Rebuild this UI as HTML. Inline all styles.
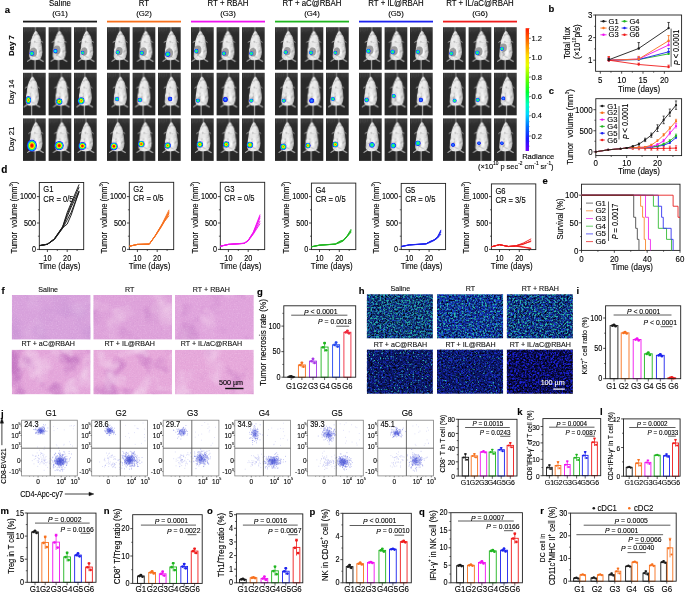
<!DOCTYPE html>
<html><head><meta charset="utf-8"><style>
html,body{margin:0;padding:0;background:#fff;}
svg{display:block;font-family:"Liberation Sans", sans-serif;will-change:transform;filter:blur(0.35px);}
</style></head><body>
<svg width="685" height="593" viewBox="0 0 685 593">
<defs>

<radialGradient id="bLow"><stop offset="0" stop-color="#3cff3c"/><stop offset="0.45" stop-color="#10e8a0"/><stop offset="0.7" stop-color="#00a0ff"/><stop offset="0.9" stop-color="#1a2cff"/><stop offset="1" stop-color="#3030ff" stop-opacity="0.6"/></radialGradient>
<radialGradient id="bCyan"><stop offset="0" stop-color="#40ffe0"/><stop offset="0.45" stop-color="#00d8ff"/><stop offset="0.75" stop-color="#0050ff"/><stop offset="1" stop-color="#2020ff" stop-opacity="0.6"/></radialGradient>
<radialGradient id="bBlue"><stop offset="0" stop-color="#3aa8ff"/><stop offset="0.5" stop-color="#1050ff"/><stop offset="0.85" stop-color="#2020f0"/><stop offset="1" stop-color="#4040ff" stop-opacity="0.5"/></radialGradient>
<radialGradient id="bMid"><stop offset="0" stop-color="#ff3000"/><stop offset="0.22" stop-color="#ffc000"/><stop offset="0.42" stop-color="#c0ff00"/><stop offset="0.6" stop-color="#10e040"/><stop offset="0.78" stop-color="#00b0ff"/><stop offset="0.92" stop-color="#1830ff"/><stop offset="1" stop-color="#3030ff" stop-opacity="0.6"/></radialGradient>
<radialGradient id="bMid2"><stop offset="0" stop-color="#ff2000"/><stop offset="0.3" stop-color="#ff9000"/><stop offset="0.5" stop-color="#e0ff00"/><stop offset="0.65" stop-color="#20e040"/><stop offset="0.82" stop-color="#00a0ff"/><stop offset="0.95" stop-color="#1a28ff"/><stop offset="1" stop-color="#3030ff" stop-opacity="0.6"/></radialGradient>
<radialGradient id="bHigh"><stop offset="0" stop-color="#e00000"/><stop offset="0.22" stop-color="#ff2000"/><stop offset="0.38" stop-color="#ffa000"/><stop offset="0.5" stop-color="#f0ff00"/><stop offset="0.64" stop-color="#30f030"/><stop offset="0.78" stop-color="#00c0ff"/><stop offset="0.9" stop-color="#1a28ff"/><stop offset="1" stop-color="#3030ff" stop-opacity="0.7"/></radialGradient>
<linearGradient id="mbody" x1="0" y1="0" x2="1" y2="0"><stop offset="0" stop-color="#b4b4b4"/><stop offset="0.22" stop-color="#e4e4e4"/><stop offset="0.6" stop-color="#ececec"/><stop offset="1" stop-color="#b6b6b6"/></linearGradient>
<linearGradient id="mbg" x1="0" y1="0" x2="0" y2="1"><stop offset="0" stop-color="#3a3a3a"/><stop offset="0.18" stop-color="#2c2c2c"/><stop offset="1" stop-color="#272727"/></linearGradient>
<filter id="mtex" x="0" y="0" width="100%" height="100%" color-interpolation-filters="sRGB">
<feTurbulence type="fractalNoise" baseFrequency="0.3" numOctaves="2" seed="4" result="t"/>
<feColorMatrix in="t" type="matrix" values="0 0 0 0 0.5  0 0 0 0 0.5  0 0 0 0 0.5  -2.2 0 0 0 1.0" result="d"/>
<feColorMatrix in="t" type="matrix" values="0 0 0 0 1  0 0 0 0 1  0 0 0 0 1  0 2.4 0 0 -1.1" result="w"/>
<feMerge result="m"><feMergeNode in="SourceGraphic"/><feMergeNode in="d"/><feMergeNode in="w"/></feMerge>
<feComposite in="m" in2="SourceGraphic" operator="in" result="c"/>
<feGaussianBlur in="c" stdDeviation="0.35"/>
</filter>
<filter id="mblur" x="-5%" y="-5%" width="110%" height="110%"><feGaussianBlur stdDeviation="0.3"/></filter>
<g id="mbgG">
<rect x="0" y="0" width="23" height="43" fill="url(#mbg)"/>
<g stroke="#484848" stroke-width="0.55" filter="url(#mblur)"><line x1="1.5" y1="0" x2="1.5" y2="5"/><line x1="3.2" y1="0" x2="3.2" y2="4"/><line x1="5" y1="0" x2="5" y2="5"/><line x1="6.8" y1="0" x2="6.8" y2="4"/><line x1="8.6" y1="0" x2="8.6" y2="3.5"/><line x1="16.2" y1="0" x2="16.2" y2="4"/><line x1="18" y1="0" x2="18" y2="5"/><line x1="19.8" y1="0" x2="19.8" y2="4"/><line x1="21.5" y1="0" x2="21.5" y2="4.5"/></g>
</g>
<g id="mbodyG"><g filter="url(#mblur)">
<path d="M12.2 0 L13.7 0 L13.6 5 L12.3 5 Z" fill="#777"/>
<path d="M12.6 43 L12.6 32" stroke="#a8a8a8" stroke-width="1.2"/>
<path d="M8.6 32 L4.6 34.6 M17 32.2 L21.2 34.8" stroke="#b8b8b8" stroke-width="1.1" fill="none"/>
<path d="M8.6 13.8 L5.8 15.4 M18.2 13.8 L20.6 15.4" stroke="#b0b0b0" stroke-width="0.9" fill="none"/>
</g>
<path filter="url(#mtex)" transform="translate(13 3) scale(1.13 1.05) translate(-13 -3)" d="M13.2 3.4 C14.6 4.4 15.4 5.6 15.8 7 C16.9 8.2 17.6 9.4 17.6 10.8 C17.9 12 18.1 13 18 14 C18.5 15.6 18.7 17 18.8 18.4 C19.2 20.5 19.3 23 19.1 25 C19 27 18.6 28.6 17.9 29.9 C17.2 31 15.4 31.9 12.6 32.1 C9.9 31.9 8.6 31.2 8.1 30.4 C7.4 29 7.2 27.6 7.3 26 C7.4 24 7.6 22.5 7.8 21 C8.1 19 8.3 17.4 8.6 15.8 C8.6 14.2 8.8 12.6 9.3 11.3 C9.8 10 10.4 8.2 11.1 6.9 C11.7 5.3 12.4 4.1 13.2 3.4 Z" fill="url(#mbody)"/>
</g>

<linearGradient id="cbar" x1="0" y1="0" x2="0" y2="1">
<stop offset="0" stop-color="#ff1a00"/><stop offset="0.1" stop-color="#ff6a00"/><stop offset="0.22" stop-color="#ffd800"/>
<stop offset="0.3" stop-color="#e8ff00"/><stop offset="0.42" stop-color="#60ff00"/><stop offset="0.52" stop-color="#00ff30"/>
<stop offset="0.62" stop-color="#00ffc0"/><stop offset="0.7" stop-color="#00d8ff"/><stop offset="0.8" stop-color="#0070ff"/>
<stop offset="0.9" stop-color="#1818ff"/><stop offset="1" stop-color="#7000ff"/></linearGradient>
<filter id="he0" x="0" y="0" width="100%" height="100%" color-interpolation-filters="sRGB">
<feTurbulence type="fractalNoise" baseFrequency="0.04" numOctaves="3" seed="3" result="t"/>
<feColorMatrix in="t" type="matrix" values="0 0 0 0 0.784  0 0 0 0 0.573  0 0 0 0 0.831  2 0 0 0 -1" result="dk"/>
<feColorMatrix in="t" type="matrix" values="0 0 0 0 0.894  0 0 0 0 0.737  0 0 0 0 0.902  0 1.6 0 0 -0.9" result="lt"/>
<feTurbulence type="fractalNoise" baseFrequency="0.75" numOctaves="1" seed="14" result="t2"/>
<feColorMatrix in="t2" type="matrix" values="0 0 0 0 1  0 0 0 0 0.93  0 0 0 0 1  0.6 0 0 0 -0.3" result="fw"/>
<feColorMatrix in="t2" type="matrix" values="0 0 0 0 0.62  0 0 0 0 0.4  0 0 0 0 0.72  0 0.45 0 0 -0.25" result="fd"/>
<feMerge result="m"><feMergeNode in="SourceGraphic"/><feMergeNode in="dk"/><feMergeNode in="lt"/><feMergeNode in="fw"/><feMergeNode in="fd"/></feMerge>
<feComposite in="m" in2="SourceGraphic" operator="in"/>
</filter>
<filter id="he1" x="0" y="0" width="100%" height="100%" color-interpolation-filters="sRGB">
<feTurbulence type="fractalNoise" baseFrequency="0.04" numOctaves="3" seed="8" result="t"/>
<feColorMatrix in="t" type="matrix" values="0 0 0 0 0.800  0 0 0 0 0.533  0 0 0 0 0.800  2.4 0 0 0 -1.25" result="dk"/>
<feColorMatrix in="t" type="matrix" values="0 0 0 0 0.925  0 0 0 0 0.769  0 0 0 0 0.902  0 2.4 0 0 -1.3" result="lt"/>
<feTurbulence type="fractalNoise" baseFrequency="0.75" numOctaves="1" seed="19" result="t2"/>
<feColorMatrix in="t2" type="matrix" values="0 0 0 0 1  0 0 0 0 0.93  0 0 0 0 1  0.6 0 0 0 -0.3" result="fw"/>
<feColorMatrix in="t2" type="matrix" values="0 0 0 0 0.62  0 0 0 0 0.4  0 0 0 0 0.72  0 0.45 0 0 -0.25" result="fd"/>
<feMerge result="m"><feMergeNode in="SourceGraphic"/><feMergeNode in="dk"/><feMergeNode in="lt"/><feMergeNode in="fw"/><feMergeNode in="fd"/></feMerge>
<feComposite in="m" in2="SourceGraphic" operator="in"/>
</filter>
<filter id="he2" x="0" y="0" width="100%" height="100%" color-interpolation-filters="sRGB">
<feTurbulence type="fractalNoise" baseFrequency="0.04" numOctaves="3" seed="13" result="t"/>
<feColorMatrix in="t" type="matrix" values="0 0 0 0 0.800  0 0 0 0 0.533  0 0 0 0 0.800  2.4 0 0 0 -1.25" result="dk"/>
<feColorMatrix in="t" type="matrix" values="0 0 0 0 0.933  0 0 0 0 0.776  0 0 0 0 0.910  0 2.2 0 0 -1.2" result="lt"/>
<feTurbulence type="fractalNoise" baseFrequency="0.75" numOctaves="1" seed="24" result="t2"/>
<feColorMatrix in="t2" type="matrix" values="0 0 0 0 1  0 0 0 0 0.93  0 0 0 0 1  0.6 0 0 0 -0.3" result="fw"/>
<feColorMatrix in="t2" type="matrix" values="0 0 0 0 0.62  0 0 0 0 0.4  0 0 0 0 0.72  0 0.45 0 0 -0.25" result="fd"/>
<feMerge result="m"><feMergeNode in="SourceGraphic"/><feMergeNode in="dk"/><feMergeNode in="lt"/><feMergeNode in="fw"/><feMergeNode in="fd"/></feMerge>
<feComposite in="m" in2="SourceGraphic" operator="in"/>
</filter>
<filter id="he3" x="0" y="0" width="100%" height="100%" color-interpolation-filters="sRGB">
<feTurbulence type="fractalNoise" baseFrequency="0.04" numOctaves="3" seed="18" result="t"/>
<feColorMatrix in="t" type="matrix" values="0 0 0 0 0.776  0 0 0 0 0.478  0 0 0 0 0.769  3.4 0 0 0 -1.75" result="dk"/>
<feColorMatrix in="t" type="matrix" values="0 0 0 0 0.949  0 0 0 0 0.824  0 0 0 0 0.925  0 2.8 0 0 -1.45" result="lt"/>
<feTurbulence type="fractalNoise" baseFrequency="0.75" numOctaves="1" seed="29" result="t2"/>
<feColorMatrix in="t2" type="matrix" values="0 0 0 0 1  0 0 0 0 0.93  0 0 0 0 1  0.6 0 0 0 -0.3" result="fw"/>
<feColorMatrix in="t2" type="matrix" values="0 0 0 0 0.62  0 0 0 0 0.4  0 0 0 0 0.72  0 0.45 0 0 -0.25" result="fd"/>
<feMerge result="m"><feMergeNode in="SourceGraphic"/><feMergeNode in="dk"/><feMergeNode in="lt"/><feMergeNode in="fw"/><feMergeNode in="fd"/></feMerge>
<feComposite in="m" in2="SourceGraphic" operator="in"/>
</filter>
<filter id="he4" x="0" y="0" width="100%" height="100%" color-interpolation-filters="sRGB">
<feTurbulence type="fractalNoise" baseFrequency="0.04" numOctaves="3" seed="23" result="t"/>
<feColorMatrix in="t" type="matrix" values="0 0 0 0 0.800  0 0 0 0 0.502  0 0 0 0 0.784  3.4 0 0 0 -1.8" result="dk"/>
<feColorMatrix in="t" type="matrix" values="0 0 0 0 0.949  0 0 0 0 0.824  0 0 0 0 0.925  0 2.8 0 0 -1.4" result="lt"/>
<feTurbulence type="fractalNoise" baseFrequency="0.75" numOctaves="1" seed="34" result="t2"/>
<feColorMatrix in="t2" type="matrix" values="0 0 0 0 1  0 0 0 0 0.93  0 0 0 0 1  0.6 0 0 0 -0.3" result="fw"/>
<feColorMatrix in="t2" type="matrix" values="0 0 0 0 0.62  0 0 0 0 0.4  0 0 0 0 0.72  0 0.45 0 0 -0.25" result="fd"/>
<feMerge result="m"><feMergeNode in="SourceGraphic"/><feMergeNode in="dk"/><feMergeNode in="lt"/><feMergeNode in="fw"/><feMergeNode in="fd"/></feMerge>
<feComposite in="m" in2="SourceGraphic" operator="in"/>
</filter>
<filter id="he5" x="0" y="0" width="100%" height="100%" color-interpolation-filters="sRGB">
<feTurbulence type="fractalNoise" baseFrequency="0.04" numOctaves="3" seed="28" result="t"/>
<feColorMatrix in="t" type="matrix" values="0 0 0 0 0.800  0 0 0 0 0.518  0 0 0 0 0.784  2.8 0 0 0 -1.45" result="dk"/>
<feColorMatrix in="t" type="matrix" values="0 0 0 0 0.941  0 0 0 0 0.800  0 0 0 0 0.918  0 2.4 0 0 -1.25" result="lt"/>
<feTurbulence type="fractalNoise" baseFrequency="0.75" numOctaves="1" seed="39" result="t2"/>
<feColorMatrix in="t2" type="matrix" values="0 0 0 0 1  0 0 0 0 0.93  0 0 0 0 1  0.6 0 0 0 -0.3" result="fw"/>
<feColorMatrix in="t2" type="matrix" values="0 0 0 0 0.62  0 0 0 0 0.4  0 0 0 0 0.72  0 0.45 0 0 -0.25" result="fd"/>
<feMerge result="m"><feMergeNode in="SourceGraphic"/><feMergeNode in="dk"/><feMergeNode in="lt"/><feMergeNode in="fw"/><feMergeNode in="fd"/></feMerge>
<feComposite in="m" in2="SourceGraphic" operator="in"/>
</filter>
<filter id="fl0" x="0" y="0" width="100%" height="100%" color-interpolation-filters="sRGB">
<feTurbulence type="fractalNoise" baseFrequency="0.55" numOctaves="2" seed="21" result="t"/>
<feColorMatrix in="t" type="matrix" values="0 0 0 0 0.102  0 0 0 0 0.267  0 0 0 0 0.769  4 0 0 0 -1.7" result="bl"/>
<feColorMatrix in="t" type="matrix" values="0 0 0 0 0.149  0 0 0 0 0.675  0 0 0 0 0.651  0 4 0 0 -1.85" result="cy"/>
<feColorMatrix in="t" type="matrix" values="0 0 0 0 0.01  0 0 0 0 0.01  0 0 0 0 0.06  0 0 4 0 -2" result="bk"/>
<feMerge result="m"><feMergeNode in="SourceGraphic"/><feMergeNode in="bl"/><feMergeNode in="bk"/><feMergeNode in="cy"/></feMerge>
<feComposite in="m" in2="SourceGraphic" operator="in"/>
</filter>
<filter id="fl1" x="0" y="0" width="100%" height="100%" color-interpolation-filters="sRGB">
<feTurbulence type="fractalNoise" baseFrequency="0.55" numOctaves="2" seed="28" result="t"/>
<feColorMatrix in="t" type="matrix" values="0 0 0 0 0.094  0 0 0 0 0.220  0 0 0 0 0.816  4 0 0 0 -1.55" result="bl"/>
<feColorMatrix in="t" type="matrix" values="0 0 0 0 0.165  0 0 0 0 0.722  0 0 0 0 0.690  0 4 0 0 -1.95" result="cy"/>
<feColorMatrix in="t" type="matrix" values="0 0 0 0 0.01  0 0 0 0 0.01  0 0 0 0 0.06  0 0 4 0 -2.1" result="bk"/>
<feMerge result="m"><feMergeNode in="SourceGraphic"/><feMergeNode in="bl"/><feMergeNode in="bk"/><feMergeNode in="cy"/></feMerge>
<feComposite in="m" in2="SourceGraphic" operator="in"/>
</filter>
<filter id="fl2" x="0" y="0" width="100%" height="100%" color-interpolation-filters="sRGB">
<feTurbulence type="fractalNoise" baseFrequency="0.55" numOctaves="2" seed="35" result="t"/>
<feColorMatrix in="t" type="matrix" values="0 0 0 0 0.094  0 0 0 0 0.220  0 0 0 0 0.784  4 0 0 0 -1.65" result="bl"/>
<feColorMatrix in="t" type="matrix" values="0 0 0 0 0.165  0 0 0 0 0.722  0 0 0 0 0.682  0 4 0 0 -1.9" result="cy"/>
<feColorMatrix in="t" type="matrix" values="0 0 0 0 0.01  0 0 0 0 0.01  0 0 0 0 0.06  0 0 4 0 -2" result="bk"/>
<feMerge result="m"><feMergeNode in="SourceGraphic"/><feMergeNode in="bl"/><feMergeNode in="bk"/><feMergeNode in="cy"/></feMerge>
<feComposite in="m" in2="SourceGraphic" operator="in"/>
</filter>
<filter id="fl3" x="0" y="0" width="100%" height="100%" color-interpolation-filters="sRGB">
<feTurbulence type="fractalNoise" baseFrequency="0.55" numOctaves="2" seed="42" result="t"/>
<feColorMatrix in="t" type="matrix" values="0 0 0 0 0.102  0 0 0 0 0.173  0 0 0 0 0.722  4 0 0 0 -1.8" result="bl"/>
<feColorMatrix in="t" type="matrix" values="0 0 0 0 0.188  0 0 0 0 0.753  0 0 0 0 0.722  0 5 0 0 -3.05" result="cy"/>
<feColorMatrix in="t" type="matrix" values="0 0 0 0 0.01  0 0 0 0 0.01  0 0 0 0 0.06  0 0 4 0 -2" result="bk"/>
<feMerge result="m"><feMergeNode in="SourceGraphic"/><feMergeNode in="bl"/><feMergeNode in="bk"/><feMergeNode in="cy"/></feMerge>
<feComposite in="m" in2="SourceGraphic" operator="in"/>
</filter>
<filter id="fl4" x="0" y="0" width="100%" height="100%" color-interpolation-filters="sRGB">
<feTurbulence type="fractalNoise" baseFrequency="0.55" numOctaves="2" seed="49" result="t"/>
<feColorMatrix in="t" type="matrix" values="0 0 0 0 0.102  0 0 0 0 0.173  0 0 0 0 0.769  4 0 0 0 -1.7" result="bl"/>
<feColorMatrix in="t" type="matrix" values="0 0 0 0 0.188  0 0 0 0 0.753  0 0 0 0 0.722  0 5 0 0 -3.2" result="cy"/>
<feColorMatrix in="t" type="matrix" values="0 0 0 0 0.01  0 0 0 0 0.01  0 0 0 0 0.06  0 0 4 0 -2" result="bk"/>
<feMerge result="m"><feMergeNode in="SourceGraphic"/><feMergeNode in="bl"/><feMergeNode in="bk"/><feMergeNode in="cy"/></feMerge>
<feComposite in="m" in2="SourceGraphic" operator="in"/>
</filter>
<filter id="fl5" x="0" y="0" width="100%" height="100%" color-interpolation-filters="sRGB">
<feTurbulence type="fractalNoise" baseFrequency="0.55" numOctaves="2" seed="56" result="t"/>
<feColorMatrix in="t" type="matrix" values="0 0 0 0 0.110  0 0 0 0 0.133  0 0 0 0 0.847  4 0 0 0 -1.55" result="bl"/>
<feColorMatrix in="t" type="matrix" values="0 0 0 0 0.188  0 0 0 0 0.816  0 0 0 0 0.753  0 1 0 0 -5" result="cy"/>
<feColorMatrix in="t" type="matrix" values="0 0 0 0 0.01  0 0 0 0 0.01  0 0 0 0 0.06  0 0 4 0 -1.8" result="bk"/>
<feMerge result="m"><feMergeNode in="SourceGraphic"/><feMergeNode in="bl"/><feMergeNode in="bk"/><feMergeNode in="cy"/></feMerge>
<feComposite in="m" in2="SourceGraphic" operator="in"/>
</filter>
<radialGradient id="fc"><stop offset="0" stop-color="#2a3ab8" stop-opacity="0.85"/><stop offset="0.45" stop-color="#4a5ad8" stop-opacity="0.5"/><stop offset="1" stop-color="#8a94f0" stop-opacity="0"/></radialGradient>
</defs>
<rect x="0" y="0" width="685" height="593" fill="#fff"/>
<text x="60" y="3.5" font-size="8.35" text-anchor="middle" fill="#000" stroke="#000" stroke-width="0.12" dominant-baseline="central" transform="translate(60 3.5) scale(0.94 1) translate(-60 -3.5)">Saline</text>
<text x="60" y="13.1" font-size="7.8" text-anchor="middle" fill="#000" stroke="#000" stroke-width="0.12" dominant-baseline="central">(G1)</text>
<rect x="23" y="20.7" width="74" height="1.8" fill="#1a1a1a" stroke="none" stroke-width="0.8"/>
<svg x="23" y="27.2" width="22.7" height="42.5" viewBox="0 0 23 43" preserveAspectRatio="none" overflow="hidden"><use href="#mbgG"/><use href="#mbodyG" x="-0.48"/></svg>
<ellipse cx="33.4" cy="52.3" rx="3.7" ry="4.5" fill="#8a8a8a" opacity="0.8"/>
<ellipse cx="31.8" cy="53.5" rx="2.48" ry="2.48" fill="url(#bLow)"/>
<svg x="48.6" y="27.2" width="22.7" height="42.5" viewBox="0 0 23 43" preserveAspectRatio="none" overflow="hidden"><use href="#mbgG"/><use href="#mbodyG" x="-2.51"/></svg>
<ellipse cx="57" cy="49.9" rx="3.5" ry="4.3" fill="#8a8a8a" opacity="0.8"/>
<ellipse cx="55.4" cy="51.1" rx="2.27" ry="2.27" fill="url(#bCyan)"/>
<svg x="74" y="27.2" width="22.7" height="42.5" viewBox="0 0 23 43" preserveAspectRatio="none" overflow="hidden"><use href="#mbgG"/><use href="#mbodyG" x="-0.69"/></svg>
<ellipse cx="84.2" cy="51.6" rx="3.2" ry="4" fill="#8a8a8a" opacity="0.8"/>
<ellipse cx="82.6" cy="52.8" rx="1.94" ry="1.94" fill="url(#bLow)"/>
<svg x="23" y="72.8" width="22.7" height="42.5" viewBox="0 0 23 43" preserveAspectRatio="none" overflow="hidden"><use href="#mbgG"/><use href="#mbodyG" x="-3.93"/></svg>
<ellipse cx="28.4" cy="100.1" rx="2.7" ry="4.1" fill="url(#bMid)"/>
<svg x="48.6" y="72.8" width="22.7" height="42.5" viewBox="0 0 23 43" preserveAspectRatio="none" overflow="hidden"><use href="#mbgG"/><use href="#mbodyG" x="0"/></svg>
<ellipse cx="59.2" cy="101.6" rx="3.35" ry="3.35" fill="url(#bMid)"/>
<svg x="74" y="72.8" width="22.7" height="42.5" viewBox="0 0 23 43" preserveAspectRatio="none" overflow="hidden"><use href="#mbgG"/><use href="#mbodyG" x="-2.1"/></svg>
<ellipse cx="81.2" cy="100.8" rx="3.46" ry="3.67" fill="url(#bMid)"/>
<svg x="23" y="118.4" width="22.7" height="42.5" viewBox="0 0 23 43" preserveAspectRatio="none" overflow="hidden"><use href="#mbgG"/><use href="#mbodyG" x="-0.38"/></svg>
<ellipse cx="31.9" cy="145.6" rx="5.08" ry="6.05" fill="url(#bHigh)"/>
<svg x="48.6" y="118.4" width="22.7" height="42.5" viewBox="0 0 23 43" preserveAspectRatio="none" overflow="hidden"><use href="#mbgG"/><use href="#mbodyG" x="0"/></svg>
<ellipse cx="59.2" cy="145.6" rx="4.64" ry="4.64" fill="url(#bHigh)"/>
<svg x="74" y="118.4" width="22.7" height="42.5" viewBox="0 0 23 43" preserveAspectRatio="none" overflow="hidden"><use href="#mbgG"/><use href="#mbodyG" x="-0.89"/></svg>
<ellipse cx="82.4" cy="146" rx="4" ry="4" fill="url(#bHigh)"/>
<text x="144" y="3.5" font-size="8.35" text-anchor="middle" fill="#000" stroke="#000" stroke-width="0.12" dominant-baseline="central" transform="translate(144 3.5) scale(0.94 1) translate(-144 -3.5)">RT</text>
<text x="144" y="13.1" font-size="7.8" text-anchor="middle" fill="#000" stroke="#000" stroke-width="0.12" dominant-baseline="central">(G2)</text>
<rect x="107" y="20.7" width="74" height="1.8" fill="#f7701d" stroke="none" stroke-width="0.8"/>
<svg x="107" y="27.2" width="22.7" height="42.5" viewBox="0 0 23 43" preserveAspectRatio="none" overflow="hidden"><use href="#mbgG"/><use href="#mbodyG" x="0"/></svg>
<ellipse cx="119.3" cy="51.1" rx="3.4" ry="4.2" fill="#8a8a8a" opacity="0.8"/>
<ellipse cx="117.7" cy="52.3" rx="2.16" ry="2.16" fill="url(#bLow)"/>
<svg x="132.6" y="27.2" width="22.7" height="42.5" viewBox="0 0 23 43" preserveAspectRatio="none" overflow="hidden"><use href="#mbgG"/><use href="#mbodyG" x="-0.08"/></svg>
<ellipse cx="143.4" cy="51.8" rx="3.4" ry="4.2" fill="#8a8a8a" opacity="0.8"/>
<ellipse cx="141.8" cy="53" rx="2.16" ry="2.16" fill="url(#bLow)"/>
<svg x="158" y="27.2" width="22.7" height="42.5" viewBox="0 0 23 43" preserveAspectRatio="none" overflow="hidden"><use href="#mbgG"/><use href="#mbodyG" x="0"/></svg>
<ellipse cx="169.3" cy="53" rx="3.9" ry="4.7" fill="#8a8a8a" opacity="0.8"/>
<ellipse cx="167.7" cy="54.2" rx="2.7" ry="2.7" fill="url(#bLow)"/>
<svg x="107" y="72.8" width="22.7" height="42.5" viewBox="0 0 23 43" preserveAspectRatio="none" overflow="hidden"><use href="#mbgG"/><use href="#mbodyG" x="0"/></svg>
<ellipse cx="117" cy="99" rx="2.27" ry="2.27" fill="url(#bLow)"/>
<svg x="132.6" y="72.8" width="22.7" height="42.5" viewBox="0 0 23 43" preserveAspectRatio="none" overflow="hidden"><use href="#mbgG"/><use href="#mbodyG" x="-2"/></svg>
<ellipse cx="139.9" cy="100" rx="2.27" ry="2.27" fill="url(#bLow)"/>
<svg x="158" y="72.8" width="22.7" height="42.5" viewBox="0 0 23 43" preserveAspectRatio="none" overflow="hidden"><use href="#mbgG"/><use href="#mbodyG" x="0"/></svg>
<ellipse cx="170.1" cy="99" rx="2.38" ry="2.38" fill="url(#bBlue)"/>
<svg x="107" y="118.4" width="22.7" height="42.5" viewBox="0 0 23 43" preserveAspectRatio="none" overflow="hidden"><use href="#mbgG"/><use href="#mbodyG" x="-2.41"/></svg>
<ellipse cx="113.9" cy="146.3" rx="3.89" ry="3.89" fill="url(#bHigh)"/>
<svg x="132.6" y="118.4" width="22.7" height="42.5" viewBox="0 0 23 43" preserveAspectRatio="none" overflow="hidden"><use href="#mbgG"/><use href="#mbodyG" x="-0.59"/></svg>
<ellipse cx="141.3" cy="144" rx="3.35" ry="3.35" fill="url(#bMid2)"/>
<svg x="158" y="118.4" width="22.7" height="42.5" viewBox="0 0 23 43" preserveAspectRatio="none" overflow="hidden"><use href="#mbgG"/><use href="#mbodyG" x="0"/></svg>
<ellipse cx="167.7" cy="145.6" rx="3.24" ry="3.24" fill="url(#bMid)"/>
<text x="228" y="3.5" font-size="8.35" text-anchor="middle" fill="#000" stroke="#000" stroke-width="0.12" dominant-baseline="central" transform="translate(228 3.5) scale(0.94 1) translate(-228 -3.5)">RT + RBAH</text>
<text x="228" y="13.1" font-size="7.8" text-anchor="middle" fill="#000" stroke="#000" stroke-width="0.12" dominant-baseline="central">(G3)</text>
<rect x="191" y="20.7" width="74" height="1.8" fill="#f013f0" stroke="none" stroke-width="0.8"/>
<svg x="191" y="27.2" width="22.7" height="42.5" viewBox="0 0 23 43" preserveAspectRatio="none" overflow="hidden"><use href="#mbgG"/><use href="#mbodyG" x="-4.03"/></svg>
<ellipse cx="197.9" cy="49.9" rx="3.5" ry="4.3" fill="#8a8a8a" opacity="0.8"/>
<ellipse cx="196.3" cy="51.1" rx="2.27" ry="2.27" fill="url(#bLow)"/>
<svg x="216.6" y="27.2" width="22.7" height="42.5" viewBox="0 0 23 43" preserveAspectRatio="none" overflow="hidden"><use href="#mbgG"/><use href="#mbodyG" x="-2"/></svg>
<ellipse cx="225.5" cy="52.3" rx="3.4" ry="4.2" fill="#8a8a8a" opacity="0.8"/>
<ellipse cx="223.9" cy="53.5" rx="2.16" ry="2.16" fill="url(#bLow)"/>
<svg x="242" y="27.2" width="22.7" height="42.5" viewBox="0 0 23 43" preserveAspectRatio="none" overflow="hidden"><use href="#mbgG"/><use href="#mbodyG" x="0"/></svg>
<ellipse cx="252.9" cy="52.3" rx="3.4" ry="4.2" fill="#8a8a8a" opacity="0.8"/>
<ellipse cx="251.3" cy="53.5" rx="2.16" ry="2.16" fill="url(#bLow)"/>
<svg x="191" y="72.8" width="22.7" height="42.5" viewBox="0 0 23 43" preserveAspectRatio="none" overflow="hidden"><use href="#mbgG"/><use href="#mbodyG" x="-2.41"/></svg>
<ellipse cx="197.9" cy="100.7" rx="2.16" ry="2.16" fill="url(#bLow)"/>
<svg x="216.6" y="72.8" width="22.7" height="42.5" viewBox="0 0 23 43" preserveAspectRatio="none" overflow="hidden"><use href="#mbgG"/><use href="#mbodyG" x="-0.59"/></svg>
<ellipse cx="225.3" cy="99.5" rx="2.7" ry="2.7" fill="url(#bBlue)"/>
<svg x="242" y="72.8" width="22.7" height="42.5" viewBox="0 0 23 43" preserveAspectRatio="none" overflow="hidden"><use href="#mbgG"/><use href="#mbodyG" x="0"/></svg>
<ellipse cx="251.3" cy="100.7" rx="2.16" ry="2.16" fill="url(#bLow)"/>
<svg x="191" y="118.4" width="22.7" height="42.5" viewBox="0 0 23 43" preserveAspectRatio="none" overflow="hidden"><use href="#mbgG"/><use href="#mbodyG" x="-0.48"/></svg>
<ellipse cx="199.8" cy="144.4" rx="3.24" ry="3.24" fill="url(#bMid)"/>
<svg x="216.6" y="118.4" width="22.7" height="42.5" viewBox="0 0 23 43" preserveAspectRatio="none" overflow="hidden"><use href="#mbgG"/><use href="#mbodyG" x="0"/></svg>
<ellipse cx="226.2" cy="144.4" rx="3.24" ry="3.24" fill="url(#bMid)"/>
<svg x="242" y="118.4" width="22.7" height="42.5" viewBox="0 0 23 43" preserveAspectRatio="none" overflow="hidden"><use href="#mbgG"/><use href="#mbodyG" x="-1.4"/></svg>
<ellipse cx="249.9" cy="144.9" rx="3.24" ry="3.24" fill="url(#bMid)"/>
<text x="312" y="3.5" font-size="8.35" text-anchor="middle" fill="#000" stroke="#000" stroke-width="0.12" dominant-baseline="central" transform="translate(312 3.5) scale(0.94 1) translate(-312 -3.5)">RT + aC@RBAH</text>
<text x="312" y="13.1" font-size="7.8" text-anchor="middle" fill="#000" stroke="#000" stroke-width="0.12" dominant-baseline="central">(G4)</text>
<rect x="275" y="20.7" width="74" height="1.8" fill="#1fb51f" stroke="none" stroke-width="0.8"/>
<svg x="275" y="27.2" width="22.7" height="42.5" viewBox="0 0 23 43" preserveAspectRatio="none" overflow="hidden"><use href="#mbgG"/><use href="#mbodyG" x="0"/></svg>
<ellipse cx="287.3" cy="51.1" rx="3.4" ry="4.2" fill="#8a8a8a" opacity="0.8"/>
<ellipse cx="285.7" cy="52.3" rx="2.16" ry="2.16" fill="url(#bLow)"/>
<svg x="300.6" y="27.2" width="22.7" height="42.5" viewBox="0 0 23 43" preserveAspectRatio="none" overflow="hidden"><use href="#mbgG"/><use href="#mbodyG" x="0"/></svg>
<ellipse cx="312.6" cy="51.6" rx="3.4" ry="4.2" fill="#8a8a8a" opacity="0.8"/>
<ellipse cx="311" cy="52.8" rx="2.16" ry="2.16" fill="url(#bLow)"/>
<svg x="326" y="27.2" width="22.7" height="42.5" viewBox="0 0 23 43" preserveAspectRatio="none" overflow="hidden"><use href="#mbgG"/><use href="#mbodyG" x="0"/></svg>
<ellipse cx="336.9" cy="51.6" rx="3.2" ry="4" fill="#8a8a8a" opacity="0.8"/>
<ellipse cx="335.3" cy="52.8" rx="1.94" ry="1.94" fill="url(#bLow)"/>
<svg x="275" y="72.8" width="22.7" height="42.5" viewBox="0 0 23 43" preserveAspectRatio="none" overflow="hidden"><use href="#mbgG"/><use href="#mbodyG" x="-0.48"/></svg>
<ellipse cx="283.8" cy="100.7" rx="2.16" ry="2.16" fill="url(#bLow)"/>
<svg x="300.6" y="72.8" width="22.7" height="42.5" viewBox="0 0 23 43" preserveAspectRatio="none" overflow="hidden"><use href="#mbgG"/><use href="#mbodyG" x="0"/></svg>
<ellipse cx="311.7" cy="100.7" rx="2.7" ry="2.7" fill="url(#bBlue)"/>
<svg x="326" y="72.8" width="22.7" height="42.5" viewBox="0 0 23 43" preserveAspectRatio="none" overflow="hidden"><use href="#mbgG"/><use href="#mbodyG" x="-2.41"/></svg>
<ellipse cx="332.9" cy="99" rx="2.16" ry="2.16" fill="url(#bLow)"/>
<svg x="275" y="118.4" width="22.7" height="42.5" viewBox="0 0 23 43" preserveAspectRatio="none" overflow="hidden"><use href="#mbgG"/><use href="#mbodyG" x="-0.99"/></svg>
<ellipse cx="283.3" cy="146.8" rx="3.24" ry="3.24" fill="url(#bMid)"/>
<svg x="300.6" y="118.4" width="22.7" height="42.5" viewBox="0 0 23 43" preserveAspectRatio="none" overflow="hidden"><use href="#mbgG"/><use href="#mbodyG" x="-2"/></svg>
<ellipse cx="307.9" cy="145.6" rx="2.81" ry="2.81" fill="url(#bMid)"/>
<svg x="326" y="118.4" width="22.7" height="42.5" viewBox="0 0 23 43" preserveAspectRatio="none" overflow="hidden"><use href="#mbgG"/><use href="#mbodyG" x="0"/></svg>
<ellipse cx="335.3" cy="144.4" rx="3.02" ry="3.02" fill="url(#bMid)"/>
<text x="396" y="3.5" font-size="8.35" text-anchor="middle" fill="#000" stroke="#000" stroke-width="0.12" dominant-baseline="central" transform="translate(396 3.5) scale(0.94 1) translate(-396 -3.5)">RT + IL@RBAH</text>
<text x="396" y="13.1" font-size="7.8" text-anchor="middle" fill="#000" stroke="#000" stroke-width="0.12" dominant-baseline="central">(G5)</text>
<rect x="359" y="20.7" width="74" height="1.8" fill="#1c22ee" stroke="none" stroke-width="0.8"/>
<svg x="359" y="27.2" width="22.7" height="42.5" viewBox="0 0 23 43" preserveAspectRatio="none" overflow="hidden"><use href="#mbgG"/><use href="#mbodyG" x="0"/></svg>
<ellipse cx="369.9" cy="49.9" rx="3.6" ry="4.4" fill="#8a8a8a" opacity="0.8"/>
<ellipse cx="368.3" cy="51.1" rx="2.38" ry="2.38" fill="url(#bLow)"/>
<svg x="384.6" y="27.2" width="22.7" height="42.5" viewBox="0 0 23 43" preserveAspectRatio="none" overflow="hidden"><use href="#mbgG"/><use href="#mbodyG" x="-1.29"/></svg>
<ellipse cx="394.2" cy="50.7" rx="3.6" ry="4.4" fill="#8a8a8a" opacity="0.8"/>
<ellipse cx="392.6" cy="51.9" rx="2.38" ry="2.38" fill="url(#bLow)"/>
<svg x="410" y="27.2" width="22.7" height="42.5" viewBox="0 0 23 43" preserveAspectRatio="none" overflow="hidden"><use href="#mbgG"/><use href="#mbodyG" x="-1.4"/></svg>
<ellipse cx="419.5" cy="50.7" rx="3.4" ry="4.2" fill="#8a8a8a" opacity="0.8"/>
<ellipse cx="417.9" cy="51.9" rx="2.16" ry="2.16" fill="url(#bLow)"/>
<svg x="359" y="72.8" width="22.7" height="42.5" viewBox="0 0 23 43" preserveAspectRatio="none" overflow="hidden"><use href="#mbgG"/><use href="#mbodyG" x="-1.7"/></svg>
<ellipse cx="366.6" cy="100" rx="2.38" ry="2.38" fill="url(#bLow)"/>
<svg x="384.6" y="72.8" width="22.7" height="42.5" viewBox="0 0 23 43" preserveAspectRatio="none" overflow="hidden"><use href="#mbgG"/><use href="#mbodyG" x="-0.08"/></svg>
<ellipse cx="393.8" cy="96" rx="2.16" ry="2.16" fill="url(#bLow)"/>
<svg x="410" y="72.8" width="22.7" height="42.5" viewBox="0 0 23 43" preserveAspectRatio="none" overflow="hidden"><use href="#mbgG"/><use href="#mbodyG" x="0"/></svg>
<ellipse cx="420.9" cy="100" rx="2.38" ry="2.38" fill="url(#bBlue)"/>
<svg x="359" y="118.4" width="22.7" height="42.5" viewBox="0 0 23 43" preserveAspectRatio="none" overflow="hidden"><use href="#mbgG"/><use href="#mbodyG" x="0"/></svg>
<ellipse cx="372" cy="144.9" rx="2.81" ry="2.81" fill="url(#bLow)"/>
<svg x="384.6" y="118.4" width="22.7" height="42.5" viewBox="0 0 23 43" preserveAspectRatio="none" overflow="hidden"><use href="#mbgG"/><use href="#mbodyG" x="-0.59"/></svg>
<ellipse cx="393.3" cy="145.6" rx="2.81" ry="2.81" fill="url(#bLow)"/>
<svg x="410" y="118.4" width="22.7" height="42.5" viewBox="0 0 23 43" preserveAspectRatio="none" overflow="hidden"><use href="#mbgG"/><use href="#mbodyG" x="-1.4"/></svg>
<ellipse cx="417.9" cy="143.2" rx="2.81" ry="2.81" fill="url(#bLow)"/>
<text x="480" y="3.5" font-size="8.35" text-anchor="middle" fill="#000" stroke="#000" stroke-width="0.12" dominant-baseline="central" transform="translate(480 3.5) scale(0.94 1) translate(-480 -3.5)">RT + IL/aC@RBAH</text>
<text x="480" y="13.1" font-size="7.8" text-anchor="middle" fill="#000" stroke="#000" stroke-width="0.12" dominant-baseline="central">(G6)</text>
<rect x="443" y="20.7" width="74" height="1.8" fill="#ef1c1c" stroke="none" stroke-width="0.8"/>
<svg x="443" y="27.2" width="22.7" height="42.5" viewBox="0 0 23 43" preserveAspectRatio="none" overflow="hidden"><use href="#mbgG"/><use href="#mbodyG" x="-0.99"/></svg>
<ellipse cx="452.9" cy="52.3" rx="3.4" ry="4.2" fill="#8a8a8a" opacity="0.8"/>
<ellipse cx="451.3" cy="53.5" rx="2.16" ry="2.16" fill="url(#bLow)"/>
<svg x="468.6" y="27.2" width="22.7" height="42.5" viewBox="0 0 23 43" preserveAspectRatio="none" overflow="hidden"><use href="#mbgG"/><use href="#mbodyG" x="-0.59"/></svg>
<ellipse cx="478.9" cy="51.6" rx="3.6" ry="4.4" fill="#8a8a8a" opacity="0.8"/>
<ellipse cx="477.3" cy="52.8" rx="2.38" ry="2.38" fill="url(#bLow)"/>
<svg x="494" y="27.2" width="22.7" height="42.5" viewBox="0 0 23 43" preserveAspectRatio="none" overflow="hidden"><use href="#mbgG"/><use href="#mbodyG" x="-1.4"/></svg>
<ellipse cx="503.5" cy="47.6" rx="3.4" ry="4.2" fill="#8a8a8a" opacity="0.8"/>
<ellipse cx="501.9" cy="48.8" rx="2.16" ry="2.16" fill="url(#bLow)"/>
<svg x="443" y="72.8" width="22.7" height="42.5" viewBox="0 0 23 43" preserveAspectRatio="none" overflow="hidden"><use href="#mbgG"/><use href="#mbodyG" x="0"/></svg>
<ellipse cx="454.6" cy="100.7" rx="2.16" ry="2.16" fill="url(#bLow)"/>
<svg x="468.6" y="72.8" width="22.7" height="42.5" viewBox="0 0 23 43" preserveAspectRatio="none" overflow="hidden"><use href="#mbgG"/><use href="#mbodyG" x="-0.08"/></svg>
<ellipse cx="477.8" cy="100" rx="2.16" ry="2.16" fill="url(#bLow)"/>
<svg x="494" y="72.8" width="22.7" height="42.5" viewBox="0 0 23 43" preserveAspectRatio="none" overflow="hidden"><use href="#mbgG"/><use href="#mbodyG" x="0"/></svg>
<ellipse cx="503.3" cy="98.4" rx="2.16" ry="2.16" fill="url(#bBlue)"/>
<svg x="443" y="118.4" width="22.7" height="42.5" viewBox="0 0 23 43" preserveAspectRatio="none" overflow="hidden"><use href="#mbgG"/><use href="#mbodyG" x="0"/></svg>
<ellipse cx="453" cy="144.9" rx="2.16" ry="2.16" fill="url(#bBlue)"/>
<svg x="468.6" y="118.4" width="22.7" height="42.5" viewBox="0 0 23 43" preserveAspectRatio="none" overflow="hidden"><use href="#mbgG"/><use href="#mbodyG" x="0"/></svg>
<ellipse cx="479" cy="143.2" rx="1.94" ry="1.94" fill="url(#bBlue)"/>
<svg x="494" y="118.4" width="22.7" height="42.5" viewBox="0 0 23 43" preserveAspectRatio="none" overflow="hidden"><use href="#mbgG"/><use href="#mbodyG" x="-1.4"/></svg>
<ellipse cx="501.9" cy="143.2" rx="1.94" ry="1.94" fill="url(#bBlue)"/>
<text x="7.3" y="9.6" font-size="9.5" text-anchor="middle" font-weight="bold" fill="#000" stroke="#000" stroke-width="0.12" dominant-baseline="central">a</text>
<text x="11.2" y="45.6" font-size="7.8" text-anchor="middle" font-weight="bold" fill="#000" stroke="#000" stroke-width="0.12" dominant-baseline="central" transform="rotate(-90 11.2 45.6)">Day 7</text>
<text x="11.2" y="92" font-size="7.8" text-anchor="middle" fill="#000" stroke="#000" stroke-width="0.12" dominant-baseline="central" transform="rotate(-90 11.2 92)">Day 14</text>
<text x="11.2" y="139" font-size="7.8" text-anchor="middle" fill="#000" stroke="#000" stroke-width="0.12" dominant-baseline="central" transform="rotate(-90 11.2 139)">Day 21</text>
<rect x="525.6" y="28.2" width="3.4" height="122.8" fill="url(#cbar)" stroke="none" stroke-width="0.8"/>
<line x1="529" y1="38.3" x2="531" y2="38.3" stroke="#444" stroke-width="0.6"/>
<text x="531.6" y="38.3" font-size="7.5" text-anchor="start" fill="#000" stroke="#000" stroke-width="0.12" dominant-baseline="central">1.2</text>
<line x1="529" y1="57.5" x2="531" y2="57.5" stroke="#444" stroke-width="0.6"/>
<text x="531.6" y="57.5" font-size="7.5" text-anchor="start" fill="#000" stroke="#000" stroke-width="0.12" dominant-baseline="central">1.0</text>
<line x1="529" y1="77" x2="531" y2="77" stroke="#444" stroke-width="0.6"/>
<text x="531.6" y="77" font-size="7.5" text-anchor="start" fill="#000" stroke="#000" stroke-width="0.12" dominant-baseline="central">0.8</text>
<line x1="529" y1="96.5" x2="531" y2="96.5" stroke="#444" stroke-width="0.6"/>
<text x="531.6" y="96.5" font-size="7.5" text-anchor="start" fill="#000" stroke="#000" stroke-width="0.12" dominant-baseline="central">0.6</text>
<line x1="529" y1="115.7" x2="531" y2="115.7" stroke="#444" stroke-width="0.6"/>
<text x="531.6" y="115.7" font-size="7.5" text-anchor="start" fill="#000" stroke="#000" stroke-width="0.12" dominant-baseline="central">0.4</text>
<line x1="529" y1="136" x2="531" y2="136" stroke="#444" stroke-width="0.6"/>
<text x="531.6" y="136" font-size="7.5" text-anchor="start" fill="#000" stroke="#000" stroke-width="0.12" dominant-baseline="central">0.2</text>
<line x1="529" y1="28.6" x2="530" y2="28.6" stroke="#666" stroke-width="0.4"/>
<line x1="529" y1="33.5" x2="530" y2="33.5" stroke="#666" stroke-width="0.4"/>
<line x1="529" y1="38.4" x2="530" y2="38.4" stroke="#666" stroke-width="0.4"/>
<line x1="529" y1="43.3" x2="530" y2="43.3" stroke="#666" stroke-width="0.4"/>
<line x1="529" y1="48.2" x2="530" y2="48.2" stroke="#666" stroke-width="0.4"/>
<line x1="529" y1="53.1" x2="530" y2="53.1" stroke="#666" stroke-width="0.4"/>
<line x1="529" y1="58" x2="530" y2="58" stroke="#666" stroke-width="0.4"/>
<line x1="529" y1="62.9" x2="530" y2="62.9" stroke="#666" stroke-width="0.4"/>
<line x1="529" y1="67.8" x2="530" y2="67.8" stroke="#666" stroke-width="0.4"/>
<line x1="529" y1="72.7" x2="530" y2="72.7" stroke="#666" stroke-width="0.4"/>
<line x1="529" y1="77.6" x2="530" y2="77.6" stroke="#666" stroke-width="0.4"/>
<line x1="529" y1="82.5" x2="530" y2="82.5" stroke="#666" stroke-width="0.4"/>
<line x1="529" y1="87.4" x2="530" y2="87.4" stroke="#666" stroke-width="0.4"/>
<line x1="529" y1="92.3" x2="530" y2="92.3" stroke="#666" stroke-width="0.4"/>
<line x1="529" y1="97.2" x2="530" y2="97.2" stroke="#666" stroke-width="0.4"/>
<line x1="529" y1="102.1" x2="530" y2="102.1" stroke="#666" stroke-width="0.4"/>
<line x1="529" y1="107" x2="530" y2="107" stroke="#666" stroke-width="0.4"/>
<line x1="529" y1="111.9" x2="530" y2="111.9" stroke="#666" stroke-width="0.4"/>
<line x1="529" y1="116.8" x2="530" y2="116.8" stroke="#666" stroke-width="0.4"/>
<line x1="529" y1="121.7" x2="530" y2="121.7" stroke="#666" stroke-width="0.4"/>
<line x1="529" y1="126.6" x2="530" y2="126.6" stroke="#666" stroke-width="0.4"/>
<line x1="529" y1="131.5" x2="530" y2="131.5" stroke="#666" stroke-width="0.4"/>
<line x1="529" y1="136.4" x2="530" y2="136.4" stroke="#666" stroke-width="0.4"/>
<line x1="529" y1="141.3" x2="530" y2="141.3" stroke="#666" stroke-width="0.4"/>
<line x1="529" y1="146.2" x2="530" y2="146.2" stroke="#666" stroke-width="0.4"/>
<text x="538.2" y="156.8" font-size="7.6" text-anchor="middle" fill="#000" stroke="#000" stroke-width="0.12" dominant-baseline="central">Radiance</text>
<text x="515.8" y="166.2" font-size="7.4" text-anchor="middle" fill="#000" stroke="#000" stroke-width="0.12" dominant-baseline="central">(×10<tspan font-size="4.81" baseline-shift="2.81">10</tspan> p sec<tspan font-size="4.81" baseline-shift="2.81">-2</tspan> cm<tspan font-size="4.81" baseline-shift="2.81">-1</tspan> sr<tspan font-size="4.81" baseline-shift="2.81">-1</tspan>)</text>
<text x="551.4" y="8.4" font-size="9.5" text-anchor="middle" font-weight="bold" fill="#000" stroke="#000" stroke-width="0.12" dominant-baseline="central">b</text>
<rect x="595.6" y="15" width="86" height="56.3" fill="none" stroke="#1e1e1e" stroke-width="0.9"/>
<line x1="593.2" y1="60.2" x2="595.6" y2="60.2" stroke="#1e1e1e" stroke-width="0.8"/>
<text x="592.4" y="60.2" font-size="9.01" text-anchor="end" fill="#000" stroke="#000" stroke-width="0.12" dominant-baseline="central" transform="translate(592.4 60.2) scale(0.88 1) translate(-592.4 -60.2)">1</text>
<line x1="593.2" y1="37.6" x2="595.6" y2="37.6" stroke="#1e1e1e" stroke-width="0.8"/>
<text x="592.4" y="37.6" font-size="9.01" text-anchor="end" fill="#000" stroke="#000" stroke-width="0.12" dominant-baseline="central" transform="translate(592.4 37.6) scale(0.88 1) translate(-592.4 -37.6)">2</text>
<line x1="593.2" y1="15" x2="595.6" y2="15" stroke="#1e1e1e" stroke-width="0.8"/>
<text x="592.4" y="15" font-size="9.01" text-anchor="end" fill="#000" stroke="#000" stroke-width="0.12" dominant-baseline="central" transform="translate(592.4 15) scale(0.88 1) translate(-592.4 -15)">3</text>
<line x1="594.2" y1="48.9" x2="595.6" y2="48.9" stroke="#1e1e1e" stroke-width="0.7"/>
<line x1="594.2" y1="26.3" x2="595.6" y2="26.3" stroke="#1e1e1e" stroke-width="0.7"/>
<line x1="600.3" y1="71.3" x2="600.3" y2="73.7" stroke="#1e1e1e" stroke-width="0.8"/>
<text x="600.3" y="79.7" font-size="9.01" text-anchor="middle" fill="#000" stroke="#000" stroke-width="0.12" dominant-baseline="central" transform="translate(600.3 79.7) scale(0.88 1) translate(-600.3 -79.7)">5</text>
<line x1="621.65" y1="71.3" x2="621.65" y2="73.7" stroke="#1e1e1e" stroke-width="0.8"/>
<text x="621.65" y="79.7" font-size="9.01" text-anchor="middle" fill="#000" stroke="#000" stroke-width="0.12" dominant-baseline="central" transform="translate(621.65 79.7) scale(0.88 1) translate(-621.65 -79.7)">10</text>
<line x1="643" y1="71.3" x2="643" y2="73.7" stroke="#1e1e1e" stroke-width="0.8"/>
<text x="643" y="79.7" font-size="9.01" text-anchor="middle" fill="#000" stroke="#000" stroke-width="0.12" dominant-baseline="central" transform="translate(643 79.7) scale(0.88 1) translate(-643 -79.7)">15</text>
<line x1="664.35" y1="71.3" x2="664.35" y2="73.7" stroke="#1e1e1e" stroke-width="0.8"/>
<text x="664.35" y="79.7" font-size="9.01" text-anchor="middle" fill="#000" stroke="#000" stroke-width="0.12" dominant-baseline="central" transform="translate(664.35 79.7) scale(0.88 1) translate(-664.35 -79.7)">20</text>
<line x1="610.97" y1="71.3" x2="610.97" y2="72.7" stroke="#1e1e1e" stroke-width="0.7"/>
<line x1="632.32" y1="71.3" x2="632.32" y2="72.7" stroke="#1e1e1e" stroke-width="0.7"/>
<line x1="653.67" y1="71.3" x2="653.67" y2="72.7" stroke="#1e1e1e" stroke-width="0.7"/>
<text x="639.1" y="88.6" font-size="9.12" text-anchor="middle" fill="#000" stroke="#000" stroke-width="0.12" dominant-baseline="central" transform="translate(639.1 88.6) scale(0.88 1) translate(-639.1 -88.6)">Time (days)</text>
<text x="567.1" y="43" font-size="9.23" text-anchor="middle" fill="#000" stroke="#000" stroke-width="0.12" dominant-baseline="central" transform="rotate(-90 567.1 43) translate(567.1 43) scale(0.88 1) translate(-567.1 -43)">Total flux</text>
<text x="577.3" y="41.6" font-size="9.12" text-anchor="middle" fill="#000" stroke="#000" stroke-width="0.12" dominant-baseline="central" transform="rotate(-90 577.3 41.6) translate(577.3 41.6) scale(0.88 1) translate(-577.3 -41.6)">(×10<tspan font-size="5.2" baseline-shift="3.04">10</tspan>p/s)</text>
<path d="M608.84 60.2 L638.73 59.52 L668.62 53.87" stroke="#1fb51f" stroke-width="0.9" fill="none"/>
<line x1="608.84" y1="60.2" x2="608.84" y2="58.39" stroke="#1fb51f" stroke-width="0.8"/>
<line x1="607.64" y1="58.39" x2="610.04" y2="58.39" stroke="#1fb51f" stroke-width="0.8"/>
<circle cx="608.84" cy="60.2" r="1.2" fill="#1fb51f"/>
<line x1="638.73" y1="59.52" x2="638.73" y2="58.17" stroke="#1fb51f" stroke-width="0.8"/>
<line x1="637.53" y1="58.17" x2="639.93" y2="58.17" stroke="#1fb51f" stroke-width="0.8"/>
<circle cx="638.73" cy="59.52" r="1.2" fill="#1fb51f"/>
<line x1="668.62" y1="53.87" x2="668.62" y2="51.61" stroke="#1fb51f" stroke-width="0.8"/>
<line x1="667.42" y1="51.61" x2="669.82" y2="51.61" stroke="#1fb51f" stroke-width="0.8"/>
<circle cx="668.62" cy="53.87" r="1.2" fill="#1fb51f"/>
<path d="M608.84 60.2 L638.73 59.52 L668.62 51.84" stroke="#1c22ee" stroke-width="0.9" fill="none"/>
<line x1="608.84" y1="60.2" x2="608.84" y2="57.94" stroke="#1c22ee" stroke-width="0.8"/>
<line x1="607.64" y1="57.94" x2="610.04" y2="57.94" stroke="#1c22ee" stroke-width="0.8"/>
<circle cx="608.84" cy="60.2" r="1.2" fill="#1c22ee"/>
<line x1="638.73" y1="59.52" x2="638.73" y2="57.71" stroke="#1c22ee" stroke-width="0.8"/>
<line x1="637.53" y1="57.71" x2="639.93" y2="57.71" stroke="#1c22ee" stroke-width="0.8"/>
<circle cx="638.73" cy="59.52" r="1.2" fill="#1c22ee"/>
<line x1="668.62" y1="51.84" x2="668.62" y2="48.45" stroke="#1c22ee" stroke-width="0.8"/>
<line x1="667.42" y1="48.45" x2="669.82" y2="48.45" stroke="#1c22ee" stroke-width="0.8"/>
<circle cx="668.62" cy="51.84" r="1.2" fill="#1c22ee"/>
<path d="M608.84 60.2 L638.73 59.07 L668.62 45.06" stroke="#f013f0" stroke-width="0.9" fill="none"/>
<line x1="608.84" y1="60.2" x2="608.84" y2="57.94" stroke="#f013f0" stroke-width="0.8"/>
<line x1="607.64" y1="57.94" x2="610.04" y2="57.94" stroke="#f013f0" stroke-width="0.8"/>
<circle cx="608.84" cy="60.2" r="1.2" fill="#f013f0"/>
<line x1="638.73" y1="59.07" x2="638.73" y2="56.81" stroke="#f013f0" stroke-width="0.8"/>
<line x1="637.53" y1="56.81" x2="639.93" y2="56.81" stroke="#f013f0" stroke-width="0.8"/>
<circle cx="638.73" cy="59.07" r="1.2" fill="#f013f0"/>
<line x1="668.62" y1="45.06" x2="668.62" y2="41.67" stroke="#f013f0" stroke-width="0.8"/>
<line x1="667.42" y1="41.67" x2="669.82" y2="41.67" stroke="#f013f0" stroke-width="0.8"/>
<circle cx="668.62" cy="45.06" r="1.2" fill="#f013f0"/>
<path d="M608.84 60.2 L638.73 59.07 L668.62 40.76" stroke="#f7701d" stroke-width="0.9" fill="none"/>
<line x1="608.84" y1="60.2" x2="608.84" y2="56.58" stroke="#f7701d" stroke-width="0.8"/>
<line x1="607.64" y1="56.58" x2="610.04" y2="56.58" stroke="#f7701d" stroke-width="0.8"/>
<circle cx="608.84" cy="60.2" r="1.2" fill="#f7701d"/>
<line x1="638.73" y1="59.07" x2="638.73" y2="56.36" stroke="#f7701d" stroke-width="0.8"/>
<line x1="637.53" y1="56.36" x2="639.93" y2="56.36" stroke="#f7701d" stroke-width="0.8"/>
<circle cx="638.73" cy="59.07" r="1.2" fill="#f7701d"/>
<line x1="668.62" y1="40.76" x2="668.62" y2="35.57" stroke="#f7701d" stroke-width="0.8"/>
<line x1="667.42" y1="35.57" x2="669.82" y2="35.57" stroke="#f7701d" stroke-width="0.8"/>
<circle cx="668.62" cy="40.76" r="1.2" fill="#f7701d"/>
<path d="M608.84 60.2 L638.73 64.49 L668.62 66.98" stroke="#ef1c1c" stroke-width="0.9" fill="none"/>
<line x1="608.84" y1="60.2" x2="608.84" y2="56.81" stroke="#ef1c1c" stroke-width="0.8"/>
<line x1="607.64" y1="56.81" x2="610.04" y2="56.81" stroke="#ef1c1c" stroke-width="0.8"/>
<circle cx="608.84" cy="60.2" r="1.2" fill="#ef1c1c"/>
<line x1="638.73" y1="64.49" x2="638.73" y2="63.14" stroke="#ef1c1c" stroke-width="0.8"/>
<line x1="637.53" y1="63.14" x2="639.93" y2="63.14" stroke="#ef1c1c" stroke-width="0.8"/>
<circle cx="638.73" cy="64.49" r="1.2" fill="#ef1c1c"/>
<line x1="668.62" y1="66.98" x2="668.62" y2="65.17" stroke="#ef1c1c" stroke-width="0.8"/>
<line x1="667.42" y1="65.17" x2="669.82" y2="65.17" stroke="#ef1c1c" stroke-width="0.8"/>
<circle cx="668.62" cy="66.98" r="1.2" fill="#ef1c1c"/>
<path d="M608.84 59.75 L638.73 48.45 L668.62 28.11" stroke="#1a1a1a" stroke-width="0.9" fill="none"/>
<line x1="608.84" y1="59.75" x2="608.84" y2="58.62" stroke="#1a1a1a" stroke-width="0.8"/>
<line x1="607.64" y1="58.62" x2="610.04" y2="58.62" stroke="#1a1a1a" stroke-width="0.8"/>
<circle cx="608.84" cy="59.75" r="1.2" fill="#1a1a1a"/>
<line x1="638.73" y1="48.45" x2="638.73" y2="42.57" stroke="#1a1a1a" stroke-width="0.8"/>
<line x1="637.53" y1="42.57" x2="639.93" y2="42.57" stroke="#1a1a1a" stroke-width="0.8"/>
<circle cx="638.73" cy="48.45" r="1.2" fill="#1a1a1a"/>
<line x1="668.62" y1="28.11" x2="668.62" y2="22.46" stroke="#1a1a1a" stroke-width="0.8"/>
<line x1="667.42" y1="22.46" x2="669.82" y2="22.46" stroke="#1a1a1a" stroke-width="0.8"/>
<circle cx="668.62" cy="28.11" r="1.2" fill="#1a1a1a"/>
<line x1="600.4" y1="21.3" x2="606.6" y2="21.3" stroke="#1a1a1a" stroke-width="0.9"/>
<circle cx="603.5" cy="21.3" r="1.2" fill="#1a1a1a"/>
<text x="608.6" y="21.3" font-size="7.6" text-anchor="start" fill="#000" stroke="#000" stroke-width="0.12" dominant-baseline="central">G1</text>
<line x1="600.4" y1="28.05" x2="606.6" y2="28.05" stroke="#f7701d" stroke-width="0.9"/>
<circle cx="603.5" cy="28.05" r="1.2" fill="#f7701d"/>
<text x="608.6" y="28.05" font-size="7.6" text-anchor="start" fill="#000" stroke="#000" stroke-width="0.12" dominant-baseline="central">G2</text>
<line x1="600.4" y1="34.8" x2="606.6" y2="34.8" stroke="#f013f0" stroke-width="0.9"/>
<circle cx="603.5" cy="34.8" r="1.2" fill="#f013f0"/>
<text x="608.6" y="34.8" font-size="7.6" text-anchor="start" fill="#000" stroke="#000" stroke-width="0.12" dominant-baseline="central">G3</text>
<line x1="621.6" y1="21.3" x2="627.4" y2="21.3" stroke="#1fb51f" stroke-width="0.9"/>
<circle cx="624.5" cy="21.3" r="1.2" fill="#1fb51f"/>
<text x="629.4" y="21.3" font-size="7.6" text-anchor="start" fill="#000" stroke="#000" stroke-width="0.12" dominant-baseline="central">G4</text>
<line x1="621.6" y1="28.05" x2="627.4" y2="28.05" stroke="#1c22ee" stroke-width="0.9"/>
<circle cx="624.5" cy="28.05" r="1.2" fill="#1c22ee"/>
<text x="629.4" y="28.05" font-size="7.6" text-anchor="start" fill="#000" stroke="#000" stroke-width="0.12" dominant-baseline="central">G5</text>
<line x1="621.6" y1="34.8" x2="627.4" y2="34.8" stroke="#ef1c1c" stroke-width="0.9"/>
<circle cx="624.5" cy="34.8" r="1.2" fill="#ef1c1c"/>
<text x="629.4" y="34.8" font-size="7.6" text-anchor="start" fill="#000" stroke="#000" stroke-width="0.12" dominant-baseline="central">G6</text>
<line x1="671.1" y1="28.6" x2="671.1" y2="66.7" stroke="#333" stroke-width="0.8"/>
<text x="676.4" y="47.4" font-size="8.32" text-anchor="middle" fill="#000" stroke="#000" stroke-width="0.12" dominant-baseline="central" transform="rotate(-90 676.4 47.4) translate(676.4 47.4) scale(0.88 1) translate(-676.4 -47.4)"><tspan font-style="italic">P</tspan> &lt; 0.0001</text>
<text x="551.3" y="90.5" font-size="9.5" text-anchor="middle" font-weight="bold" fill="#000" stroke="#000" stroke-width="0.12" dominant-baseline="central">c</text>
<rect x="595.8" y="98.7" width="85.8" height="56.9" fill="none" stroke="#1e1e1e" stroke-width="0.9"/>
<line x1="593.4" y1="151.8" x2="595.8" y2="151.8" stroke="#1e1e1e" stroke-width="0.8"/>
<text x="592.6" y="152.2" font-size="9.01" text-anchor="end" fill="#000" stroke="#000" stroke-width="0.12" dominant-baseline="central" transform="translate(592.6 152.2) scale(0.88 1) translate(-592.6 -152.2)">0</text>
<line x1="593.4" y1="130.75" x2="595.8" y2="130.75" stroke="#1e1e1e" stroke-width="0.8"/>
<text x="592.6" y="131.15" font-size="9.01" text-anchor="end" fill="#000" stroke="#000" stroke-width="0.12" dominant-baseline="central" transform="translate(592.6 131.15) scale(0.88 1) translate(-592.6 -131.15)">500</text>
<line x1="593.4" y1="109.7" x2="595.8" y2="109.7" stroke="#1e1e1e" stroke-width="0.8"/>
<text x="592.6" y="110.1" font-size="9.01" text-anchor="end" fill="#000" stroke="#000" stroke-width="0.12" dominant-baseline="central" transform="translate(592.6 110.1) scale(0.88 1) translate(-592.6 -110.1)">1000</text>
<line x1="594.4" y1="141.28" x2="595.8" y2="141.28" stroke="#1e1e1e" stroke-width="0.7"/>
<line x1="594.4" y1="120.23" x2="595.8" y2="120.23" stroke="#1e1e1e" stroke-width="0.7"/>
<line x1="595.8" y1="155.6" x2="595.8" y2="158" stroke="#1e1e1e" stroke-width="0.8"/>
<text x="595.8" y="163" font-size="9.01" text-anchor="middle" fill="#000" stroke="#000" stroke-width="0.12" dominant-baseline="central" transform="translate(595.8 163) scale(0.88 1) translate(-595.8 -163)">0</text>
<line x1="626.65" y1="155.6" x2="626.65" y2="158" stroke="#1e1e1e" stroke-width="0.8"/>
<text x="626.65" y="163" font-size="9.01" text-anchor="middle" fill="#000" stroke="#000" stroke-width="0.12" dominant-baseline="central" transform="translate(626.65 163) scale(0.88 1) translate(-626.65 -163)">10</text>
<line x1="657.5" y1="155.6" x2="657.5" y2="158" stroke="#1e1e1e" stroke-width="0.8"/>
<text x="657.5" y="163" font-size="9.01" text-anchor="middle" fill="#000" stroke="#000" stroke-width="0.12" dominant-baseline="central" transform="translate(657.5 163) scale(0.88 1) translate(-657.5 -163)">20</text>
<line x1="611.22" y1="155.6" x2="611.22" y2="157" stroke="#1e1e1e" stroke-width="0.7"/>
<line x1="642.07" y1="155.6" x2="642.07" y2="157" stroke="#1e1e1e" stroke-width="0.7"/>
<line x1="672.92" y1="155.6" x2="672.92" y2="157" stroke="#1e1e1e" stroke-width="0.7"/>
<text x="639" y="170.8" font-size="9.12" text-anchor="middle" fill="#000" stroke="#000" stroke-width="0.12" dominant-baseline="central" transform="translate(639 170.8) scale(0.88 1) translate(-639 -170.8)">Time (days)</text>
<text x="569.6" y="127" font-size="9.01" text-anchor="middle" fill="#000" stroke="#000" stroke-width="0.12" dominant-baseline="central" transform="rotate(-90 569.6 127) translate(569.6 127) scale(0.88 1) translate(-569.6 -127)">Tumor&#160; volume (mm<tspan font-size="5.14" baseline-shift="3">3</tspan>)</text>
<path d="M595.8 151.8 L608.14 149.82 L620.48 148.73 L626.65 148.01 L632.82 148.1 L638.99 148.26 L645.16 148.35 L651.33 148.43 L657.5 148.43 L663.67 148.35 L669.84 148.26 L676.01 148.1" stroke="#ef1c1c" stroke-width="0.9" fill="none"/>
<circle cx="595.8" cy="151.8" r="1.1" fill="#ef1c1c"/>
<circle cx="608.14" cy="149.82" r="1.1" fill="#ef1c1c"/>
<circle cx="620.48" cy="148.73" r="1.1" fill="#ef1c1c"/>
<line x1="626.65" y1="148.43" x2="626.65" y2="147.59" stroke="#ef1c1c" stroke-width="0.7"/>
<line x1="625.55" y1="147.59" x2="627.75" y2="147.59" stroke="#ef1c1c" stroke-width="0.7"/>
<line x1="625.55" y1="148.43" x2="627.75" y2="148.43" stroke="#ef1c1c" stroke-width="0.7"/>
<circle cx="626.65" cy="148.01" r="1.1" fill="#ef1c1c"/>
<line x1="632.82" y1="149.36" x2="632.82" y2="146.83" stroke="#ef1c1c" stroke-width="0.7"/>
<line x1="631.72" y1="146.83" x2="633.92" y2="146.83" stroke="#ef1c1c" stroke-width="0.7"/>
<line x1="631.72" y1="149.36" x2="633.92" y2="149.36" stroke="#ef1c1c" stroke-width="0.7"/>
<circle cx="632.82" cy="148.1" r="1.1" fill="#ef1c1c"/>
<line x1="638.99" y1="149.74" x2="638.99" y2="146.79" stroke="#ef1c1c" stroke-width="0.7"/>
<line x1="637.89" y1="146.79" x2="640.09" y2="146.79" stroke="#ef1c1c" stroke-width="0.7"/>
<line x1="637.89" y1="149.74" x2="640.09" y2="149.74" stroke="#ef1c1c" stroke-width="0.7"/>
<circle cx="638.99" cy="148.26" r="1.1" fill="#ef1c1c"/>
<line x1="645.16" y1="150.03" x2="645.16" y2="146.66" stroke="#ef1c1c" stroke-width="0.7"/>
<line x1="644.06" y1="146.66" x2="646.26" y2="146.66" stroke="#ef1c1c" stroke-width="0.7"/>
<line x1="644.06" y1="150.03" x2="646.26" y2="150.03" stroke="#ef1c1c" stroke-width="0.7"/>
<circle cx="645.16" cy="148.35" r="1.1" fill="#ef1c1c"/>
<line x1="651.33" y1="150.12" x2="651.33" y2="146.75" stroke="#ef1c1c" stroke-width="0.7"/>
<line x1="650.23" y1="146.75" x2="652.43" y2="146.75" stroke="#ef1c1c" stroke-width="0.7"/>
<line x1="650.23" y1="150.12" x2="652.43" y2="150.12" stroke="#ef1c1c" stroke-width="0.7"/>
<circle cx="651.33" cy="148.43" r="1.1" fill="#ef1c1c"/>
<line x1="657.5" y1="150.12" x2="657.5" y2="146.75" stroke="#ef1c1c" stroke-width="0.7"/>
<line x1="656.4" y1="146.75" x2="658.6" y2="146.75" stroke="#ef1c1c" stroke-width="0.7"/>
<line x1="656.4" y1="150.12" x2="658.6" y2="150.12" stroke="#ef1c1c" stroke-width="0.7"/>
<circle cx="657.5" cy="148.43" r="1.1" fill="#ef1c1c"/>
<line x1="663.67" y1="150.24" x2="663.67" y2="146.45" stroke="#ef1c1c" stroke-width="0.7"/>
<line x1="662.57" y1="146.45" x2="664.77" y2="146.45" stroke="#ef1c1c" stroke-width="0.7"/>
<line x1="662.57" y1="150.24" x2="664.77" y2="150.24" stroke="#ef1c1c" stroke-width="0.7"/>
<circle cx="663.67" cy="148.35" r="1.1" fill="#ef1c1c"/>
<line x1="669.84" y1="150.37" x2="669.84" y2="146.16" stroke="#ef1c1c" stroke-width="0.7"/>
<line x1="668.74" y1="146.16" x2="670.94" y2="146.16" stroke="#ef1c1c" stroke-width="0.7"/>
<line x1="668.74" y1="150.37" x2="670.94" y2="150.37" stroke="#ef1c1c" stroke-width="0.7"/>
<circle cx="669.84" cy="148.26" r="1.1" fill="#ef1c1c"/>
<line x1="676.01" y1="150.41" x2="676.01" y2="145.78" stroke="#ef1c1c" stroke-width="0.7"/>
<line x1="674.91" y1="145.78" x2="677.11" y2="145.78" stroke="#ef1c1c" stroke-width="0.7"/>
<line x1="674.91" y1="150.41" x2="677.11" y2="150.41" stroke="#ef1c1c" stroke-width="0.7"/>
<circle cx="676.01" cy="148.1" r="1.1" fill="#ef1c1c"/>
<path d="M595.8 151.8 L608.14 149.82 L620.48 148.73 L626.65 148.01 L632.82 147.67 L638.99 147.59 L645.16 147.51 L651.33 147.25 L657.5 146.41 L663.67 145.15 L669.84 142.83 L676.01 137.7" stroke="#1c22ee" stroke-width="0.9" fill="none"/>
<circle cx="595.8" cy="151.8" r="1.1" fill="#1c22ee"/>
<circle cx="608.14" cy="149.82" r="1.1" fill="#1c22ee"/>
<circle cx="620.48" cy="148.73" r="1.1" fill="#1c22ee"/>
<line x1="626.65" y1="148.43" x2="626.65" y2="147.59" stroke="#1c22ee" stroke-width="0.7"/>
<line x1="625.55" y1="147.59" x2="627.75" y2="147.59" stroke="#1c22ee" stroke-width="0.7"/>
<circle cx="626.65" cy="148.01" r="1.1" fill="#1c22ee"/>
<line x1="632.82" y1="148.1" x2="632.82" y2="147.25" stroke="#1c22ee" stroke-width="0.7"/>
<line x1="631.72" y1="147.25" x2="633.92" y2="147.25" stroke="#1c22ee" stroke-width="0.7"/>
<circle cx="632.82" cy="147.67" r="1.1" fill="#1c22ee"/>
<line x1="638.99" y1="148.01" x2="638.99" y2="147.17" stroke="#1c22ee" stroke-width="0.7"/>
<line x1="637.89" y1="147.17" x2="640.09" y2="147.17" stroke="#1c22ee" stroke-width="0.7"/>
<circle cx="638.99" cy="147.59" r="1.1" fill="#1c22ee"/>
<line x1="645.16" y1="148.01" x2="645.16" y2="147" stroke="#1c22ee" stroke-width="0.7"/>
<line x1="644.06" y1="147" x2="646.26" y2="147" stroke="#1c22ee" stroke-width="0.7"/>
<circle cx="645.16" cy="147.51" r="1.1" fill="#1c22ee"/>
<line x1="651.33" y1="147.88" x2="651.33" y2="146.62" stroke="#1c22ee" stroke-width="0.7"/>
<line x1="650.23" y1="146.62" x2="652.43" y2="146.62" stroke="#1c22ee" stroke-width="0.7"/>
<circle cx="651.33" cy="147.25" r="1.1" fill="#1c22ee"/>
<line x1="657.5" y1="147.25" x2="657.5" y2="145.57" stroke="#1c22ee" stroke-width="0.7"/>
<line x1="656.4" y1="145.57" x2="658.6" y2="145.57" stroke="#1c22ee" stroke-width="0.7"/>
<circle cx="657.5" cy="146.41" r="1.1" fill="#1c22ee"/>
<line x1="663.67" y1="146.2" x2="663.67" y2="144.1" stroke="#1c22ee" stroke-width="0.7"/>
<line x1="662.57" y1="144.1" x2="664.77" y2="144.1" stroke="#1c22ee" stroke-width="0.7"/>
<circle cx="663.67" cy="145.15" r="1.1" fill="#1c22ee"/>
<line x1="669.84" y1="144.1" x2="669.84" y2="141.57" stroke="#1c22ee" stroke-width="0.7"/>
<line x1="668.74" y1="141.57" x2="670.94" y2="141.57" stroke="#1c22ee" stroke-width="0.7"/>
<circle cx="669.84" cy="142.83" r="1.1" fill="#1c22ee"/>
<line x1="676.01" y1="139.17" x2="676.01" y2="136.22" stroke="#1c22ee" stroke-width="0.7"/>
<line x1="674.91" y1="136.22" x2="677.11" y2="136.22" stroke="#1c22ee" stroke-width="0.7"/>
<circle cx="676.01" cy="137.7" r="1.1" fill="#1c22ee"/>
<path d="M595.8 151.8 L608.14 149.82 L620.48 148.73 L626.65 148.01 L632.82 147.67 L638.99 147.59 L645.16 147.46 L651.33 147.08 L657.5 145.99 L663.67 144.14 L669.84 140.94 L676.01 135.8" stroke="#1fb51f" stroke-width="0.9" fill="none"/>
<circle cx="595.8" cy="151.8" r="1.1" fill="#1fb51f"/>
<circle cx="608.14" cy="149.82" r="1.1" fill="#1fb51f"/>
<circle cx="620.48" cy="148.73" r="1.1" fill="#1fb51f"/>
<line x1="626.65" y1="148.43" x2="626.65" y2="147.59" stroke="#1fb51f" stroke-width="0.7"/>
<line x1="625.55" y1="147.59" x2="627.75" y2="147.59" stroke="#1fb51f" stroke-width="0.7"/>
<circle cx="626.65" cy="148.01" r="1.1" fill="#1fb51f"/>
<line x1="632.82" y1="148.1" x2="632.82" y2="147.25" stroke="#1fb51f" stroke-width="0.7"/>
<line x1="631.72" y1="147.25" x2="633.92" y2="147.25" stroke="#1fb51f" stroke-width="0.7"/>
<circle cx="632.82" cy="147.67" r="1.1" fill="#1fb51f"/>
<line x1="638.99" y1="148.01" x2="638.99" y2="147.17" stroke="#1fb51f" stroke-width="0.7"/>
<line x1="637.89" y1="147.17" x2="640.09" y2="147.17" stroke="#1fb51f" stroke-width="0.7"/>
<circle cx="638.99" cy="147.59" r="1.1" fill="#1fb51f"/>
<line x1="645.16" y1="147.97" x2="645.16" y2="146.96" stroke="#1fb51f" stroke-width="0.7"/>
<line x1="644.06" y1="146.96" x2="646.26" y2="146.96" stroke="#1fb51f" stroke-width="0.7"/>
<circle cx="645.16" cy="147.46" r="1.1" fill="#1fb51f"/>
<line x1="651.33" y1="147.72" x2="651.33" y2="146.45" stroke="#1fb51f" stroke-width="0.7"/>
<line x1="650.23" y1="146.45" x2="652.43" y2="146.45" stroke="#1fb51f" stroke-width="0.7"/>
<circle cx="651.33" cy="147.08" r="1.1" fill="#1fb51f"/>
<line x1="657.5" y1="146.83" x2="657.5" y2="145.15" stroke="#1fb51f" stroke-width="0.7"/>
<line x1="656.4" y1="145.15" x2="658.6" y2="145.15" stroke="#1fb51f" stroke-width="0.7"/>
<circle cx="657.5" cy="145.99" r="1.1" fill="#1fb51f"/>
<line x1="663.67" y1="145.19" x2="663.67" y2="143.09" stroke="#1fb51f" stroke-width="0.7"/>
<line x1="662.57" y1="143.09" x2="664.77" y2="143.09" stroke="#1fb51f" stroke-width="0.7"/>
<circle cx="663.67" cy="144.14" r="1.1" fill="#1fb51f"/>
<line x1="669.84" y1="142.2" x2="669.84" y2="139.68" stroke="#1fb51f" stroke-width="0.7"/>
<line x1="668.74" y1="139.68" x2="670.94" y2="139.68" stroke="#1fb51f" stroke-width="0.7"/>
<circle cx="669.84" cy="140.94" r="1.1" fill="#1fb51f"/>
<line x1="676.01" y1="137.49" x2="676.01" y2="134.12" stroke="#1fb51f" stroke-width="0.7"/>
<line x1="674.91" y1="134.12" x2="677.11" y2="134.12" stroke="#1fb51f" stroke-width="0.7"/>
<circle cx="676.01" cy="135.8" r="1.1" fill="#1fb51f"/>
<path d="M595.8 151.8 L608.14 149.82 L620.48 148.73 L626.65 148.01 L632.82 147.59 L638.99 147.46 L645.16 147.25 L651.33 146.54 L657.5 144.64 L663.67 140.85 L669.84 133.28 L676.01 126.2" stroke="#f013f0" stroke-width="0.9" fill="none"/>
<circle cx="595.8" cy="151.8" r="1.1" fill="#f013f0"/>
<circle cx="608.14" cy="149.82" r="1.1" fill="#f013f0"/>
<circle cx="620.48" cy="148.73" r="1.1" fill="#f013f0"/>
<line x1="626.65" y1="148.43" x2="626.65" y2="147.59" stroke="#f013f0" stroke-width="0.7"/>
<line x1="625.55" y1="147.59" x2="627.75" y2="147.59" stroke="#f013f0" stroke-width="0.7"/>
<circle cx="626.65" cy="148.01" r="1.1" fill="#f013f0"/>
<line x1="632.82" y1="148.01" x2="632.82" y2="147.17" stroke="#f013f0" stroke-width="0.7"/>
<line x1="631.72" y1="147.17" x2="633.92" y2="147.17" stroke="#f013f0" stroke-width="0.7"/>
<circle cx="632.82" cy="147.59" r="1.1" fill="#f013f0"/>
<line x1="638.99" y1="147.97" x2="638.99" y2="146.96" stroke="#f013f0" stroke-width="0.7"/>
<line x1="637.89" y1="146.96" x2="640.09" y2="146.96" stroke="#f013f0" stroke-width="0.7"/>
<circle cx="638.99" cy="147.46" r="1.1" fill="#f013f0"/>
<line x1="645.16" y1="147.88" x2="645.16" y2="146.62" stroke="#f013f0" stroke-width="0.7"/>
<line x1="644.06" y1="146.62" x2="646.26" y2="146.62" stroke="#f013f0" stroke-width="0.7"/>
<circle cx="645.16" cy="147.25" r="1.1" fill="#f013f0"/>
<line x1="651.33" y1="147.38" x2="651.33" y2="145.7" stroke="#f013f0" stroke-width="0.7"/>
<line x1="650.23" y1="145.7" x2="652.43" y2="145.7" stroke="#f013f0" stroke-width="0.7"/>
<circle cx="651.33" cy="146.54" r="1.1" fill="#f013f0"/>
<line x1="657.5" y1="145.7" x2="657.5" y2="143.59" stroke="#f013f0" stroke-width="0.7"/>
<line x1="656.4" y1="143.59" x2="658.6" y2="143.59" stroke="#f013f0" stroke-width="0.7"/>
<circle cx="657.5" cy="144.64" r="1.1" fill="#f013f0"/>
<line x1="663.67" y1="142.33" x2="663.67" y2="139.38" stroke="#f013f0" stroke-width="0.7"/>
<line x1="662.57" y1="139.38" x2="664.77" y2="139.38" stroke="#f013f0" stroke-width="0.7"/>
<circle cx="663.67" cy="140.85" r="1.1" fill="#f013f0"/>
<line x1="669.84" y1="135.38" x2="669.84" y2="131.17" stroke="#f013f0" stroke-width="0.7"/>
<line x1="668.74" y1="131.17" x2="670.94" y2="131.17" stroke="#f013f0" stroke-width="0.7"/>
<circle cx="669.84" cy="133.28" r="1.1" fill="#f013f0"/>
<line x1="676.01" y1="128.73" x2="676.01" y2="123.68" stroke="#f013f0" stroke-width="0.7"/>
<line x1="674.91" y1="123.68" x2="677.11" y2="123.68" stroke="#f013f0" stroke-width="0.7"/>
<circle cx="676.01" cy="126.2" r="1.1" fill="#f013f0"/>
<path d="M595.8 151.8 L608.14 149.82 L620.48 148.73 L626.65 148.01 L632.82 147.59 L638.99 147.38 L645.16 147.08 L651.33 145.06 L657.5 140.77 L663.67 135.04 L669.84 128.43 L676.01 121.19" stroke="#f7701d" stroke-width="0.9" fill="none"/>
<circle cx="595.8" cy="151.8" r="1.1" fill="#f7701d"/>
<circle cx="608.14" cy="149.82" r="1.1" fill="#f7701d"/>
<circle cx="620.48" cy="148.73" r="1.1" fill="#f7701d"/>
<line x1="626.65" y1="148.43" x2="626.65" y2="147.59" stroke="#f7701d" stroke-width="0.7"/>
<line x1="625.55" y1="147.59" x2="627.75" y2="147.59" stroke="#f7701d" stroke-width="0.7"/>
<circle cx="626.65" cy="148.01" r="1.1" fill="#f7701d"/>
<line x1="632.82" y1="148.01" x2="632.82" y2="147.17" stroke="#f7701d" stroke-width="0.7"/>
<line x1="631.72" y1="147.17" x2="633.92" y2="147.17" stroke="#f7701d" stroke-width="0.7"/>
<circle cx="632.82" cy="147.59" r="1.1" fill="#f7701d"/>
<line x1="638.99" y1="147.88" x2="638.99" y2="146.87" stroke="#f7701d" stroke-width="0.7"/>
<line x1="637.89" y1="146.87" x2="640.09" y2="146.87" stroke="#f7701d" stroke-width="0.7"/>
<circle cx="638.99" cy="147.38" r="1.1" fill="#f7701d"/>
<line x1="645.16" y1="147.72" x2="645.16" y2="146.45" stroke="#f7701d" stroke-width="0.7"/>
<line x1="644.06" y1="146.45" x2="646.26" y2="146.45" stroke="#f7701d" stroke-width="0.7"/>
<circle cx="645.16" cy="147.08" r="1.1" fill="#f7701d"/>
<line x1="651.33" y1="145.91" x2="651.33" y2="144.22" stroke="#f7701d" stroke-width="0.7"/>
<line x1="650.23" y1="144.22" x2="652.43" y2="144.22" stroke="#f7701d" stroke-width="0.7"/>
<circle cx="651.33" cy="145.06" r="1.1" fill="#f7701d"/>
<line x1="657.5" y1="141.82" x2="657.5" y2="139.72" stroke="#f7701d" stroke-width="0.7"/>
<line x1="656.4" y1="139.72" x2="658.6" y2="139.72" stroke="#f7701d" stroke-width="0.7"/>
<circle cx="657.5" cy="140.77" r="1.1" fill="#f7701d"/>
<line x1="663.67" y1="136.52" x2="663.67" y2="133.57" stroke="#f7701d" stroke-width="0.7"/>
<line x1="662.57" y1="133.57" x2="664.77" y2="133.57" stroke="#f7701d" stroke-width="0.7"/>
<circle cx="663.67" cy="135.04" r="1.1" fill="#f7701d"/>
<line x1="669.84" y1="130.12" x2="669.84" y2="126.75" stroke="#f7701d" stroke-width="0.7"/>
<line x1="668.74" y1="126.75" x2="670.94" y2="126.75" stroke="#f7701d" stroke-width="0.7"/>
<circle cx="669.84" cy="128.43" r="1.1" fill="#f7701d"/>
<line x1="676.01" y1="123.09" x2="676.01" y2="119.3" stroke="#f7701d" stroke-width="0.7"/>
<line x1="674.91" y1="119.3" x2="677.11" y2="119.3" stroke="#f7701d" stroke-width="0.7"/>
<circle cx="676.01" cy="121.19" r="1.1" fill="#f7701d"/>
<path d="M595.8 151.8 L608.14 149.82 L620.48 148.73 L626.65 148.01 L632.82 146.33 L638.99 144.1 L645.16 139.89 L651.33 135.17 L657.5 128.14 L663.67 119.89 L669.84 112.65 L676.01 105.15" stroke="#1a1a1a" stroke-width="0.9" fill="none"/>
<circle cx="595.8" cy="151.8" r="1.1" fill="#1a1a1a"/>
<circle cx="608.14" cy="149.82" r="1.1" fill="#1a1a1a"/>
<circle cx="620.48" cy="148.73" r="1.1" fill="#1a1a1a"/>
<line x1="626.65" y1="148.43" x2="626.65" y2="147.59" stroke="#1a1a1a" stroke-width="0.7"/>
<line x1="625.55" y1="147.59" x2="627.75" y2="147.59" stroke="#1a1a1a" stroke-width="0.7"/>
<line x1="625.55" y1="148.43" x2="627.75" y2="148.43" stroke="#1a1a1a" stroke-width="0.7"/>
<circle cx="626.65" cy="148.01" r="1.1" fill="#1a1a1a"/>
<line x1="632.82" y1="146.96" x2="632.82" y2="145.7" stroke="#1a1a1a" stroke-width="0.7"/>
<line x1="631.72" y1="145.7" x2="633.92" y2="145.7" stroke="#1a1a1a" stroke-width="0.7"/>
<line x1="631.72" y1="146.96" x2="633.92" y2="146.96" stroke="#1a1a1a" stroke-width="0.7"/>
<circle cx="632.82" cy="146.33" r="1.1" fill="#1a1a1a"/>
<line x1="638.99" y1="145.15" x2="638.99" y2="143.04" stroke="#1a1a1a" stroke-width="0.7"/>
<line x1="637.89" y1="143.04" x2="640.09" y2="143.04" stroke="#1a1a1a" stroke-width="0.7"/>
<line x1="637.89" y1="145.15" x2="640.09" y2="145.15" stroke="#1a1a1a" stroke-width="0.7"/>
<circle cx="638.99" cy="144.1" r="1.1" fill="#1a1a1a"/>
<line x1="645.16" y1="141.57" x2="645.16" y2="138.2" stroke="#1a1a1a" stroke-width="0.7"/>
<line x1="644.06" y1="138.2" x2="646.26" y2="138.2" stroke="#1a1a1a" stroke-width="0.7"/>
<line x1="644.06" y1="141.57" x2="646.26" y2="141.57" stroke="#1a1a1a" stroke-width="0.7"/>
<circle cx="645.16" cy="139.89" r="1.1" fill="#1a1a1a"/>
<line x1="651.33" y1="137.28" x2="651.33" y2="133.07" stroke="#1a1a1a" stroke-width="0.7"/>
<line x1="650.23" y1="133.07" x2="652.43" y2="133.07" stroke="#1a1a1a" stroke-width="0.7"/>
<line x1="650.23" y1="137.28" x2="652.43" y2="137.28" stroke="#1a1a1a" stroke-width="0.7"/>
<circle cx="651.33" cy="135.17" r="1.1" fill="#1a1a1a"/>
<line x1="657.5" y1="131.51" x2="657.5" y2="124.77" stroke="#1a1a1a" stroke-width="0.7"/>
<line x1="656.4" y1="124.77" x2="658.6" y2="124.77" stroke="#1a1a1a" stroke-width="0.7"/>
<line x1="656.4" y1="131.51" x2="658.6" y2="131.51" stroke="#1a1a1a" stroke-width="0.7"/>
<circle cx="657.5" cy="128.14" r="1.1" fill="#1a1a1a"/>
<line x1="663.67" y1="123.68" x2="663.67" y2="116.1" stroke="#1a1a1a" stroke-width="0.7"/>
<line x1="662.57" y1="116.1" x2="664.77" y2="116.1" stroke="#1a1a1a" stroke-width="0.7"/>
<line x1="662.57" y1="123.68" x2="664.77" y2="123.68" stroke="#1a1a1a" stroke-width="0.7"/>
<circle cx="663.67" cy="119.89" r="1.1" fill="#1a1a1a"/>
<line x1="669.84" y1="116.23" x2="669.84" y2="109.07" stroke="#1a1a1a" stroke-width="0.7"/>
<line x1="668.74" y1="109.07" x2="670.94" y2="109.07" stroke="#1a1a1a" stroke-width="0.7"/>
<line x1="668.74" y1="116.23" x2="670.94" y2="116.23" stroke="#1a1a1a" stroke-width="0.7"/>
<circle cx="669.84" cy="112.65" r="1.1" fill="#1a1a1a"/>
<line x1="676.01" y1="109.36" x2="676.01" y2="100.94" stroke="#1a1a1a" stroke-width="0.7"/>
<line x1="674.91" y1="100.94" x2="677.11" y2="100.94" stroke="#1a1a1a" stroke-width="0.7"/>
<line x1="674.91" y1="109.36" x2="677.11" y2="109.36" stroke="#1a1a1a" stroke-width="0.7"/>
<circle cx="676.01" cy="105.15" r="1.1" fill="#1a1a1a"/>
<line x1="599.7" y1="106" x2="604.8" y2="106" stroke="#1a1a1a" stroke-width="0.9"/>
<circle cx="602.2" cy="106" r="1.2" fill="#1a1a1a"/>
<text x="607.3" y="106" font-size="7.6" text-anchor="start" fill="#000" stroke="#000" stroke-width="0.12" dominant-baseline="central">G1</text>
<line x1="599.7" y1="112.8" x2="604.8" y2="112.8" stroke="#f7701d" stroke-width="0.9"/>
<circle cx="602.2" cy="112.8" r="1.2" fill="#f7701d"/>
<text x="607.3" y="112.8" font-size="7.6" text-anchor="start" fill="#000" stroke="#000" stroke-width="0.12" dominant-baseline="central">G2</text>
<line x1="599.7" y1="119.6" x2="604.8" y2="119.6" stroke="#f013f0" stroke-width="0.9"/>
<circle cx="602.2" cy="119.6" r="1.2" fill="#f013f0"/>
<text x="607.3" y="119.6" font-size="7.6" text-anchor="start" fill="#000" stroke="#000" stroke-width="0.12" dominant-baseline="central">G3</text>
<line x1="599.7" y1="126.4" x2="604.8" y2="126.4" stroke="#1fb51f" stroke-width="0.9"/>
<circle cx="602.2" cy="126.4" r="1.2" fill="#1fb51f"/>
<text x="607.3" y="126.4" font-size="7.6" text-anchor="start" fill="#000" stroke="#000" stroke-width="0.12" dominant-baseline="central">G4</text>
<line x1="599.7" y1="133.2" x2="604.8" y2="133.2" stroke="#1c22ee" stroke-width="0.9"/>
<circle cx="602.2" cy="133.2" r="1.2" fill="#1c22ee"/>
<text x="607.3" y="133.2" font-size="7.6" text-anchor="start" fill="#000" stroke="#000" stroke-width="0.12" dominant-baseline="central">G5</text>
<line x1="599.7" y1="140" x2="604.8" y2="140" stroke="#ef1c1c" stroke-width="0.9"/>
<circle cx="602.2" cy="140" r="1.2" fill="#ef1c1c"/>
<text x="607.3" y="140" font-size="7.6" text-anchor="start" fill="#000" stroke="#000" stroke-width="0.12" dominant-baseline="central">G6</text>
<line x1="619" y1="106" x2="619" y2="139.4" stroke="#333" stroke-width="0.8"/>
<text x="625.4" y="121.5" font-size="8.32" text-anchor="middle" fill="#000" stroke="#000" stroke-width="0.12" dominant-baseline="central" transform="rotate(-90 625.4 121.5) translate(625.4 121.5) scale(0.88 1) translate(-625.4 -121.5)"><tspan font-style="italic">P</tspan> &lt; 0.0001</text>
<text x="4.3" y="169.2" font-size="10" text-anchor="middle" font-weight="bold" fill="#000" stroke="#000" stroke-width="0.12" dominant-baseline="central">d</text>
<rect x="39.3" y="182.5" width="44.4" height="67.1" fill="none" stroke="#1e1e1e" stroke-width="0.9"/>
<line x1="36.9" y1="249.4" x2="39.3" y2="249.4" stroke="#1e1e1e" stroke-width="0.8"/>
<text x="36.1" y="249.4" font-size="8.21" text-anchor="end" fill="#000" stroke="#000" stroke-width="0.12" dominant-baseline="central" transform="translate(36.1 249.4) scale(0.88 1) translate(-36.1 -249.4)">0</text>
<line x1="36.9" y1="223" x2="39.3" y2="223" stroke="#1e1e1e" stroke-width="0.8"/>
<text x="36.1" y="223" font-size="8.21" text-anchor="end" fill="#000" stroke="#000" stroke-width="0.12" dominant-baseline="central" transform="translate(36.1 223) scale(0.88 1) translate(-36.1 -223)">500</text>
<line x1="36.9" y1="196.6" x2="39.3" y2="196.6" stroke="#1e1e1e" stroke-width="0.8"/>
<text x="36.1" y="196.6" font-size="8.21" text-anchor="end" fill="#000" stroke="#000" stroke-width="0.12" dominant-baseline="central" transform="translate(36.1 196.6) scale(0.88 1) translate(-36.1 -196.6)">1000</text>
<line x1="37.9" y1="236.2" x2="39.3" y2="236.2" stroke="#1e1e1e" stroke-width="0.7"/>
<line x1="37.9" y1="209.8" x2="39.3" y2="209.8" stroke="#1e1e1e" stroke-width="0.7"/>
<line x1="47.4" y1="249.6" x2="47.4" y2="252" stroke="#1e1e1e" stroke-width="0.8"/>
<text x="47.4" y="258" font-size="8.32" text-anchor="middle" fill="#000" stroke="#000" stroke-width="0.12" dominant-baseline="central" transform="translate(47.4 258) scale(0.88 1) translate(-47.4 -258)">10</text>
<line x1="67.2" y1="249.6" x2="67.2" y2="252" stroke="#1e1e1e" stroke-width="0.8"/>
<text x="67.2" y="258" font-size="8.32" text-anchor="middle" fill="#000" stroke="#000" stroke-width="0.12" dominant-baseline="central" transform="translate(67.2 258) scale(0.88 1) translate(-67.2 -258)">20</text>
<line x1="57.3" y1="249.6" x2="57.3" y2="251" stroke="#1e1e1e" stroke-width="0.7"/>
<line x1="77.1" y1="249.6" x2="77.1" y2="251" stroke="#1e1e1e" stroke-width="0.7"/>
<text x="59.6" y="266.3" font-size="9.06" text-anchor="middle" fill="#000" stroke="#000" stroke-width="0.12" dominant-baseline="central" transform="translate(59.6 266.3) scale(0.88 1) translate(-59.6 -266.3)">Time (days)</text>
<text x="14.1" y="217.5" font-size="8.55" text-anchor="middle" fill="#000" stroke="#000" stroke-width="0.12" dominant-baseline="central" transform="rotate(-90 14.1 217.5) translate(14.1 217.5) scale(0.88 1) translate(-14.1 -217.5)">Tumor&#160; volume (mm<tspan font-size="4.88" baseline-shift="2.85">3</tspan>)</text>
<text x="43.3" y="189.5" font-size="8.66" text-anchor="start" fill="#000" stroke="#000" stroke-width="0.12" dominant-baseline="central" transform="translate(43.3 189.5) scale(0.88 1) translate(-43.3 -189.5)">G1</text>
<text x="43.3" y="198.9" font-size="8.66" text-anchor="start" fill="#000" stroke="#000" stroke-width="0.12" dominant-baseline="central" transform="translate(43.3 198.9) scale(0.88 1) translate(-43.3 -198.9)">CR = 0/5</text>
<path d="M39.48 245.7 L47.4 244.38 L54.33 238.84 L62.65 226.7 L67.2 212.44 L71.16 202.94 L79.08 184.46" stroke="#1a1a1a" stroke-width="0.95" fill="none"/>
<path d="M39.48 245.7 L47.4 244.12 L54.33 239.1 L62.65 227.22 L67.2 216.66 L71.16 207.16 L79.08 190.79" stroke="#1a1a1a" stroke-width="0.95" fill="none"/>
<path d="M39.48 245.44 L47.4 244.38 L54.33 239.37 L62.65 227.75 L67.2 224.06 L71.16 215.08 L79.08 191.32" stroke="#1a1a1a" stroke-width="0.95" fill="none"/>
<path d="M39.48 245.6 L47.4 244.12 L54.33 238.84 L62.65 226.96 L67.2 214.55 L71.16 205.05 L79.08 187.1" stroke="#1a1a1a" stroke-width="0.95" fill="none"/>
<path d="M39.48 245.7 L47.4 244.23 L54.33 239.63 L62.65 228.28 L67.2 219.83 L71.16 212.44 L79.08 191.85" stroke="#1a1a1a" stroke-width="0.95" fill="none"/>
<rect x="129.3" y="182.3" width="44.4" height="67.3" fill="none" stroke="#1e1e1e" stroke-width="0.9"/>
<line x1="126.9" y1="249.4" x2="129.3" y2="249.4" stroke="#1e1e1e" stroke-width="0.8"/>
<text x="126.1" y="249.4" font-size="8.21" text-anchor="end" fill="#000" stroke="#000" stroke-width="0.12" dominant-baseline="central" transform="translate(126.1 249.4) scale(0.88 1) translate(-126.1 -249.4)">0</text>
<line x1="126.9" y1="223" x2="129.3" y2="223" stroke="#1e1e1e" stroke-width="0.8"/>
<text x="126.1" y="223" font-size="8.21" text-anchor="end" fill="#000" stroke="#000" stroke-width="0.12" dominant-baseline="central" transform="translate(126.1 223) scale(0.88 1) translate(-126.1 -223)">500</text>
<line x1="126.9" y1="196.6" x2="129.3" y2="196.6" stroke="#1e1e1e" stroke-width="0.8"/>
<text x="126.1" y="196.6" font-size="8.21" text-anchor="end" fill="#000" stroke="#000" stroke-width="0.12" dominant-baseline="central" transform="translate(126.1 196.6) scale(0.88 1) translate(-126.1 -196.6)">1000</text>
<line x1="127.9" y1="236.2" x2="129.3" y2="236.2" stroke="#1e1e1e" stroke-width="0.7"/>
<line x1="127.9" y1="209.8" x2="129.3" y2="209.8" stroke="#1e1e1e" stroke-width="0.7"/>
<line x1="137.4" y1="249.6" x2="137.4" y2="252" stroke="#1e1e1e" stroke-width="0.8"/>
<text x="137.4" y="258" font-size="8.32" text-anchor="middle" fill="#000" stroke="#000" stroke-width="0.12" dominant-baseline="central" transform="translate(137.4 258) scale(0.88 1) translate(-137.4 -258)">10</text>
<line x1="157.2" y1="249.6" x2="157.2" y2="252" stroke="#1e1e1e" stroke-width="0.8"/>
<text x="157.2" y="258" font-size="8.32" text-anchor="middle" fill="#000" stroke="#000" stroke-width="0.12" dominant-baseline="central" transform="translate(157.2 258) scale(0.88 1) translate(-157.2 -258)">20</text>
<line x1="147.3" y1="249.6" x2="147.3" y2="251" stroke="#1e1e1e" stroke-width="0.7"/>
<line x1="167.1" y1="249.6" x2="167.1" y2="251" stroke="#1e1e1e" stroke-width="0.7"/>
<text x="149.6" y="266.3" font-size="9.06" text-anchor="middle" fill="#000" stroke="#000" stroke-width="0.12" dominant-baseline="central" transform="translate(149.6 266.3) scale(0.88 1) translate(-149.6 -266.3)">Time (days)</text>
<text x="104.1" y="217.5" font-size="8.55" text-anchor="middle" fill="#000" stroke="#000" stroke-width="0.12" dominant-baseline="central" transform="rotate(-90 104.1 217.5) translate(104.1 217.5) scale(0.88 1) translate(-104.1 -217.5)">Tumor&#160; volume (mm<tspan font-size="4.88" baseline-shift="2.85">3</tspan>)</text>
<text x="133.3" y="189.3" font-size="8.66" text-anchor="start" fill="#000" stroke="#000" stroke-width="0.12" dominant-baseline="central" transform="translate(133.3 189.3) scale(0.88 1) translate(-133.3 -189.3)">G2</text>
<text x="133.3" y="198.7" font-size="8.66" text-anchor="start" fill="#000" stroke="#000" stroke-width="0.12" dominant-baseline="central" transform="translate(133.3 198.7) scale(0.88 1) translate(-133.3 -198.7)">CR = 0/5</text>
<path d="M129.48 246.23 L137.4 244.38 L149.28 244.12 L155.22 235.67 L161.16 225.9 L169.08 209.8" stroke="#f7701d" stroke-width="0.95" fill="none"/>
<path d="M129.48 246.13 L137.4 244.38 L149.28 244.01 L155.22 235.94 L161.16 226.7 L169.08 212.44" stroke="#f7701d" stroke-width="0.95" fill="none"/>
<path d="M129.48 246.34 L137.4 244.54 L149.28 244.23 L155.22 236.2 L161.16 227.22 L169.08 213.5" stroke="#f7701d" stroke-width="0.95" fill="none"/>
<path d="M129.48 246.23 L137.4 244.33 L149.28 244.12 L155.22 235.57 L161.16 225.64 L169.08 215.61" stroke="#f7701d" stroke-width="0.95" fill="none"/>
<path d="M129.48 246.18 L137.4 244.44 L149.28 244.07 L155.22 235.78 L161.16 226.27 L169.08 211.38" stroke="#f7701d" stroke-width="0.95" fill="none"/>
<rect x="220.3" y="182.3" width="44.4" height="67.3" fill="none" stroke="#1e1e1e" stroke-width="0.9"/>
<line x1="217.9" y1="249.4" x2="220.3" y2="249.4" stroke="#1e1e1e" stroke-width="0.8"/>
<text x="217.1" y="249.4" font-size="8.21" text-anchor="end" fill="#000" stroke="#000" stroke-width="0.12" dominant-baseline="central" transform="translate(217.1 249.4) scale(0.88 1) translate(-217.1 -249.4)">0</text>
<line x1="217.9" y1="223" x2="220.3" y2="223" stroke="#1e1e1e" stroke-width="0.8"/>
<text x="217.1" y="223" font-size="8.21" text-anchor="end" fill="#000" stroke="#000" stroke-width="0.12" dominant-baseline="central" transform="translate(217.1 223) scale(0.88 1) translate(-217.1 -223)">500</text>
<line x1="217.9" y1="196.6" x2="220.3" y2="196.6" stroke="#1e1e1e" stroke-width="0.8"/>
<text x="217.1" y="196.6" font-size="8.21" text-anchor="end" fill="#000" stroke="#000" stroke-width="0.12" dominant-baseline="central" transform="translate(217.1 196.6) scale(0.88 1) translate(-217.1 -196.6)">1000</text>
<line x1="218.9" y1="236.2" x2="220.3" y2="236.2" stroke="#1e1e1e" stroke-width="0.7"/>
<line x1="218.9" y1="209.8" x2="220.3" y2="209.8" stroke="#1e1e1e" stroke-width="0.7"/>
<line x1="228.4" y1="249.6" x2="228.4" y2="252" stroke="#1e1e1e" stroke-width="0.8"/>
<text x="228.4" y="258" font-size="8.32" text-anchor="middle" fill="#000" stroke="#000" stroke-width="0.12" dominant-baseline="central" transform="translate(228.4 258) scale(0.88 1) translate(-228.4 -258)">10</text>
<line x1="248.2" y1="249.6" x2="248.2" y2="252" stroke="#1e1e1e" stroke-width="0.8"/>
<text x="248.2" y="258" font-size="8.32" text-anchor="middle" fill="#000" stroke="#000" stroke-width="0.12" dominant-baseline="central" transform="translate(248.2 258) scale(0.88 1) translate(-248.2 -258)">20</text>
<line x1="238.3" y1="249.6" x2="238.3" y2="251" stroke="#1e1e1e" stroke-width="0.7"/>
<line x1="258.1" y1="249.6" x2="258.1" y2="251" stroke="#1e1e1e" stroke-width="0.7"/>
<text x="240.6" y="266.3" font-size="9.06" text-anchor="middle" fill="#000" stroke="#000" stroke-width="0.12" dominant-baseline="central" transform="translate(240.6 266.3) scale(0.88 1) translate(-240.6 -266.3)">Time (days)</text>
<text x="195.1" y="217.5" font-size="8.55" text-anchor="middle" fill="#000" stroke="#000" stroke-width="0.12" dominant-baseline="central" transform="rotate(-90 195.1 217.5) translate(195.1 217.5) scale(0.88 1) translate(-195.1 -217.5)">Tumor&#160; volume (mm<tspan font-size="4.88" baseline-shift="2.85">3</tspan>)</text>
<text x="224.3" y="189.3" font-size="8.66" text-anchor="start" fill="#000" stroke="#000" stroke-width="0.12" dominant-baseline="central" transform="translate(224.3 189.3) scale(0.88 1) translate(-224.3 -189.3)">G3</text>
<text x="224.3" y="198.7" font-size="8.66" text-anchor="start" fill="#000" stroke="#000" stroke-width="0.12" dominant-baseline="central" transform="translate(224.3 198.7) scale(0.88 1) translate(-224.3 -198.7)">CR = 0/5</text>
<path d="M220.48 246.23 L228.4 244.38 L244.24 243.33 L248.2 240.42 L253.35 231.98 L260.08 214.55" stroke="#f013f0" stroke-width="0.95" fill="none"/>
<path d="M220.48 246.34 L228.4 244.49 L244.24 243.49 L248.2 240.69 L253.35 233.03 L260.08 217.72" stroke="#f013f0" stroke-width="0.95" fill="none"/>
<path d="M220.48 246.13 L228.4 244.33 L244.24 243.17 L248.2 240.16 L253.35 233.56 L260.08 220.89" stroke="#f013f0" stroke-width="0.95" fill="none"/>
<path d="M220.48 246.23 L228.4 244.38 L244.24 243.33 L248.2 240.95 L253.35 234.09 L260.08 223.53" stroke="#f013f0" stroke-width="0.95" fill="none"/>
<path d="M220.48 246.28 L228.4 244.44 L244.24 243.38 L248.2 240.42 L253.35 232.5 L260.08 216.14" stroke="#f013f0" stroke-width="0.95" fill="none"/>
<rect x="311.4" y="183.1" width="44.4" height="66.5" fill="none" stroke="#1e1e1e" stroke-width="0.9"/>
<line x1="309" y1="249.4" x2="311.4" y2="249.4" stroke="#1e1e1e" stroke-width="0.8"/>
<text x="308.2" y="249.4" font-size="8.21" text-anchor="end" fill="#000" stroke="#000" stroke-width="0.12" dominant-baseline="central" transform="translate(308.2 249.4) scale(0.88 1) translate(-308.2 -249.4)">0</text>
<line x1="309" y1="223" x2="311.4" y2="223" stroke="#1e1e1e" stroke-width="0.8"/>
<text x="308.2" y="223" font-size="8.21" text-anchor="end" fill="#000" stroke="#000" stroke-width="0.12" dominant-baseline="central" transform="translate(308.2 223) scale(0.88 1) translate(-308.2 -223)">500</text>
<line x1="309" y1="196.6" x2="311.4" y2="196.6" stroke="#1e1e1e" stroke-width="0.8"/>
<text x="308.2" y="196.6" font-size="8.21" text-anchor="end" fill="#000" stroke="#000" stroke-width="0.12" dominant-baseline="central" transform="translate(308.2 196.6) scale(0.88 1) translate(-308.2 -196.6)">1000</text>
<line x1="310" y1="236.2" x2="311.4" y2="236.2" stroke="#1e1e1e" stroke-width="0.7"/>
<line x1="310" y1="209.8" x2="311.4" y2="209.8" stroke="#1e1e1e" stroke-width="0.7"/>
<line x1="319.5" y1="249.6" x2="319.5" y2="252" stroke="#1e1e1e" stroke-width="0.8"/>
<text x="319.5" y="258" font-size="8.32" text-anchor="middle" fill="#000" stroke="#000" stroke-width="0.12" dominant-baseline="central" transform="translate(319.5 258) scale(0.88 1) translate(-319.5 -258)">10</text>
<line x1="339.3" y1="249.6" x2="339.3" y2="252" stroke="#1e1e1e" stroke-width="0.8"/>
<text x="339.3" y="258" font-size="8.32" text-anchor="middle" fill="#000" stroke="#000" stroke-width="0.12" dominant-baseline="central" transform="translate(339.3 258) scale(0.88 1) translate(-339.3 -258)">20</text>
<line x1="329.4" y1="249.6" x2="329.4" y2="251" stroke="#1e1e1e" stroke-width="0.7"/>
<line x1="349.2" y1="249.6" x2="349.2" y2="251" stroke="#1e1e1e" stroke-width="0.7"/>
<text x="331.7" y="266.3" font-size="9.06" text-anchor="middle" fill="#000" stroke="#000" stroke-width="0.12" dominant-baseline="central" transform="translate(331.7 266.3) scale(0.88 1) translate(-331.7 -266.3)">Time (days)</text>
<text x="286.2" y="217.5" font-size="8.55" text-anchor="middle" fill="#000" stroke="#000" stroke-width="0.12" dominant-baseline="central" transform="rotate(-90 286.2 217.5) translate(286.2 217.5) scale(0.88 1) translate(-286.2 -217.5)">Tumor&#160; volume (mm<tspan font-size="4.88" baseline-shift="2.85">3</tspan>)</text>
<text x="315.4" y="190.1" font-size="8.66" text-anchor="start" fill="#000" stroke="#000" stroke-width="0.12" dominant-baseline="central" transform="translate(315.4 190.1) scale(0.88 1) translate(-315.4 -190.1)">G4</text>
<text x="315.4" y="199.5" font-size="8.66" text-anchor="start" fill="#000" stroke="#000" stroke-width="0.12" dominant-baseline="central" transform="translate(315.4 199.5) scale(0.88 1) translate(-315.4 -199.5)">CR = 0/5</text>
<path d="M311.58 246.76 L319.5 245.18 L335.34 244.12 L340.29 241.48 L343.26 240.42 L347.22 235.67 L351.18 229.07" stroke="#1fb51f" stroke-width="0.95" fill="none"/>
<path d="M311.58 246.65 L319.5 245.07 L335.34 244.01 L340.29 240.95 L343.26 240.16 L347.22 236.2 L351.18 230.39" stroke="#1fb51f" stroke-width="0.95" fill="none"/>
<path d="M311.58 246.87 L319.5 245.28 L335.34 244.23 L340.29 242.01 L343.26 240.95 L347.22 236.73 L351.18 231.98" stroke="#1fb51f" stroke-width="0.95" fill="none"/>
<path d="M311.58 246.76 L319.5 245.18 L335.34 244.12 L340.29 242.54 L343.26 240.69 L347.22 235.94 L351.18 230.92" stroke="#1fb51f" stroke-width="0.95" fill="none"/>
<rect x="401.2" y="183.4" width="44.4" height="66.2" fill="none" stroke="#1e1e1e" stroke-width="0.9"/>
<line x1="398.8" y1="249.4" x2="401.2" y2="249.4" stroke="#1e1e1e" stroke-width="0.8"/>
<text x="398" y="249.4" font-size="8.21" text-anchor="end" fill="#000" stroke="#000" stroke-width="0.12" dominant-baseline="central" transform="translate(398 249.4) scale(0.88 1) translate(-398 -249.4)">0</text>
<line x1="398.8" y1="223" x2="401.2" y2="223" stroke="#1e1e1e" stroke-width="0.8"/>
<text x="398" y="223" font-size="8.21" text-anchor="end" fill="#000" stroke="#000" stroke-width="0.12" dominant-baseline="central" transform="translate(398 223) scale(0.88 1) translate(-398 -223)">500</text>
<line x1="398.8" y1="196.6" x2="401.2" y2="196.6" stroke="#1e1e1e" stroke-width="0.8"/>
<text x="398" y="196.6" font-size="8.21" text-anchor="end" fill="#000" stroke="#000" stroke-width="0.12" dominant-baseline="central" transform="translate(398 196.6) scale(0.88 1) translate(-398 -196.6)">1000</text>
<line x1="399.8" y1="236.2" x2="401.2" y2="236.2" stroke="#1e1e1e" stroke-width="0.7"/>
<line x1="399.8" y1="209.8" x2="401.2" y2="209.8" stroke="#1e1e1e" stroke-width="0.7"/>
<line x1="409.3" y1="249.6" x2="409.3" y2="252" stroke="#1e1e1e" stroke-width="0.8"/>
<text x="409.3" y="258" font-size="8.32" text-anchor="middle" fill="#000" stroke="#000" stroke-width="0.12" dominant-baseline="central" transform="translate(409.3 258) scale(0.88 1) translate(-409.3 -258)">10</text>
<line x1="429.1" y1="249.6" x2="429.1" y2="252" stroke="#1e1e1e" stroke-width="0.8"/>
<text x="429.1" y="258" font-size="8.32" text-anchor="middle" fill="#000" stroke="#000" stroke-width="0.12" dominant-baseline="central" transform="translate(429.1 258) scale(0.88 1) translate(-429.1 -258)">20</text>
<line x1="419.2" y1="249.6" x2="419.2" y2="251" stroke="#1e1e1e" stroke-width="0.7"/>
<line x1="439" y1="249.6" x2="439" y2="251" stroke="#1e1e1e" stroke-width="0.7"/>
<text x="421.5" y="266.3" font-size="9.06" text-anchor="middle" fill="#000" stroke="#000" stroke-width="0.12" dominant-baseline="central" transform="translate(421.5 266.3) scale(0.88 1) translate(-421.5 -266.3)">Time (days)</text>
<text x="376" y="217.5" font-size="8.55" text-anchor="middle" fill="#000" stroke="#000" stroke-width="0.12" dominant-baseline="central" transform="rotate(-90 376 217.5) translate(376 217.5) scale(0.88 1) translate(-376 -217.5)">Tumor&#160; volume (mm<tspan font-size="4.88" baseline-shift="2.85">3</tspan>)</text>
<text x="405.2" y="190.4" font-size="8.66" text-anchor="start" fill="#000" stroke="#000" stroke-width="0.12" dominant-baseline="central" transform="translate(405.2 190.4) scale(0.88 1) translate(-405.2 -190.4)">G5</text>
<text x="405.2" y="199.8" font-size="8.66" text-anchor="start" fill="#000" stroke="#000" stroke-width="0.12" dominant-baseline="central" transform="translate(405.2 199.8) scale(0.88 1) translate(-405.2 -199.8)">CR = 0/5</text>
<path d="M401.38 246.5 L409.3 244.91 L426.13 243.86 L429.89 241.48 L434.25 239.9 L437.61 236.99 L440.98 229.86" stroke="#1c22ee" stroke-width="0.95" fill="none"/>
<path d="M401.38 246.39 L409.3 244.81 L426.13 243.7 L429.89 242.01 L434.25 240.16 L437.61 237.52 L440.98 231.98" stroke="#1c22ee" stroke-width="0.95" fill="none"/>
<path d="M401.38 246.6 L409.3 245.02 L426.13 243.96 L429.89 242.54 L434.25 240.42 L437.61 238.05 L440.98 234.09" stroke="#1c22ee" stroke-width="0.95" fill="none"/>
<path d="M401.38 246.5 L409.3 244.91 L426.13 243.8 L429.89 241.74 L434.25 239.63 L437.61 236.73 L440.98 230.92" stroke="#1c22ee" stroke-width="0.95" fill="none"/>
<rect x="491.4" y="183.9" width="44.4" height="65.7" fill="none" stroke="#1e1e1e" stroke-width="0.9"/>
<line x1="489" y1="249.4" x2="491.4" y2="249.4" stroke="#1e1e1e" stroke-width="0.8"/>
<text x="488.2" y="249.4" font-size="8.21" text-anchor="end" fill="#000" stroke="#000" stroke-width="0.12" dominant-baseline="central" transform="translate(488.2 249.4) scale(0.88 1) translate(-488.2 -249.4)">0</text>
<line x1="489" y1="223" x2="491.4" y2="223" stroke="#1e1e1e" stroke-width="0.8"/>
<text x="488.2" y="223" font-size="8.21" text-anchor="end" fill="#000" stroke="#000" stroke-width="0.12" dominant-baseline="central" transform="translate(488.2 223) scale(0.88 1) translate(-488.2 -223)">500</text>
<line x1="489" y1="196.6" x2="491.4" y2="196.6" stroke="#1e1e1e" stroke-width="0.8"/>
<text x="488.2" y="196.6" font-size="8.21" text-anchor="end" fill="#000" stroke="#000" stroke-width="0.12" dominant-baseline="central" transform="translate(488.2 196.6) scale(0.88 1) translate(-488.2 -196.6)">1000</text>
<line x1="490" y1="236.2" x2="491.4" y2="236.2" stroke="#1e1e1e" stroke-width="0.7"/>
<line x1="490" y1="209.8" x2="491.4" y2="209.8" stroke="#1e1e1e" stroke-width="0.7"/>
<line x1="499.5" y1="249.6" x2="499.5" y2="252" stroke="#1e1e1e" stroke-width="0.8"/>
<text x="499.5" y="258" font-size="8.32" text-anchor="middle" fill="#000" stroke="#000" stroke-width="0.12" dominant-baseline="central" transform="translate(499.5 258) scale(0.88 1) translate(-499.5 -258)">10</text>
<line x1="519.3" y1="249.6" x2="519.3" y2="252" stroke="#1e1e1e" stroke-width="0.8"/>
<text x="519.3" y="258" font-size="8.32" text-anchor="middle" fill="#000" stroke="#000" stroke-width="0.12" dominant-baseline="central" transform="translate(519.3 258) scale(0.88 1) translate(-519.3 -258)">20</text>
<line x1="509.4" y1="249.6" x2="509.4" y2="251" stroke="#1e1e1e" stroke-width="0.7"/>
<line x1="529.2" y1="249.6" x2="529.2" y2="251" stroke="#1e1e1e" stroke-width="0.7"/>
<text x="511.7" y="266.3" font-size="9.06" text-anchor="middle" fill="#000" stroke="#000" stroke-width="0.12" dominant-baseline="central" transform="translate(511.7 266.3) scale(0.88 1) translate(-511.7 -266.3)">Time (days)</text>
<text x="466.2" y="217.5" font-size="8.55" text-anchor="middle" fill="#000" stroke="#000" stroke-width="0.12" dominant-baseline="central" transform="rotate(-90 466.2 217.5) translate(466.2 217.5) scale(0.88 1) translate(-466.2 -217.5)">Tumor&#160; volume (mm<tspan font-size="4.88" baseline-shift="2.85">3</tspan>)</text>
<text x="495.4" y="190.9" font-size="8.66" text-anchor="start" fill="#000" stroke="#000" stroke-width="0.12" dominant-baseline="central" transform="translate(495.4 190.9) scale(0.88 1) translate(-495.4 -190.9)">G6</text>
<text x="495.4" y="200.3" font-size="8.66" text-anchor="start" fill="#000" stroke="#000" stroke-width="0.12" dominant-baseline="central" transform="translate(495.4 200.3) scale(0.88 1) translate(-495.4 -200.3)">CR = 3/5</text>
<path d="M491.58 246.76 L499.5 244.65 L508.41 246.5 L515.34 245.97 L523.26 243.06 L531.18 238.84" stroke="#ef1c1c" stroke-width="0.95" fill="none"/>
<path d="M491.58 246.65 L499.5 244.75 L508.41 246.39 L515.34 245.81 L523.26 243.86 L531.18 241.48" stroke="#ef1c1c" stroke-width="0.95" fill="none"/>
<path d="M491.58 246.87 L499.5 244.54 L508.41 246.6 L515.34 246.13 L523.26 247.29 L531.18 248.61" stroke="#ef1c1c" stroke-width="0.95" fill="none"/>
<path d="M491.58 246.76 L499.5 244.86 L508.41 246.44 L515.34 245.92 L523.26 246.87 L531.18 248.24" stroke="#ef1c1c" stroke-width="0.95" fill="none"/>
<path d="M491.58 246.71 L499.5 244.7 L508.41 246.5 L515.34 246.02 L523.26 244.38 L531.18 240.69" stroke="#ef1c1c" stroke-width="0.95" fill="none"/>
<text x="545.2" y="180.4" font-size="9.5" text-anchor="middle" font-weight="bold" fill="#000" stroke="#000" stroke-width="0.12" dominant-baseline="central">e</text>
<rect x="581.5" y="184.2" width="98.5" height="66.2" fill="none" stroke="#1e1e1e" stroke-width="0.9"/>
<line x1="579.1" y1="250.4" x2="581.5" y2="250.4" stroke="#1e1e1e" stroke-width="0.8"/>
<text x="578.3" y="250.4" font-size="9.01" text-anchor="end" fill="#000" stroke="#000" stroke-width="0.12" dominant-baseline="central" transform="translate(578.3 250.4) scale(0.88 1) translate(-578.3 -250.4)">0</text>
<line x1="579.1" y1="222.8" x2="581.5" y2="222.8" stroke="#1e1e1e" stroke-width="0.8"/>
<text x="578.3" y="222.8" font-size="9.01" text-anchor="end" fill="#000" stroke="#000" stroke-width="0.12" dominant-baseline="central" transform="translate(578.3 222.8) scale(0.88 1) translate(-578.3 -222.8)">50</text>
<line x1="579.1" y1="195.2" x2="581.5" y2="195.2" stroke="#1e1e1e" stroke-width="0.8"/>
<text x="578.3" y="195.2" font-size="9.01" text-anchor="end" fill="#000" stroke="#000" stroke-width="0.12" dominant-baseline="central" transform="translate(578.3 195.2) scale(0.88 1) translate(-578.3 -195.2)">100</text>
<line x1="580.1" y1="236.6" x2="581.5" y2="236.6" stroke="#1e1e1e" stroke-width="0.7"/>
<line x1="580.1" y1="209" x2="581.5" y2="209" stroke="#1e1e1e" stroke-width="0.7"/>
<line x1="581.5" y1="250.4" x2="581.5" y2="252.8" stroke="#1e1e1e" stroke-width="0.8"/>
<text x="581.5" y="258.7" font-size="9.01" text-anchor="middle" fill="#000" stroke="#000" stroke-width="0.12" dominant-baseline="central" transform="translate(581.5 258.7) scale(0.88 1) translate(-581.5 -258.7)">0</text>
<line x1="614.33" y1="250.4" x2="614.33" y2="252.8" stroke="#1e1e1e" stroke-width="0.8"/>
<text x="614.33" y="258.7" font-size="9.01" text-anchor="middle" fill="#000" stroke="#000" stroke-width="0.12" dominant-baseline="central" transform="translate(614.33 258.7) scale(0.88 1) translate(-614.33 -258.7)">20</text>
<line x1="647.17" y1="250.4" x2="647.17" y2="252.8" stroke="#1e1e1e" stroke-width="0.8"/>
<text x="647.17" y="258.7" font-size="9.01" text-anchor="middle" fill="#000" stroke="#000" stroke-width="0.12" dominant-baseline="central" transform="translate(647.17 258.7) scale(0.88 1) translate(-647.17 -258.7)">40</text>
<line x1="680" y1="250.4" x2="680" y2="252.8" stroke="#1e1e1e" stroke-width="0.8"/>
<text x="680" y="258.7" font-size="9.01" text-anchor="middle" fill="#000" stroke="#000" stroke-width="0.12" dominant-baseline="central" transform="translate(680 258.7) scale(0.88 1) translate(-680 -258.7)">60</text>
<line x1="597.92" y1="250.4" x2="597.92" y2="251.8" stroke="#1e1e1e" stroke-width="0.7"/>
<line x1="630.75" y1="250.4" x2="630.75" y2="251.8" stroke="#1e1e1e" stroke-width="0.7"/>
<line x1="663.59" y1="250.4" x2="663.59" y2="251.8" stroke="#1e1e1e" stroke-width="0.7"/>
<text x="632.2" y="266.4" font-size="9.01" text-anchor="middle" fill="#000" stroke="#000" stroke-width="0.12" dominant-baseline="central" transform="translate(632.2 266.4) scale(0.88 1) translate(-632.2 -266.4)">Time (days)</text>
<text x="560.8" y="219" font-size="8.66" text-anchor="middle" fill="#000" stroke="#000" stroke-width="0.12" dominant-baseline="central" transform="rotate(-90 560.8 219) translate(560.8 219) scale(0.88 1) translate(-560.8 -219)">Survival (%)</text>
<path d="M581.5 195.2 L633.71 195.2 L633.71 217.28 L635.68 217.28 L635.68 228.32 L637.32 228.32 L637.32 239.36 L638.96 239.36 L638.96 250.4" stroke="#4a4a4a" stroke-width="0.9" fill="none"/>
<path d="M581.5 195.2 L640.6 195.2 L640.6 206.24 L642.57 206.24 L642.57 217.28 L644.21 217.28 L644.21 239.36 L645.53 239.36 L645.53 250.4" stroke="#f8862e" stroke-width="0.9" fill="none"/>
<path d="M581.5 195.2 L645.53 195.2 L645.53 217.28 L648.48 217.28 L648.48 239.36 L650.45 239.36 L650.45 250.4" stroke="#ee2cee" stroke-width="0.9" fill="none"/>
<path d="M581.5 195.2 L653.41 195.2 L653.41 206.24 L658.33 206.24 L658.33 228.32 L666.54 228.32 L666.54 239.36 L671.47 239.36 L671.47 250.4" stroke="#36bc36" stroke-width="0.9" fill="none"/>
<path d="M581.5 195.2 L658.33 195.2 L658.33 206.24 L661.61 206.24 L661.61 217.28 L663.26 217.28 L663.26 228.32 L671.14 228.32 L671.14 239.36 L673.11 239.36 L673.11 250.4" stroke="#3434f0" stroke-width="0.9" fill="none"/>
<path d="M581.5 195.2 L673.11 195.2 L673.11 206.24 L678.03 206.24 L678.03 217.28 L680 217.28" stroke="#e82020" stroke-width="0.9" fill="none"/>
<line x1="581.5" y1="195.2" x2="633.71" y2="195.2" stroke="#5a2a1a" stroke-width="0.9"/>
<line x1="586" y1="203.1" x2="593" y2="203.1" stroke="#4a4a4a" stroke-width="0.75"/>
<text x="595.4" y="203.1" font-size="8" text-anchor="start" fill="#000" stroke="#000" stroke-width="0.12" dominant-baseline="central">G1</text>
<line x1="586" y1="210.8" x2="593" y2="210.8" stroke="#f8862e" stroke-width="0.75"/>
<text x="595.4" y="210.8" font-size="8" text-anchor="start" fill="#000" stroke="#000" stroke-width="0.12" dominant-baseline="central">G2</text>
<line x1="586" y1="218.5" x2="593" y2="218.5" stroke="#ee2cee" stroke-width="0.75"/>
<text x="595.4" y="218.5" font-size="8" text-anchor="start" fill="#000" stroke="#000" stroke-width="0.12" dominant-baseline="central">G3</text>
<line x1="586" y1="226.2" x2="593" y2="226.2" stroke="#36bc36" stroke-width="0.75"/>
<text x="595.4" y="226.2" font-size="8" text-anchor="start" fill="#000" stroke="#000" stroke-width="0.12" dominant-baseline="central">G4</text>
<line x1="586" y1="233.9" x2="593" y2="233.9" stroke="#3434f0" stroke-width="0.75"/>
<text x="595.4" y="233.9" font-size="8" text-anchor="start" fill="#000" stroke="#000" stroke-width="0.12" dominant-baseline="central">G5</text>
<line x1="586" y1="241.6" x2="593" y2="241.6" stroke="#e82020" stroke-width="0.75"/>
<text x="595.4" y="241.6" font-size="8" text-anchor="start" fill="#000" stroke="#000" stroke-width="0.12" dominant-baseline="central">G6</text>
<line x1="608.5" y1="201.5" x2="608.5" y2="241" stroke="#333" stroke-width="0.8"/>
<text x="615" y="221.5" font-size="8.32" text-anchor="middle" fill="#000" stroke="#000" stroke-width="0.12" dominant-baseline="central" transform="rotate(-90 615 221.5) translate(615 221.5) scale(0.88 1) translate(-615 -221.5)"><tspan font-style="italic">P</tspan> = 0.0017</text>
<text x="3.2" y="290" font-size="9.5" text-anchor="middle" font-weight="bold" fill="#000" stroke="#000" stroke-width="0.12" dominant-baseline="central">f</text>
<rect x="11.8" y="295" width="78.8" height="44.6" fill="#d8a2dc" stroke="none" stroke-width="0.8" filter="url(#he0)"/>
<text x="48.2" y="289" font-size="8.09" text-anchor="middle" fill="#111" stroke="#111" stroke-width="0.12" dominant-baseline="central" transform="translate(48.2 289) scale(0.88 1) translate(-48.2 -289)">Saline</text>
<rect x="93.3" y="295" width="78.8" height="44.6" fill="#dea2da" stroke="none" stroke-width="0.8" filter="url(#he1)"/>
<text x="129.7" y="289" font-size="8.09" text-anchor="middle" fill="#111" stroke="#111" stroke-width="0.12" dominant-baseline="central" transform="translate(129.7 289) scale(0.88 1) translate(-129.7 -289)">RT</text>
<rect x="175" y="295" width="78.8" height="44.6" fill="#e0a4dc" stroke="none" stroke-width="0.8" filter="url(#he2)"/>
<text x="211.4" y="289" font-size="8.09" text-anchor="middle" fill="#111" stroke="#111" stroke-width="0.12" dominant-baseline="central" transform="translate(211.4 289) scale(0.88 1) translate(-211.4 -289)">RT + RBAH</text>
<rect x="11.8" y="349.8" width="78.8" height="44.6" fill="#e4a6da" stroke="none" stroke-width="0.8" filter="url(#he3)"/>
<text x="48.2" y="343.8" font-size="8.09" text-anchor="middle" fill="#111" stroke="#111" stroke-width="0.12" dominant-baseline="central" transform="translate(48.2 343.8) scale(0.88 1) translate(-48.2 -343.8)">RT + aC@RBAH</text>
<rect x="93.3" y="349.8" width="78.8" height="44.6" fill="#e6a8da" stroke="none" stroke-width="0.8" filter="url(#he4)"/>
<text x="129.7" y="343.8" font-size="8.09" text-anchor="middle" fill="#111" stroke="#111" stroke-width="0.12" dominant-baseline="central" transform="translate(129.7 343.8) scale(0.88 1) translate(-129.7 -343.8)">RT + IL@RBAH</text>
<rect x="175" y="349.8" width="78.8" height="44.6" fill="#e6a8da" stroke="none" stroke-width="0.8" filter="url(#he5)"/>
<text x="211.4" y="343.8" font-size="8.09" text-anchor="middle" fill="#111" stroke="#111" stroke-width="0.12" dominant-baseline="central" transform="translate(211.4 343.8) scale(0.88 1) translate(-211.4 -343.8)">RT + IL/aC@RBAH</text>
<text x="231" y="382.6" font-size="7.2" text-anchor="middle" fill="#000" stroke="#000" stroke-width="0.12" dominant-baseline="central">500 µm</text>
<rect x="225.2" y="387.8" width="18.3" height="1.4" fill="#111" stroke="none" stroke-width="0.8"/>
<text x="361.6" y="290" font-size="9.5" text-anchor="middle" font-weight="bold" fill="#000" stroke="#000" stroke-width="0.12" dominant-baseline="central">h</text>
<rect x="366.8" y="294.2" width="66.1" height="44.3" fill="#0a1c60" stroke="none" stroke-width="0.8" filter="url(#fl0)"/>
<text x="400.35" y="288.6" font-size="8.09" text-anchor="middle" fill="#111" stroke="#111" stroke-width="0.12" dominant-baseline="central" transform="translate(400.35 288.6) scale(0.88 1) translate(-400.35 -288.6)">Saline</text>
<rect x="437" y="294.2" width="66.1" height="44.3" fill="#0a1a70" stroke="none" stroke-width="0.8" filter="url(#fl1)"/>
<text x="470.55" y="288.6" font-size="8.09" text-anchor="middle" fill="#111" stroke="#111" stroke-width="0.12" dominant-baseline="central" transform="translate(470.55 288.6) scale(0.88 1) translate(-470.55 -288.6)">RT</text>
<rect x="506.8" y="294.2" width="66.1" height="44.3" fill="#0a1868" stroke="none" stroke-width="0.8" filter="url(#fl2)"/>
<text x="540.35" y="288.6" font-size="8.09" text-anchor="middle" fill="#111" stroke="#111" stroke-width="0.12" dominant-baseline="central" transform="translate(540.35 288.6) scale(0.88 1) translate(-540.35 -288.6)">RT + RBAH</text>
<rect x="366.8" y="349.5" width="66.1" height="44.3" fill="#081460" stroke="none" stroke-width="0.8" filter="url(#fl3)"/>
<text x="400.35" y="343.9" font-size="8.09" text-anchor="middle" fill="#111" stroke="#111" stroke-width="0.12" dominant-baseline="central" transform="translate(400.35 343.9) scale(0.88 1) translate(-400.35 -343.9)">RT + aC@RBAH</text>
<rect x="437" y="349.5" width="66.1" height="44.3" fill="#081462" stroke="none" stroke-width="0.8" filter="url(#fl4)"/>
<text x="470.55" y="343.9" font-size="8.09" text-anchor="middle" fill="#111" stroke="#111" stroke-width="0.12" dominant-baseline="central" transform="translate(470.55 343.9) scale(0.88 1) translate(-470.55 -343.9)">RT + IL@RBAH</text>
<rect x="506.8" y="349.5" width="66.1" height="44.3" fill="#060a40" stroke="none" stroke-width="0.8" filter="url(#fl5)"/>
<text x="540.35" y="343.9" font-size="8.09" text-anchor="middle" fill="#111" stroke="#111" stroke-width="0.12" dominant-baseline="central" transform="translate(540.35 343.9) scale(0.88 1) translate(-540.35 -343.9)">RT + IL/aC@RBAH</text>
<text x="552.7" y="382.6" font-size="7.2" text-anchor="middle" fill="#fff" stroke="#fff" stroke-width="0.12" dominant-baseline="central">100 µm</text>
<rect x="553.2" y="388.5" width="11.6" height="1.2" fill="#fff" stroke="none" stroke-width="0.8"/>
<text x="2.2" y="413" font-size="9.5" text-anchor="middle" font-weight="bold" fill="#000" stroke="#000" stroke-width="0.12" dominant-baseline="central">j</text>
<text x="51" y="412.5" font-size="9.35" text-anchor="middle" fill="#000" stroke="#000" stroke-width="0.12" dominant-baseline="central" transform="translate(51 412.5) scale(0.88 1) translate(-51 -412.5)">G1</text>
<ellipse cx="40.4" cy="430.5" rx="4.16" ry="3.52" fill="url(#fc)" opacity="0.9"/>
<ellipse cx="59.9" cy="461.1" rx="6.4" ry="6.08" fill="url(#fc)" opacity="1"/>
<path d="M39.73 431.63h.7M39.81 429.81h.7M37.98 430.03h.7M43.29 431.43h.7M43.1 431.05h.7M41.43 430.91h.7M36.07 432.38h.7M41.72 431.6h.7M36 426.66h.7M38.09 429.47h.7M41.19 430.4h.7M41.75 429.09h.7M41.2 431.37h.7M38.68 434.28h.7M41.85 433.13h.7M38.79 428.87h.7M39.51 430.27h.7M42.04 431.05h.7M39.24 428.39h.7M39.05 433.19h.7M38.3 431.04h.7M41.51 427.22h.7M40.53 433.37h.7M35.16 429.79h.7M40.12 428.7h.7M41.69 430.36h.7M36.59 432.32h.7M42.14 432.58h.7M44.15 431.3h.7M40.71 427.64h.7M42 429.15h.7M39.22 427.72h.7M37.88 429.33h.7M43.75 426.03h.7M36.61 431.03h.7M44.15 431.77h.7M35.46 424.96h.7M41.33 428.88h.7M37.49 432.65h.7M43.26 430.85h.7M41.04 431.46h.7M44.54 431.86h.7M41.75 431.71h.7M36.32 433.32h.7M42.88 431.67h.7M35.27 429.11h.7M42.59 426.52h.7M39.92 432.74h.7M36.99 434.04h.7M41.84 430.17h.7M41.24 431.93h.7M40.71 433.02h.7M38.68 429.59h.7M43.11 430.56h.7M38.11 432.58h.7M44.21 429.52h.7M36.81 430.2h.7M40.01 429.84h.7M44.05 428.24h.7M43.68 427.71h.7M38.35 431.89h.7M43.33 432.39h.7M41.3 430.81h.7M40.8 431.77h.7M39.94 431.11h.7M41.89 430.5h.7M42.39 431.74h.7M45.63 431.21h.7M39.29 429.68h.7M40.37 432.53h.7M39.52 431.35h.7M45.18 424.86h.7M37.48 431.04h.7M41.44 431.02h.7M39.28 431.94h.7M41.13 429.35h.7M46.72 431.28h.7M38.96 430.28h.7M39.81 430.36h.7M33.31 429.43h.7M43.02 427.93h.7M40.23 432.6h.7M42.63 433.78h.7M35.98 429.72h.7M39.51 431.87h.7M43.24 424.6h.7M43.23 427.32h.7M42.18 427.22h.7M40.86 433.13h.7M40.01 430.92h.7M42.47 430.81h.7M40.17 433.87h.7M43.13 429.85h.7M47.54 427.98h.7M42.78 429.92h.7M40.74 432.05h.7M40.98 431.91h.7M36.43 427.18h.7M42 428.38h.7M37.73 427.27h.7M43.69 432.14h.7M44.23 428.44h.7M40.4 427.99h.7M42.39 434h.7M38.09 433.93h.7M42.97 430.11h.7M35.27 433.59h.7M40.15 429.17h.7M41.44 431.4h.7M44.3 428.26h.7M43.35 433.77h.7M44.18 430.1h.7M38.47 432.74h.7M40.7 430.77h.7M44.1 429.92h.7M34.43 429.65h.7M35.58 432.3h.7M41.22 429.16h.7M40.38 432.33h.7M40.61 433.42h.7M40.24 432.79h.7M44.28 434.04h.7M38.65 432.44h.7M35.52 428.12h.7M35.3 432.85h.7M37.2 430.47h.7M39.9 430.44h.7M38.86 431.01h.7M45.06 430.6h.7M41.78 432.7h.7M65.84 463.78h.7M59.82 463.37h.7M66.52 464.79h.7M64 456.99h.7M59.31 463.87h.7M58.71 465.16h.7M62.29 464.55h.7M59.05 470.78h.7M64.86 460.28h.7M60.26 470.96h.7M58.53 464.42h.7M63.82 461.13h.7M55.23 461.81h.7M61.34 465.39h.7M63.03 461.19h.7M63.31 463.15h.7M60.72 461.31h.7M58.93 463.71h.7M55.68 458.71h.7M59.92 455.54h.7M58.16 453.47h.7M57.17 463.26h.7M62.17 460.89h.7M58.97 455.72h.7M67.21 463.06h.7M64.27 457.75h.7M59.16 454.19h.7M63.02 464.65h.7M52.31 460.9h.7M62.42 454.4h.7M52.6 457.05h.7M57.38 455.77h.7M60.03 462.05h.7M62.44 463.77h.7M65.91 465.52h.7M54.65 459.18h.7M55.66 457.01h.7M59.57 461.12h.7M61.86 455.07h.7M54.95 461.01h.7M59.1 459.92h.7M59.65 458.21h.7M62.71 462.45h.7M59.55 458.55h.7M59.2 450.76h.7M55.97 461.24h.7M53.88 461.86h.7M60.49 455.87h.7M58.9 459.91h.7M61.74 463.43h.7M59.75 457.87h.7M59.32 460.85h.7M62.84 462.22h.7M57.01 455.95h.7M58.41 458.29h.7M55.45 460.66h.7M57.94 461.5h.7M61.99 459.53h.7M69.2 459.88h.7M64.31 461.56h.7M64.36 452.07h.7M56.89 462.04h.7M62.31 469.98h.7M61.19 465.96h.7M62.97 464.7h.7M61.94 460.51h.7M61.94 457h.7M64.63 457.23h.7M60.9 469.16h.7M59.01 461.17h.7M64.55 461.2h.7M56.67 462.08h.7M62.23 463.8h.7M56.81 467.76h.7M66.57 461.17h.7M60.97 459.47h.7M65.56 458.42h.7M62.6 459.28h.7M57.12 463.83h.7M65.24 461.06h.7M57.19 464.18h.7M59.7 462.28h.7M65.99 465.4h.7M57.82 469.78h.7M59.91 464.09h.7M57.31 460.93h.7M52.9 467.89h.7M65.36 456.48h.7M53.88 454.94h.7M64.6 459.35h.7M59.66 459.91h.7M59.42 456.96h.7M60 455.64h.7M59.61 462.27h.7M61.77 460.22h.7M56.29 461.71h.7M57.96 467.05h.7M62.97 460.66h.7M58.02 458.43h.7M56.15 459.76h.7M61.08 463.06h.7M62.18 469.07h.7M57.08 461.15h.7M71.08 454.01h.7M57.81 461.74h.7M60.52 462.65h.7M58.95 462.49h.7M60.11 464.03h.7M52.33 457.74h.7M59.89 457.18h.7M55.72 463.49h.7M57.3 463.51h.7M62.88 462.26h.7M61.93 460.7h.7M54.26 460.99h.7M61.72 459.09h.7M59.5 463.95h.7M56.39 463.53h.7M67.35 458.99h.7M60.49 460.53h.7M66.06 462.3h.7M63.49 458.48h.7M59.84 461.06h.7M52.8 466.58h.7M63.5 454.45h.7M62.88 460.6h.7M61.69 462.49h.7M53.9 460.29h.7M65.87 458.92h.7M55.81 455.93h.7M55.02 462.37h.7M66.67 462.73h.7M60.88 469.59h.7M57.82 458.54h.7M62.01 463.18h.7M55.84 456.65h.7M61.06 462.04h.7M54.67 460.33h.7M57.73 462.85h.7M59.43 460.77h.7M58.49 465.1h.7M65.46 459.71h.7M63.28 458.22h.7M60.19 463.95h.7M65.96 459.65h.7M59.6 461.85h.7M53.91 461.16h.7M57.2 462.51h.7M55.38 453.59h.7M60.05 462.09h.7M57.7 464.48h.7M58.81 458.8h.7M61.81 455.14h.7M57.19 461.02h.7M63.3 460.48h.7M61.13 458.61h.7M61.11 467.42h.7M57.15 470.09h.7M57.32 461.17h.7M60.59 464.99h.7M54.95 453.12h.7M62.32 464.12h.7M62.39 471.1h.7M60.72 462.06h.7M63.62 462.5h.7M66.55 456.39h.7M58.4 448.01h.7M63.15 459.68h.7M63.6 469.29h.7M59.88 460.13h.7M57.9 457.92h.7M57.38 463.53h.7M60.05 461.35h.7M59.21 464.57h.7M61.88 460.56h.7M62.56 460.52h.7M55.29 466.63h.7M61.76 457.46h.7M64.22 462.41h.7M53.64 467.22h.7M61.23 464.49h.7M60.69 460.53h.7M53.71 464.79h.7M60.02 460.01h.7M61.3 461.4h.7M62.6 459.69h.7M59.75 452.97h.7M58.21 463.67h.7M65.25 459.72h.7M59.41 467.12h.7M58.6 463.89h.7M66.61 461.25h.7M64.81 458.4h.7M60.73 460.81h.7M60.36 465.39h.7M69.46 458.57h.7M57.6 462.99h.7M55.68 462.99h.7M62.19 460.05h.7M62.02 455.21h.7M62.94 455.23h.7M57.11 458.99h.7M58.3 464.36h.7M60.23 459.59h.7M62.07 467.11h.7M59.92 462.49h.7M64.86 462.12h.7M54.76 470.56h.7M68.73 453.56h.7M59.74 462.69h.7M63.76 463.64h.7M58.81 457.1h.7M60.31 465.03h.7M55.54 457.2h.7M59.8 453.74h.7M58.86 459.44h.7M61.7 458.43h.7M56.37 459.6h.7M59.7 458.57h.7M59.95 463.95h.7M64.64 467.58h.7M56.77 459.5h.7M49.97 468.32h.7M57 460.97h.7M61.99 455.94h.7M61.76 461h.7M52.6 462.21h.7M64.68 454h.7M63.13 461.9h.7M61.8 462.78h.7M65.12 460.25h.7M63.39 459.54h.7M62.81 458.01h.7M59.47 467.68h.7M61.68 460.5h.7M55.32 458.1h.7M60.67 464.67h.7M61.6 463.09h.7M59.73 466.24h.7M58.34 459.01h.7M63.45 461.34h.7M58.79 458.91h.7M58.87 463.47h.7M61.31 456.5h.7M61.61 461.78h.7M55.9 464.04h.7M58.78 459.83h.7M63.08 466.12h.7M57.15 462.77h.7M56.4 469.89h.7M57.92 465.64h.7M57.31 464.18h.7M68.78 451.44h.7M58.16 463h.7M59.53 458.56h.7M68.51 461.4h.7M53.32 464.35h.7M53.01 465.47h.7M57.59 461.65h.7M64.94 461.55h.7M54.34 454.66h.7M64.63 463.91h.7M56.64 464.37h.7M61.89 463.56h.7M50.86 459.95h.7M63.5 463.89h.7M63.43 451.76h.7M60.58 462.97h.7M70.11 457.48h.7M58.58 461.24h.7M63.44 459.42h.7M64.49 458.11h.7M60.97 459.1h.7M60.53 458.47h.7M53.51 465.25h.7M61.11 458.98h.7M60.7 464.86h.7M55.99 460.68h.7M62.06 463.1h.7M58.56 453.09h.7M64.87 462.35h.7M59.95 460.04h.7M60.95 459.48h.7M55.8 458.29h.7M57.51 458.77h.7M55.27 463.52h.7M54.66 463.61h.7M55.84 462.44h.7M65.4 461.87h.7M56.98 461.28h.7M60.49 454.51h.7M57.47 461.72h.7M58.02 461.4h.7M62.84 464.01h.7M63.52 463.34h.7M58.75 461.03h.7M58.82 459.91h.7M59.18 454.55h.7M58.57 461.01h.7M56 461.01h.7" stroke="#4a52d8" stroke-width="0.6" stroke-opacity="0.75" fill="none"/>
<path d="M40.97 453.31h.7M39.47 464.04h.7M34.89 456.35h.7M46.03 462.75h.7M41.83 462.8h.7M42.5 453.68h.7M35.23 456.16h.7M45.68 456.5h.7M38.01 455.55h.7M35.37 458.56h.7M36.85 460.78h.7M31.89 460.61h.7M39.11 450.17h.7M44.84 457.83h.7M32.43 455.07h.7M43.02 456.99h.7M45.08 462.54h.7M44.6 460.6h.7M47.4 462.14h.7M43.7 449.51h.7M45.57 465.12h.7M40.55 456.94h.7M49.95 451.01h.7M43.77 470.25h.7M37.9 462.27h.7M49.72 458.55h.7M44.16 463.25h.7M38 458.69h.7M43.03 462.9h.7M41.65 458.2h.7M37.53 457.45h.7M45.55 459.57h.7M38.22 455.23h.7M53 464.34h.7M44.48 447.17h.7M44.41 461.31h.7M48.87 461.07h.7M41.52 461.5h.7M33.63 463.85h.7M43.16 455.87h.7M47.37 467.42h.7M35.91 456.03h.7M43.02 459.94h.7M40.13 454.62h.7M50.71 463.87h.7M36.78 452.91h.7M48.95 463.65h.7M49.45 462.83h.7M38.14 460.3h.7M32.73 455.66h.7M41.55 461.5h.7M38.74 458.53h.7M43.73 460.83h.7M44.48 460.06h.7M40.44 462.73h.7M42.01 455.3h.7M39.17 459.1h.7M41.34 459.82h.7M41.8 459.91h.7M41.24 453.31h.7M43.57 463.95h.7M43.63 458.23h.7M43.68 454.66h.7M33.84 459.37h.7M37.89 462.5h.7M37.25 447.01h.7M37.43 466.36h.7M40.2 452.8h.7M38.59 461.5h.7M43.89 459.91h.7M74.17 425.47h.6M72 446.11h.6M69.11 441.76h.6M56.67 445.76h.6M63.56 445.16h.6M73.36 426.16h.6M70.41 444.53h.6M53.71 430.62h.6M69.67 426.01h.6M72.91 428.8h.6M71.04 425.65h.6M63.8 444.28h.6M57.01 428.51h.6M63.89 429.86h.6M53.05 426.57h.6M55.92 444.67h.6" stroke="#6a72e0" stroke-width="0.55" stroke-opacity="0.6" fill="none"/>
<rect x="21.6" y="420.2" width="55.7" height="55.7" fill="none" stroke="#808080" stroke-width="0.8"/>
<line x1="50.2" y1="420.2" x2="50.2" y2="475.9" stroke="#404040" stroke-width="0.75"/>
<line x1="21.6" y1="448.2" x2="77.3" y2="448.2" stroke="#404040" stroke-width="0.75"/>
<text x="24.2" y="424.7" font-size="8.44" text-anchor="start" fill="#000" stroke="#000" stroke-width="0.12" dominant-baseline="central" transform="translate(24.2 424.7) scale(0.88 1) translate(-24.2 -424.7)">24.3</text>
<text x="20.6" y="425.9" font-size="7.41" text-anchor="end" fill="#000" stroke="#000" stroke-width="0.12" dominant-baseline="central" transform="translate(20.6 425.9) scale(0.88 1) translate(-20.6 -425.9)">10<tspan font-size="4.23" baseline-shift="2.47">5</tspan></text>
<line x1="20.4" y1="425.9" x2="21.6" y2="425.9" stroke="#444" stroke-width="0.6"/>
<text x="20.6" y="435.5" font-size="7.41" text-anchor="end" fill="#000" stroke="#000" stroke-width="0.12" dominant-baseline="central" transform="translate(20.6 435.5) scale(0.88 1) translate(-20.6 -435.5)">10<tspan font-size="4.23" baseline-shift="2.47">4</tspan></text>
<line x1="20.4" y1="435.5" x2="21.6" y2="435.5" stroke="#444" stroke-width="0.6"/>
<text x="20.6" y="446.4" font-size="7.41" text-anchor="end" fill="#000" stroke="#000" stroke-width="0.12" dominant-baseline="central" transform="translate(20.6 446.4) scale(0.88 1) translate(-20.6 -446.4)">10<tspan font-size="4.23" baseline-shift="2.47">3</tspan></text>
<line x1="20.4" y1="446.4" x2="21.6" y2="446.4" stroke="#444" stroke-width="0.6"/>
<text x="20.6" y="460.8" font-size="7.41" text-anchor="end" fill="#000" stroke="#000" stroke-width="0.12" dominant-baseline="central" transform="translate(20.6 460.8) scale(0.88 1) translate(-20.6 -460.8)">0</text>
<line x1="20.4" y1="460.8" x2="21.6" y2="460.8" stroke="#444" stroke-width="0.6"/>
<text x="20.6" y="471.6" font-size="7.41" text-anchor="end" fill="#000" stroke="#000" stroke-width="0.12" dominant-baseline="central" transform="translate(20.6 471.6) scale(0.88 1) translate(-20.6 -471.6)">-10<tspan font-size="4.23" baseline-shift="2.47">3</tspan></text>
<line x1="20.4" y1="471.6" x2="21.6" y2="471.6" stroke="#444" stroke-width="0.6"/>
<text x="38.1" y="481.5" font-size="7.41" text-anchor="middle" fill="#000" stroke="#000" stroke-width="0.12" dominant-baseline="central" transform="translate(38.1 481.5) scale(0.88 1) translate(-38.1 -481.5)">0</text>
<line x1="38.1" y1="475.9" x2="38.1" y2="477.4" stroke="#444" stroke-width="0.6"/>
<text x="61.2" y="481.5" font-size="7.41" text-anchor="middle" fill="#000" stroke="#000" stroke-width="0.12" dominant-baseline="central" transform="translate(61.2 481.5) scale(0.88 1) translate(-61.2 -481.5)">10<tspan font-size="4.23" baseline-shift="2.47">4</tspan></text>
<line x1="61.2" y1="475.9" x2="61.2" y2="477.4" stroke="#444" stroke-width="0.6"/>
<text x="75.1" y="481.5" font-size="7.41" text-anchor="middle" fill="#000" stroke="#000" stroke-width="0.12" dominant-baseline="central" transform="translate(75.1 481.5) scale(0.88 1) translate(-75.1 -481.5)">10<tspan font-size="4.23" baseline-shift="2.47">5</tspan></text>
<line x1="75.1" y1="475.9" x2="75.1" y2="477.4" stroke="#444" stroke-width="0.6"/>
<line x1="29.6" y1="475.9" x2="29.6" y2="476.9" stroke="#666" stroke-width="0.5"/>
<line x1="33.6" y1="475.9" x2="33.6" y2="476.9" stroke="#666" stroke-width="0.5"/>
<line x1="42.6" y1="475.9" x2="42.6" y2="476.9" stroke="#666" stroke-width="0.5"/>
<line x1="46.6" y1="475.9" x2="46.6" y2="476.9" stroke="#666" stroke-width="0.5"/>
<line x1="54.6" y1="475.9" x2="54.6" y2="476.9" stroke="#666" stroke-width="0.5"/>
<line x1="66.6" y1="475.9" x2="66.6" y2="476.9" stroke="#666" stroke-width="0.5"/>
<line x1="69.6" y1="475.9" x2="69.6" y2="476.9" stroke="#666" stroke-width="0.5"/>
<text x="121.1" y="412.5" font-size="9.35" text-anchor="middle" fill="#000" stroke="#000" stroke-width="0.12" dominant-baseline="central" transform="translate(121.1 412.5) scale(0.88 1) translate(-121.1 -412.5)">G2</text>
<ellipse cx="109.2" cy="430.7" rx="3.84" ry="3.2" fill="url(#fc)" opacity="0.9"/>
<ellipse cx="129.6" cy="459.9" rx="6.4" ry="5.76" fill="url(#fc)" opacity="1"/>
<path d="M107.02 426.86h.7M111.26 433.76h.7M111.41 432.33h.7M107.72 429.27h.7M111.33 428.88h.7M104.85 428.7h.7M115.18 434.55h.7M107.55 429.24h.7M109.76 429.2h.7M112.34 430.54h.7M106.59 433.32h.7M107.8 431.14h.7M109.17 430.07h.7M109.98 429.32h.7M104.77 426.28h.7M106.16 429.18h.7M109.14 430.81h.7M110.53 430.94h.7M107.3 429.28h.7M104.11 430.36h.7M110.36 431.76h.7M108.91 430.35h.7M111.45 430.73h.7M110.97 431.87h.7M109.71 433.31h.7M107.83 429.98h.7M107.26 429.11h.7M112.93 434.22h.7M109.25 431.84h.7M112.02 432.31h.7M112.09 428.17h.7M107.67 431.61h.7M112.64 430.91h.7M107.14 429.99h.7M107.61 428.98h.7M112.8 429.45h.7M109.25 435.02h.7M112.04 431.37h.7M107.73 431.52h.7M113.09 431.95h.7M112.23 430.9h.7M110.44 430.3h.7M110.22 433.3h.7M105.77 430.57h.7M109.78 429.56h.7M108.46 432.27h.7M114 431.96h.7M109.98 427.6h.7M113.83 430.85h.7M109.12 428.46h.7M109.06 428.51h.7M109.37 431.63h.7M109.27 431.26h.7M107.16 433.56h.7M107.63 427.06h.7M108.75 429.17h.7M106.78 429.99h.7M109.9 428.34h.7M108.87 433.55h.7M110.84 430.4h.7M109.51 430.46h.7M109.09 432.16h.7M108.98 425.89h.7M109.15 428.92h.7M110.76 429.48h.7M109.56 435.05h.7M106.69 428.45h.7M105.81 425.91h.7M104.69 431.43h.7M107.67 426.96h.7M105.64 431.93h.7M107.34 429.97h.7M109.99 433.41h.7M113.86 432.76h.7M109.54 431.07h.7M113.53 433.56h.7M108.45 431.62h.7M109.89 430.8h.7M108 428.05h.7M107.92 427.61h.7M112.14 431.77h.7M106.31 433.49h.7M111.34 426.88h.7M113.62 432.32h.7M114.15 428.24h.7M110.47 431.55h.7M109.68 431.04h.7M111.73 427.71h.7M106.22 427.91h.7M107.86 429.49h.7M110.08 431.23h.7M109.28 429.35h.7M108.14 432.6h.7M111.03 430.9h.7M108.43 433.81h.7M107.77 432h.7M111.97 430.17h.7M111.18 428.47h.7M111.63 431.1h.7M105.39 432.04h.7M107.06 433.26h.7M107.57 430.37h.7M109.88 430.04h.7M109.82 429.59h.7M110.81 430.71h.7M109.71 425.19h.7M111.99 430.76h.7M104.92 430.89h.7M110.32 432.84h.7M106.6 433.79h.7M108.82 435.49h.7M108.85 432.06h.7M108.32 428.47h.7M111.83 432.51h.7M112.89 432.41h.7M107.82 427.38h.7M107.64 429.35h.7M107.24 431.86h.7M109.99 430.16h.7M109.61 430.41h.7M128.76 460.87h.7M128.98 463.49h.7M133.75 460.21h.7M124.16 462.57h.7M127.72 462.16h.7M130.65 465.75h.7M134.15 458.28h.7M131 466.25h.7M127.45 461.46h.7M134.36 464.42h.7M131.67 455.15h.7M124.56 460.79h.7M131.15 469.07h.7M126.15 464h.7M132.68 453.88h.7M126.33 460.5h.7M127.63 459.34h.7M131.48 456.99h.7M131.47 457.61h.7M127.42 461.83h.7M127.31 460.93h.7M136 460h.7M129.02 462.55h.7M128.14 463.8h.7M124.47 462.13h.7M127.55 457.02h.7M136.68 456.84h.7M136.63 462.27h.7M135.41 456.38h.7M134.4 465.14h.7M129.13 459.44h.7M139.42 460.54h.7M127.91 457.63h.7M131.38 461.09h.7M130.31 466.1h.7M128.29 461.6h.7M135.44 456.29h.7M133.75 466.5h.7M124.18 455.95h.7M125.45 453.25h.7M131.41 453.22h.7M131.6 465.13h.7M123.14 458.76h.7M121.93 462.7h.7M126.65 458.94h.7M129.82 461.86h.7M128.21 459.95h.7M127.41 460.31h.7M124.91 460.13h.7M121.87 458.14h.7M137.26 460.19h.7M124.56 460.83h.7M125.71 453.96h.7M126.65 462.55h.7M131.14 459.55h.7M125.89 456.02h.7M135 460.78h.7M125.79 452.3h.7M124.12 468.81h.7M125 459.62h.7M130.44 459.33h.7M128.49 454.96h.7M125.4 465.98h.7M126.57 462.94h.7M122.82 458.91h.7M130.64 463.63h.7M125.11 462.04h.7M131.14 457.24h.7M131.51 456.67h.7M126.42 459.83h.7M118.74 459.51h.7M125.6 454.63h.7M127.9 462.65h.7M127.98 464.46h.7M124.96 455.18h.7M135.8 461.34h.7M133.38 456.92h.7M132.82 460.83h.7M132.19 459.99h.7M134.43 457.56h.7M125.74 454.58h.7M134.24 457.24h.7M125.43 456.52h.7M127.82 455.32h.7M128.44 457.64h.7M127.39 456.45h.7M129.75 458.24h.7M130.06 460.8h.7M130.96 452.02h.7M127.46 457.03h.7M132.7 454.22h.7M126.74 458.84h.7M128.26 463.47h.7M127.83 463.37h.7M123.74 453.38h.7M134.48 461.47h.7M131.55 460.34h.7M131.54 455.52h.7M133.39 457.98h.7M133.54 460.22h.7M121.71 455.27h.7M134.11 459.41h.7M128.02 460.77h.7M127.9 457.94h.7M130.01 460.42h.7M135.67 460.06h.7M137.12 466.39h.7M136.47 463.72h.7M130.12 460.39h.7M129.03 457.27h.7M129.33 457.59h.7M136.16 461.82h.7M127.81 453h.7M129.39 458.4h.7M125.26 455.81h.7M120.6 461.95h.7M129.34 469.19h.7M129.48 459.37h.7M135.38 460.38h.7M130.27 458.56h.7M127.18 465.3h.7M133.6 466.08h.7M128.2 460.01h.7M126.08 463.38h.7M124.03 461.93h.7M133.98 464.98h.7M125.84 463.82h.7M126.75 457.17h.7M124.31 464.06h.7M136.19 457.76h.7M126.56 458.68h.7M139.63 463.52h.7M127.43 453.44h.7M126.91 464.17h.7M137.07 458.94h.7M126.83 458.06h.7M122.06 463.17h.7M125.26 463.73h.7M122.77 455.33h.7M130.75 457.15h.7M132.73 459.93h.7M124.9 462.14h.7M132.97 453.01h.7M136.9 461.69h.7M132.64 453.2h.7M126.72 458.64h.7M133.91 454.65h.7M126.06 452.59h.7M128.64 461.15h.7M122.86 457.77h.7M131.64 465.61h.7M132.26 458.81h.7M124.89 456.53h.7M126.94 460.43h.7M129.4 465.9h.7M130.75 456.04h.7M135.78 463.32h.7M130 457.3h.7M122.12 456.22h.7M133.25 457.01h.7M124.32 460.6h.7M130.58 462.08h.7M132.22 464.97h.7M126.24 463.42h.7M125.65 462.4h.7M130.32 460.78h.7M133.47 459.84h.7M134.05 463.05h.7M130.14 457.86h.7M126.59 458h.7M128.79 459.81h.7M141.52 462.2h.7M132.68 456.8h.7M126.76 458.75h.7M130.37 456.17h.7M136.05 457.87h.7M133.91 451.49h.7M129.57 460.9h.7M130.37 462.07h.7M130.72 460.48h.7M122.03 457.33h.7M120.23 462.16h.7M130.83 459.2h.7M126.31 457.81h.7M136.98 466.13h.7M129.37 464.54h.7M123.25 452.93h.7M127.67 456.75h.7M127.36 460.58h.7M141.7 457.52h.7M129.8 460.89h.7M129.46 463.25h.7M136.7 455.42h.7M130.25 458.95h.7M131.03 454.39h.7M122.57 451.56h.7M131.7 460.59h.7M129.89 451.38h.7M128.11 457.18h.7M123.95 456.6h.7M132.39 461.86h.7M129.51 461.75h.7M127.19 460.16h.7M129.76 461.9h.7M129.32 459.38h.7M129.06 457.58h.7M138.53 461.75h.7M131.32 468.15h.7M135.21 454.3h.7M132.38 462.92h.7M137.14 464.64h.7M132.68 455.66h.7M126.12 460.87h.7M131.62 456.22h.7M128.06 458.46h.7M129.84 461.11h.7M128.45 455.45h.7M134.57 465.65h.7M129.18 463.59h.7M131.38 462.27h.7M131.53 457.15h.7M131.9 463.54h.7M126.01 466.98h.7M137.96 466.46h.7M137.56 462.57h.7M128.25 457.74h.7M126.35 460.32h.7M129.47 462.31h.7M121.52 468.22h.7M138.71 459.8h.7M132.3 461.61h.7M130.69 459.15h.7M129.11 456.93h.7M130.31 459.81h.7M130.88 456.82h.7M129.76 460.07h.7M132.02 456.07h.7M131.28 463.44h.7M131.99 458.57h.7M127.63 459.05h.7M132.52 465.49h.7M128.97 457.59h.7M131.1 460.64h.7M125.97 457.25h.7M129.19 462.32h.7M124.83 456.23h.7M131.6 455.49h.7M130.04 461.17h.7M129.16 456.23h.7M129.36 458.7h.7M130.94 456.88h.7M133.97 453.87h.7M128.89 459.93h.7M133.45 457.71h.7M131.78 457.86h.7M132.55 466.15h.7M128 461.49h.7M125.89 463.4h.7M134.44 460.03h.7M125.06 461.35h.7M134.2 463.82h.7M132.85 453.31h.7M126.88 465.02h.7M124.7 463.97h.7M137.13 462.64h.7M134.08 458.7h.7M124.7 459.53h.7M128.8 459.73h.7M132.39 459.38h.7M130.37 461.43h.7M129.58 466.54h.7M131.37 460.2h.7M128.77 457.65h.7M134.98 460.44h.7M125.28 457.88h.7M129.05 458.3h.7M133.94 455.72h.7M131.57 460.42h.7M124.89 460.07h.7M129.22 461.7h.7M127.8 460.99h.7M122.94 456h.7M132.74 463.65h.7M129.55 457.74h.7M133.93 452.37h.7M126.4 462.32h.7M132.21 456.18h.7M122.05 465.13h.7M130.21 456.67h.7M129.82 463.15h.7M119.23 463.9h.7M132.56 452.41h.7M132.68 453.49h.7M134.16 461.33h.7M138.61 457.7h.7M129.62 463.67h.7M127.04 457.36h.7M128.11 459.64h.7M125.27 461.64h.7M131.77 460.16h.7" stroke="#4a52d8" stroke-width="0.6" stroke-opacity="0.75" fill="none"/>
<path d="M111.59 464.31h.7M114.73 458.56h.7M104.37 467.01h.7M111.18 465.72h.7M103.8 459.98h.7M110.81 455.53h.7M108.53 464.2h.7M115.23 467.68h.7M107.07 455.69h.7M112.89 465.06h.7M111.51 456.09h.7M113.98 464.47h.7M113.02 459.35h.7M111.98 464.46h.7M108.35 453.93h.7M112.08 463.22h.7M110.76 464.86h.7M108.24 460.97h.7M109.42 463.59h.7M117.4 460.3h.7M119.33 467.42h.7M114.02 463.65h.7M118.14 460.58h.7M110.23 457.05h.7M112.69 466.68h.7M112.94 462.99h.7M109.86 461.98h.7M104.71 465.5h.7M108.98 456.88h.7M107.54 458h.7M114.29 465.53h.7M105 465.01h.7M114.43 458.98h.7M104.46 458.32h.7M108.04 462.67h.7M109.2 453.19h.7M111.68 455.16h.7M114.5 456.47h.7M107.79 457.88h.7M108.42 466.49h.7M114.28 463.71h.7M112.04 455.11h.7M108.51 459.09h.7M106.59 463.34h.7M107.59 458.46h.7M106.31 453.07h.7M113.2 466.62h.7M111.43 457.39h.7M99.34 461.99h.7M115.81 462.49h.7M114.59 467.21h.7M115.43 459.53h.7M115.12 464.4h.7M104.24 459.68h.7M104.72 460.86h.7M113.13 457.03h.7M102.07 466.49h.7M112.28 467.18h.7M105.14 465.54h.7M119.41 469.33h.7M144.7 440.84h.6M143.94 437.4h.6M140.99 443.42h.6M142.74 423.02h.6M137.12 428.58h.6M137.97 428.76h.6M134.83 444.39h.6M136.65 428.21h.6M134.32 432.61h.6M144.27 429.1h.6M129.36 437.74h.6M125.08 436.46h.6M144.39 434.53h.6M128.5 433.39h.6M134.63 425.76h.6M125.16 425.35h.6" stroke="#6a72e0" stroke-width="0.55" stroke-opacity="0.6" fill="none"/>
<rect x="91.7" y="420.2" width="55.7" height="55.7" fill="none" stroke="#808080" stroke-width="0.8"/>
<line x1="120.3" y1="420.2" x2="120.3" y2="475.9" stroke="#404040" stroke-width="0.75"/>
<line x1="91.7" y1="448.2" x2="147.4" y2="448.2" stroke="#404040" stroke-width="0.75"/>
<text x="94.3" y="424.7" font-size="8.44" text-anchor="start" fill="#000" stroke="#000" stroke-width="0.12" dominant-baseline="central" transform="translate(94.3 424.7) scale(0.88 1) translate(-94.3 -424.7)">28.6</text>
<text x="90.7" y="425.9" font-size="7.41" text-anchor="end" fill="#000" stroke="#000" stroke-width="0.12" dominant-baseline="central" transform="translate(90.7 425.9) scale(0.88 1) translate(-90.7 -425.9)">10<tspan font-size="4.23" baseline-shift="2.47">5</tspan></text>
<line x1="90.5" y1="425.9" x2="91.7" y2="425.9" stroke="#444" stroke-width="0.6"/>
<text x="90.7" y="435.5" font-size="7.41" text-anchor="end" fill="#000" stroke="#000" stroke-width="0.12" dominant-baseline="central" transform="translate(90.7 435.5) scale(0.88 1) translate(-90.7 -435.5)">10<tspan font-size="4.23" baseline-shift="2.47">4</tspan></text>
<line x1="90.5" y1="435.5" x2="91.7" y2="435.5" stroke="#444" stroke-width="0.6"/>
<text x="90.7" y="446.4" font-size="7.41" text-anchor="end" fill="#000" stroke="#000" stroke-width="0.12" dominant-baseline="central" transform="translate(90.7 446.4) scale(0.88 1) translate(-90.7 -446.4)">10<tspan font-size="4.23" baseline-shift="2.47">3</tspan></text>
<line x1="90.5" y1="446.4" x2="91.7" y2="446.4" stroke="#444" stroke-width="0.6"/>
<text x="90.7" y="460.8" font-size="7.41" text-anchor="end" fill="#000" stroke="#000" stroke-width="0.12" dominant-baseline="central" transform="translate(90.7 460.8) scale(0.88 1) translate(-90.7 -460.8)">0</text>
<line x1="90.5" y1="460.8" x2="91.7" y2="460.8" stroke="#444" stroke-width="0.6"/>
<text x="90.7" y="471.6" font-size="7.41" text-anchor="end" fill="#000" stroke="#000" stroke-width="0.12" dominant-baseline="central" transform="translate(90.7 471.6) scale(0.88 1) translate(-90.7 -471.6)">-10<tspan font-size="4.23" baseline-shift="2.47">3</tspan></text>
<line x1="90.5" y1="471.6" x2="91.7" y2="471.6" stroke="#444" stroke-width="0.6"/>
<text x="108.2" y="481.5" font-size="7.41" text-anchor="middle" fill="#000" stroke="#000" stroke-width="0.12" dominant-baseline="central" transform="translate(108.2 481.5) scale(0.88 1) translate(-108.2 -481.5)">0</text>
<line x1="108.2" y1="475.9" x2="108.2" y2="477.4" stroke="#444" stroke-width="0.6"/>
<text x="131.3" y="481.5" font-size="7.41" text-anchor="middle" fill="#000" stroke="#000" stroke-width="0.12" dominant-baseline="central" transform="translate(131.3 481.5) scale(0.88 1) translate(-131.3 -481.5)">10<tspan font-size="4.23" baseline-shift="2.47">4</tspan></text>
<line x1="131.3" y1="475.9" x2="131.3" y2="477.4" stroke="#444" stroke-width="0.6"/>
<text x="145.2" y="481.5" font-size="7.41" text-anchor="middle" fill="#000" stroke="#000" stroke-width="0.12" dominant-baseline="central" transform="translate(145.2 481.5) scale(0.88 1) translate(-145.2 -481.5)">10<tspan font-size="4.23" baseline-shift="2.47">5</tspan></text>
<line x1="145.2" y1="475.9" x2="145.2" y2="477.4" stroke="#444" stroke-width="0.6"/>
<line x1="99.7" y1="475.9" x2="99.7" y2="476.9" stroke="#666" stroke-width="0.5"/>
<line x1="103.7" y1="475.9" x2="103.7" y2="476.9" stroke="#666" stroke-width="0.5"/>
<line x1="112.7" y1="475.9" x2="112.7" y2="476.9" stroke="#666" stroke-width="0.5"/>
<line x1="116.7" y1="475.9" x2="116.7" y2="476.9" stroke="#666" stroke-width="0.5"/>
<line x1="124.7" y1="475.9" x2="124.7" y2="476.9" stroke="#666" stroke-width="0.5"/>
<line x1="136.7" y1="475.9" x2="136.7" y2="476.9" stroke="#666" stroke-width="0.5"/>
<line x1="139.7" y1="475.9" x2="139.7" y2="476.9" stroke="#666" stroke-width="0.5"/>
<text x="192.6" y="412.5" font-size="9.35" text-anchor="middle" fill="#000" stroke="#000" stroke-width="0.12" dominant-baseline="central" transform="translate(192.6 412.5) scale(0.88 1) translate(-192.6 -412.5)">G3</text>
<ellipse cx="182.2" cy="432.1" rx="4.16" ry="3.84" fill="url(#fc)" opacity="0.5"/>
<ellipse cx="201.2" cy="458.4" rx="6.72" ry="6.08" fill="url(#fc)" opacity="0.6"/>
<path d="M181.48 434.46h.7M181.74 433.84h.7M184.98 433.68h.7M184.11 429.32h.7M178.79 430.62h.7M183.44 435.7h.7M179.02 432.84h.7M179.98 430.34h.7M181.48 433.76h.7M182.75 434.93h.7M179.64 434.23h.7M184.62 432.27h.7M183.44 430.75h.7M179.37 431.13h.7M180.53 439.04h.7M180.94 436.06h.7M182.73 432.85h.7M184.13 430.23h.7M184.58 433h.7M178.26 433.54h.7M183.64 433.19h.7M186.32 431.11h.7M183.53 433.9h.7M179.86 434.98h.7M178.43 428.98h.7M183.56 429.49h.7M181.9 428.15h.7M182.38 429.38h.7M183.09 428.42h.7M183.37 431.46h.7M182.37 431.94h.7M182.54 428.93h.7M175.53 432.18h.7M179.77 431.01h.7M183.31 427.34h.7M180.22 430.64h.7M179.45 432.88h.7M181.84 430.13h.7M179.64 434.04h.7M180.49 433.5h.7M183.37 427.55h.7M179.38 432.11h.7M183.09 433.97h.7M184.29 434.58h.7M181.23 431.59h.7M184.22 431.08h.7M184.95 428.29h.7M183.9 431.68h.7M177.09 434.45h.7M183.01 432.15h.7M179.4 430.98h.7M186.13 430.11h.7M173.17 430.04h.7M179.08 431.78h.7M181.18 429.91h.7M180.01 434.61h.7M178.45 436.8h.7M180.79 429.48h.7M184.25 433.45h.7M179.49 433.9h.7M177.42 429.88h.7M185.13 431.49h.7M178.81 433.33h.7M184.58 432.05h.7M177.5 431.27h.7M183.29 433.94h.7M187.02 431.49h.7M180.95 432.01h.7M185.34 429.84h.7M185.59 425.5h.7M184.27 430.48h.7M183.39 433.75h.7M179.13 431.89h.7M182.83 433.51h.7M179.78 429.72h.7M177.2 438.19h.7M181.7 431.57h.7M178.31 434.33h.7M180.81 435.55h.7M184.41 432.15h.7M184.09 429.43h.7M181.35 430.72h.7M178.9 432.14h.7M181.82 435.55h.7M173.48 430.49h.7M179.81 430.99h.7M183.3 433.07h.7M182.27 430.96h.7M183.49 432.96h.7M177.41 431.47h.7M178.63 429.26h.7M182.58 432.24h.7M182.5 430h.7M181.68 429.91h.7M183.19 433.75h.7M186.76 435.14h.7M180.11 431h.7M179.76 432.83h.7M187.35 433.8h.7M176.48 429.08h.7M195.95 461.31h.7M200.2 455.67h.7M203.43 455.49h.7M199.37 456.66h.7M208.15 463.96h.7M200.54 452.43h.7M202.36 458.67h.7M202.67 460.55h.7M199.85 461.92h.7M204.72 459.2h.7M199.49 456.57h.7M204.11 454.22h.7M200.53 455.55h.7M195.35 460.69h.7M201.09 458.54h.7M204.87 452.72h.7M200.92 459.5h.7M204.7 454.28h.7M204.21 459.23h.7M206.89 462.73h.7M203.51 466.56h.7M201.19 456.79h.7M199.77 454.83h.7M201.08 451.26h.7M200.85 460.02h.7M205.36 457.08h.7M207.03 455.93h.7M200.63 451.26h.7M198 455.39h.7M207.33 460.37h.7M196.67 460.38h.7M203.17 457.53h.7M201.29 457.27h.7M198.98 451.82h.7M200.83 463.17h.7M207.07 457.37h.7M198.14 457.61h.7M204.88 459.7h.7M198.81 459.74h.7M200.35 460.31h.7M199.53 452.94h.7M201.44 461.22h.7M196.66 458h.7M204.8 457.01h.7M198.54 465.92h.7M204.6 462.21h.7M197.33 464.44h.7M194.42 456.48h.7M204.23 463.32h.7M197.4 455.94h.7M202 451.27h.7M203.81 460.47h.7M199.37 460.39h.7M204.37 459.54h.7M203.33 463.99h.7M199.25 459h.7M199.07 462.21h.7M199.54 460.15h.7M201.76 458.64h.7M208.19 458.09h.7M206.97 461.44h.7M206.57 457.79h.7M204.97 461.18h.7M198.7 459.39h.7M200.68 458.27h.7M206.49 455.75h.7M194.37 452.01h.7M199.36 456.03h.7M201.26 460.48h.7M208.34 459.53h.7M203.08 455.71h.7M203.55 463.38h.7M206.63 451.24h.7M204.81 464.2h.7M204.55 452.92h.7M199.96 460.55h.7M202.88 455.43h.7M197.6 461.94h.7M195.8 463.65h.7M201.28 459.5h.7M195.81 456.22h.7M203.99 453.02h.7M209.57 453.27h.7M196.26 458.56h.7M203.15 461.08h.7M199.7 457.64h.7M200.25 456.3h.7M190.79 461.91h.7M202.21 458.98h.7M198.66 459.32h.7M201.15 458.12h.7M205.66 452.11h.7M202.22 454.51h.7M199.92 463.87h.7M196.83 458.04h.7M198.81 461.87h.7M197.25 452.26h.7M203.27 457.11h.7M199.91 462.34h.7M197.62 457.04h.7M201.8 459.91h.7M199.12 462.18h.7M210.24 456.91h.7M208.74 450.7h.7M206.87 457.14h.7M201.75 457.16h.7M198.63 453.74h.7M199.61 463.13h.7M205.8 457.13h.7M199.07 455.84h.7M196.36 464.98h.7M203.88 458.83h.7M199.22 454.67h.7M206.51 461.25h.7M197.36 462.01h.7M196.74 460.74h.7M197.33 456.89h.7M203.2 459.98h.7M205.28 455.35h.7M207.57 463.3h.7M201.16 460.1h.7M198.06 457.84h.7M195.87 458.73h.7M202 463.3h.7M205.02 461.37h.7M199.74 457.58h.7M199.83 459.21h.7M193.42 461.21h.7M194.88 456.52h.7M201.29 456.53h.7M207.91 458.04h.7M207.54 462.68h.7M199.2 459.86h.7M206.43 457.18h.7M201.56 456.36h.7M201.44 457.11h.7M201.53 462.06h.7M206.82 458.89h.7M202.01 461.52h.7M200.03 454.54h.7M205.68 454.99h.7M204.95 454.88h.7M208.58 454.59h.7M204.62 463.87h.7M197.33 463.82h.7M197.88 451.96h.7M204.11 460.96h.7M200.38 449.19h.7M200.98 457.28h.7M199.67 457.34h.7M193.98 456.33h.7M208.46 464.04h.7M199.74 455.8h.7M202.8 462.27h.7M204.12 454.14h.7M201.85 458.91h.7M207 462.76h.7M203.31 462.84h.7M199.61 464.01h.7M199.48 459.84h.7M204.9 455.07h.7M198.37 451.99h.7M201.86 458.2h.7M199.88 460.22h.7M192.67 458.31h.7M201.55 457.43h.7M204.4 464.79h.7M199.4 454.97h.7M198.76 458.74h.7M203.56 455.26h.7M205.23 454.66h.7M204.54 459.96h.7M203.07 466.27h.7M200.14 457.8h.7M203.12 461.55h.7M195.8 459.4h.7M198.21 460.7h.7M206.72 458.59h.7M200.77 459.07h.7M189.29 461.21h.7M203.46 459h.7M199.6 455.73h.7M200.48 462.83h.7M200.79 463.32h.7M190.83 456.72h.7M202.31 458.35h.7M194.51 455.97h.7M206.24 453.69h.7M197.21 454.4h.7M198.97 460.74h.7M203.6 450.99h.7M207.09 456.24h.7M198.83 464.48h.7M200.87 453.88h.7M198.62 455.75h.7M197.13 457.18h.7M204.74 459.68h.7M195.63 468.57h.7M197.21 458.82h.7M201.33 461.18h.7M199.88 460.07h.7M209.69 458.75h.7M196.84 459.6h.7M197.96 457.05h.7M201.96 459.63h.7M200.05 461.49h.7M200.42 453.64h.7M204.74 457.07h.7M206.09 456.01h.7M203.51 459.55h.7M190.33 452.95h.7M196.69 463.53h.7M193.59 461.73h.7M205.6 460.21h.7M203.92 456.59h.7M201.16 459.22h.7M202.9 460.98h.7M200.37 455.84h.7M198.93 459.9h.7M194.5 453.83h.7" stroke="#4a52d8" stroke-width="0.6" stroke-opacity="0.75" fill="none"/>
<path d="M177.55 460.56h.7M182.2 459.66h.7M188.61 454.93h.7M179.15 466.66h.7M183.43 455.13h.7M174.9 452h.7M173.4 458.69h.7M182.36 462.57h.7M181.7 455.49h.7M179.53 466.39h.7M175.84 459.13h.7M182.29 460.99h.7M180.74 460.5h.7M185.14 457.78h.7M180.55 457.62h.7M178.73 457.53h.7M181.11 459.28h.7M187.01 463.89h.7M180.6 460.93h.7M183.26 461.6h.7M182.28 459.52h.7M180.51 455.1h.7M185.34 463.86h.7M184.58 460.23h.7M183.16 456.51h.7M175.78 461.19h.7M182.92 456.07h.7M178.73 463.77h.7M175.7 465.8h.7M184.5 468.36h.7M179.62 458.31h.7M180.38 459.05h.7M181.44 455.26h.7M186.07 455.1h.7M180.37 460.73h.7M180.26 456.57h.7M183.48 456.86h.7M177.71 457.97h.7M181.41 465.56h.7M178.25 462.47h.7M179.37 456.91h.7M181.02 459.54h.7M185.31 465.75h.7M179.91 463.99h.7M185.78 461.81h.7M179.47 462.18h.7M181.81 459.88h.7M181.23 461.19h.7M186.21 463.15h.7M181.46 462.58h.7M187.43 454.47h.7M187.5 452.79h.7M184.15 460.89h.7M187.54 459.57h.7M180.47 455.05h.7M208.77 426.92h.6M210.75 445.32h.6M207.68 424.1h.6M212.5 443.21h.6M201.68 425.48h.6M198.15 435.09h.6M214.02 437.56h.6M215.12 427.29h.6M201.35 440.18h.6M208.79 431.93h.6M209.48 430.31h.6M195.13 432.14h.6M194.85 437.23h.6M201.53 434.06h.6M207.61 428.37h.6M204.5 422.53h.6" stroke="#6a72e0" stroke-width="0.55" stroke-opacity="0.6" fill="none"/>
<rect x="163.2" y="420.2" width="55.7" height="55.7" fill="none" stroke="#808080" stroke-width="0.8"/>
<line x1="191.8" y1="420.2" x2="191.8" y2="475.9" stroke="#404040" stroke-width="0.75"/>
<line x1="163.2" y1="448.2" x2="218.9" y2="448.2" stroke="#404040" stroke-width="0.75"/>
<text x="165.8" y="424.7" font-size="8.44" text-anchor="start" fill="#000" stroke="#000" stroke-width="0.12" dominant-baseline="central" transform="translate(165.8 424.7) scale(0.88 1) translate(-165.8 -424.7)">29.7</text>
<text x="162.2" y="425.9" font-size="7.41" text-anchor="end" fill="#000" stroke="#000" stroke-width="0.12" dominant-baseline="central" transform="translate(162.2 425.9) scale(0.88 1) translate(-162.2 -425.9)">10<tspan font-size="4.23" baseline-shift="2.47">5</tspan></text>
<line x1="162" y1="425.9" x2="163.2" y2="425.9" stroke="#444" stroke-width="0.6"/>
<text x="162.2" y="435.5" font-size="7.41" text-anchor="end" fill="#000" stroke="#000" stroke-width="0.12" dominant-baseline="central" transform="translate(162.2 435.5) scale(0.88 1) translate(-162.2 -435.5)">10<tspan font-size="4.23" baseline-shift="2.47">4</tspan></text>
<line x1="162" y1="435.5" x2="163.2" y2="435.5" stroke="#444" stroke-width="0.6"/>
<text x="162.2" y="446.4" font-size="7.41" text-anchor="end" fill="#000" stroke="#000" stroke-width="0.12" dominant-baseline="central" transform="translate(162.2 446.4) scale(0.88 1) translate(-162.2 -446.4)">10<tspan font-size="4.23" baseline-shift="2.47">3</tspan></text>
<line x1="162" y1="446.4" x2="163.2" y2="446.4" stroke="#444" stroke-width="0.6"/>
<text x="162.2" y="460.8" font-size="7.41" text-anchor="end" fill="#000" stroke="#000" stroke-width="0.12" dominant-baseline="central" transform="translate(162.2 460.8) scale(0.88 1) translate(-162.2 -460.8)">0</text>
<line x1="162" y1="460.8" x2="163.2" y2="460.8" stroke="#444" stroke-width="0.6"/>
<text x="162.2" y="471.6" font-size="7.41" text-anchor="end" fill="#000" stroke="#000" stroke-width="0.12" dominant-baseline="central" transform="translate(162.2 471.6) scale(0.88 1) translate(-162.2 -471.6)">-10<tspan font-size="4.23" baseline-shift="2.47">3</tspan></text>
<line x1="162" y1="471.6" x2="163.2" y2="471.6" stroke="#444" stroke-width="0.6"/>
<text x="179.7" y="481.5" font-size="7.41" text-anchor="middle" fill="#000" stroke="#000" stroke-width="0.12" dominant-baseline="central" transform="translate(179.7 481.5) scale(0.88 1) translate(-179.7 -481.5)">0</text>
<line x1="179.7" y1="475.9" x2="179.7" y2="477.4" stroke="#444" stroke-width="0.6"/>
<text x="202.8" y="481.5" font-size="7.41" text-anchor="middle" fill="#000" stroke="#000" stroke-width="0.12" dominant-baseline="central" transform="translate(202.8 481.5) scale(0.88 1) translate(-202.8 -481.5)">10<tspan font-size="4.23" baseline-shift="2.47">4</tspan></text>
<line x1="202.8" y1="475.9" x2="202.8" y2="477.4" stroke="#444" stroke-width="0.6"/>
<text x="216.7" y="481.5" font-size="7.41" text-anchor="middle" fill="#000" stroke="#000" stroke-width="0.12" dominant-baseline="central" transform="translate(216.7 481.5) scale(0.88 1) translate(-216.7 -481.5)">10<tspan font-size="4.23" baseline-shift="2.47">5</tspan></text>
<line x1="216.7" y1="475.9" x2="216.7" y2="477.4" stroke="#444" stroke-width="0.6"/>
<line x1="171.2" y1="475.9" x2="171.2" y2="476.9" stroke="#666" stroke-width="0.5"/>
<line x1="175.2" y1="475.9" x2="175.2" y2="476.9" stroke="#666" stroke-width="0.5"/>
<line x1="184.2" y1="475.9" x2="184.2" y2="476.9" stroke="#666" stroke-width="0.5"/>
<line x1="188.2" y1="475.9" x2="188.2" y2="476.9" stroke="#666" stroke-width="0.5"/>
<line x1="196.2" y1="475.9" x2="196.2" y2="476.9" stroke="#666" stroke-width="0.5"/>
<line x1="208.2" y1="475.9" x2="208.2" y2="476.9" stroke="#666" stroke-width="0.5"/>
<line x1="211.2" y1="475.9" x2="211.2" y2="476.9" stroke="#666" stroke-width="0.5"/>
<text x="264.2" y="412.5" font-size="9.35" text-anchor="middle" fill="#000" stroke="#000" stroke-width="0.12" dominant-baseline="central" transform="translate(264.2 412.5) scale(0.88 1) translate(-264.2 -412.5)">G4</text>
<ellipse cx="254.7" cy="433.6" rx="3.84" ry="5.76" fill="url(#fc)" opacity="0.6"/>
<ellipse cx="272.8" cy="461.3" rx="6.72" ry="5.12" fill="url(#fc)" opacity="0.9"/>
<path d="M257.46 431.5h.7M255.51 433.5h.7M251.79 429.81h.7M254.19 435h.7M255.44 435.26h.7M254.81 432.05h.7M255.69 430.12h.7M251.6 432.45h.7M251.39 431.82h.7M252.97 431.68h.7M254.6 430.82h.7M253.72 427.67h.7M255.04 430.54h.7M255.64 423.79h.7M252.85 434.44h.7M249.05 432.35h.7M254.92 433.96h.7M251.24 434.4h.7M255.04 430.22h.7M256.42 433.43h.7M254.74 432.04h.7M255.97 433.94h.7M257.33 435.17h.7M253.27 432.82h.7M256.83 432.33h.7M255.59 435.41h.7M254.28 425.5h.7M255.01 434.34h.7M255.01 430.96h.7M257.5 433.13h.7M253.25 431.1h.7M255.53 429.8h.7M252.38 440.56h.7M257.74 437.27h.7M257.87 435.67h.7M250.79 437.76h.7M257.58 435.31h.7M250.16 437.93h.7M257.87 431.89h.7M255 436.31h.7M254.5 437.43h.7M254.89 436.01h.7M254.9 428.44h.7M252.39 444.64h.7M255.35 438.17h.7M257.35 439.58h.7M255.99 431.52h.7M254.74 426.9h.7M254.26 436.76h.7M249.67 434.29h.7M256.62 438.24h.7M252.54 431.32h.7M250.33 430.04h.7M255.94 440.83h.7M252.03 438.42h.7M255.7 431.87h.7M259.81 424.79h.7M254.54 434.37h.7M259.66 439.88h.7M259.98 434.07h.7M256.99 438.37h.7M255.89 434.86h.7M254.27 432.17h.7M251.83 440.42h.7M253.66 426.32h.7M255.32 433.48h.7M255.11 439.95h.7M254.45 432.67h.7M252.96 433.52h.7M253.68 434.32h.7M261.99 434.98h.7M252.7 440.36h.7M256.72 436.46h.7M256.37 436.47h.7M256.28 438.54h.7M257.05 438.32h.7M253.53 433.59h.7M253 436.95h.7M256.64 431.97h.7M256.07 442.8h.7M257.59 429.69h.7M254.48 435.83h.7M254.62 434.95h.7M257.46 434.75h.7M252.14 436.11h.7M254.47 434h.7M253.38 428.75h.7M251.79 432.36h.7M252.2 424.08h.7M257.38 429.53h.7M253.01 435.46h.7M249.07 438.31h.7M252.9 435.91h.7M253.57 434.67h.7M254.95 433.6h.7M250.43 428.45h.7M254.6 438.54h.7M253.42 435.47h.7M255.08 435.3h.7M257.02 428.34h.7M255.34 432.98h.7M253.97 430.61h.7M252.86 429.99h.7M252.13 442.4h.7M258.67 433.63h.7M256.44 430.18h.7M248.19 427.21h.7M255.03 438.65h.7M254.6 430.09h.7M254.13 430.1h.7M251.44 432.79h.7M253.77 430.75h.7M252.63 430.34h.7M255.25 438.49h.7M254.21 441.44h.7M250.92 434.56h.7M252 433.03h.7M254.94 435.56h.7M257.34 431.65h.7M251.79 432.94h.7M274.99 462.83h.7M279.65 464.05h.7M274.25 462.12h.7M272.91 457.18h.7M278.77 462.94h.7M271.63 457.73h.7M278.86 462.95h.7M267.96 463.39h.7M280.54 461.23h.7M274.43 460.01h.7M270.23 464.64h.7M285.36 461.66h.7M272.29 463.77h.7M271.56 463.57h.7M276.18 458.14h.7M268.43 461.07h.7M276.2 462.16h.7M277.86 457.02h.7M274.81 459.37h.7M273.21 462.3h.7M268.84 460.59h.7M268.06 462.13h.7M269.33 459.77h.7M273.69 459.27h.7M277.48 459.32h.7M276.26 462.18h.7M268.59 460.62h.7M269.39 460.18h.7M271.7 466.94h.7M271.09 466.17h.7M274.62 457.25h.7M263.38 463.4h.7M264.7 463.53h.7M276.99 462.51h.7M271.95 460.52h.7M273.85 460.36h.7M270.62 460.15h.7M277.56 459.38h.7M274.34 457.73h.7M269.9 457.04h.7M272 463.42h.7M274.04 459.77h.7M275.29 460.22h.7M274.31 462.15h.7M275 453.63h.7M267.5 463.7h.7M272.36 468.25h.7M271.85 459.59h.7M278.87 463.02h.7M280.51 462.88h.7M271.97 463.54h.7M269.6 459.92h.7M270.54 460.61h.7M275.96 459.81h.7M274.11 459.76h.7M276.39 452.77h.7M271.96 461.82h.7M268.42 464.44h.7M273.68 465.26h.7M276.71 463.28h.7M272.19 457.94h.7M271.91 459.88h.7M273.81 459.86h.7M285.2 456.36h.7M277.57 459.85h.7M271.82 464.16h.7M272.81 457.55h.7M274.48 460.7h.7M264.45 461.91h.7M268.52 459h.7M274.76 462.23h.7M271.62 468.01h.7M274.5 459.4h.7M273.76 460.93h.7M263.86 456.43h.7M267.16 467.68h.7M272.05 460.45h.7M270.51 464.33h.7M272.91 466.57h.7M276 466.38h.7M272.32 462.46h.7M271.05 460.78h.7M265.79 459.51h.7M268.95 459.29h.7M277.73 462.11h.7M277.76 463.95h.7M276.53 464.4h.7M270.35 463.78h.7M271.5 459.66h.7M277.64 467.98h.7M268.84 466.66h.7M276.16 458.69h.7M273.91 462.45h.7M274.32 460.2h.7M267.6 461.4h.7M276.29 463.72h.7M275.47 464.7h.7M268.79 461.17h.7M274.18 464.38h.7M273.43 462.9h.7M273.34 467.77h.7M263.96 461.22h.7M282.82 462.03h.7M265.39 461.71h.7M267 459.21h.7M273.71 466.58h.7M274.67 463.36h.7M276.92 461.92h.7M269.33 461h.7M274.16 460.45h.7M270.1 460.19h.7M266.73 458.14h.7M272.43 460.19h.7M272.95 465.63h.7M274.01 461.2h.7M268.05 457.98h.7M274.32 458.61h.7M274.54 457.99h.7M273.34 461.08h.7M276.83 460.09h.7M271.3 462.06h.7M273.02 466.5h.7M271.76 459.65h.7M271.51 462.76h.7M273.75 463.44h.7M267.21 468.93h.7M280.24 461.2h.7M267.91 461.78h.7M274.48 454.43h.7M272.85 456.75h.7M274.65 465.55h.7M276.98 456.66h.7M278.38 464.09h.7M271.34 462.85h.7M278.93 460.28h.7M272.74 459.58h.7M277.47 454.67h.7M278.54 458.32h.7M276.54 456.3h.7M269.01 459.46h.7M276.15 456.31h.7M275.24 459.34h.7M277.82 460.34h.7M274.77 460.77h.7M280.05 460.19h.7M272.7 467.41h.7M273.11 463.41h.7M269.82 461.91h.7M263.63 461.62h.7M270.19 456.67h.7M267.08 464.82h.7M274.52 456.63h.7M280.13 459.16h.7M271.31 462.06h.7M268.2 456.32h.7M269.79 464.94h.7M276.65 456.44h.7M277.67 461.4h.7M274.82 461.46h.7M274.47 458.22h.7M269.13 459.14h.7M271.31 463.21h.7M267.89 466.21h.7M270.24 459.49h.7M275.64 462.64h.7M271.43 458h.7M268.76 456.38h.7M277.42 464.64h.7M280.35 462.84h.7M274.14 463.63h.7M276.64 460.5h.7M274.22 467.93h.7M265.95 456.97h.7M268.91 463.62h.7M277.6 460.26h.7M275.52 461.15h.7M274.01 459.64h.7M272.69 461.29h.7M277.37 468.17h.7M265.46 462.94h.7M272.78 464.28h.7M277.09 463.7h.7M276.07 458.37h.7M265.9 466.44h.7M277.69 458.37h.7M278.02 463.35h.7M262.88 464.07h.7M268.81 464.89h.7M270.04 459.01h.7M266.55 460.63h.7M276.92 459.23h.7M265.28 467.91h.7M280.27 463.43h.7M270.63 457.57h.7M266.17 463.02h.7M278.06 458.03h.7M272.8 460.44h.7M271.76 462.85h.7M281.27 459.34h.7M276.24 464.66h.7M271.65 460.84h.7M267.37 464.63h.7M270.65 459.28h.7M273.07 458.65h.7M268.58 460.38h.7M278.82 460.67h.7M274.93 456.78h.7M264.91 466.91h.7M271.19 456.55h.7M272.37 463.17h.7M265.81 458.58h.7M273.85 458.45h.7M276.03 464.27h.7M274.59 459.97h.7M272.61 459.35h.7M272.27 462.28h.7M271.58 464.3h.7M283.32 459.61h.7M274.19 463.84h.7M275.41 460.57h.7M270.86 464.4h.7M275.33 462.86h.7M269.54 463.25h.7M276.02 460.73h.7M275.42 468.01h.7M265.19 463.18h.7M268.05 457.08h.7M271.85 462.99h.7M273.01 457.7h.7M266.96 459.58h.7" stroke="#4a52d8" stroke-width="0.6" stroke-opacity="0.75" fill="none"/>
<path d="M257.96 458.71h.7M260.53 467.54h.7M250.6 462.64h.7M261.06 454.18h.7M257.58 460.47h.7M250.6 466.17h.7M257.63 459.53h.7M258.6 463.68h.7M260 463.45h.7M258.45 456.94h.7M254.89 461.78h.7M244.83 469.19h.7M255.07 457.39h.7M248.9 462.22h.7M256.84 459.14h.7M254.91 458.01h.7M253.49 460.94h.7M253.94 463.81h.7M256.09 461.79h.7M258.44 466.01h.7M259.28 462.15h.7M256 458.32h.7M255.23 463.83h.7M257.67 459.86h.7M250.99 455.62h.7M258.08 465.1h.7M258.3 456.21h.7M255.79 462.12h.7M252.76 462.58h.7M255.84 458.21h.7M251.38 464.3h.7M258.23 458.01h.7M252.35 464.6h.7M259.26 460.17h.7M263.53 460.23h.7M252.17 465.34h.7M255.89 462.58h.7M256.86 457.59h.7M251.61 460.58h.7M262.72 457.59h.7M262.52 462.12h.7M251.93 462.29h.7M259.13 457.97h.7M247.58 462.62h.7M251.95 462.93h.7M248.51 460.78h.7M253.23 455.82h.7M255.67 461.93h.7M254.31 456.93h.7M257.61 454.83h.7M282.79 428.81h.6M273.78 444.22h.6M277.63 429.12h.6M279.96 428.43h.6M283.22 423.19h.6M284.5 435.8h.6M273.57 444.76h.6M271.53 428.04h.6M267.01 435.37h.6M282.81 438.47h.6M274.93 441.59h.6M267.97 429.57h.6M280.29 445.42h.6M280.04 438.81h.6M283.29 431.67h.6M287.12 440.02h.6" stroke="#6a72e0" stroke-width="0.55" stroke-opacity="0.6" fill="none"/>
<rect x="234.8" y="420.2" width="55.7" height="55.7" fill="none" stroke="#808080" stroke-width="0.8"/>
<line x1="263.4" y1="420.2" x2="263.4" y2="475.9" stroke="#404040" stroke-width="0.75"/>
<line x1="234.8" y1="448.2" x2="290.5" y2="448.2" stroke="#404040" stroke-width="0.75"/>
<text x="237.4" y="424.7" font-size="8.44" text-anchor="start" fill="#000" stroke="#000" stroke-width="0.12" dominant-baseline="central" transform="translate(237.4 424.7) scale(0.88 1) translate(-237.4 -424.7)">34.9</text>
<text x="233.8" y="425.9" font-size="7.41" text-anchor="end" fill="#000" stroke="#000" stroke-width="0.12" dominant-baseline="central" transform="translate(233.8 425.9) scale(0.88 1) translate(-233.8 -425.9)">10<tspan font-size="4.23" baseline-shift="2.47">5</tspan></text>
<line x1="233.6" y1="425.9" x2="234.8" y2="425.9" stroke="#444" stroke-width="0.6"/>
<text x="233.8" y="435.5" font-size="7.41" text-anchor="end" fill="#000" stroke="#000" stroke-width="0.12" dominant-baseline="central" transform="translate(233.8 435.5) scale(0.88 1) translate(-233.8 -435.5)">10<tspan font-size="4.23" baseline-shift="2.47">4</tspan></text>
<line x1="233.6" y1="435.5" x2="234.8" y2="435.5" stroke="#444" stroke-width="0.6"/>
<text x="233.8" y="446.4" font-size="7.41" text-anchor="end" fill="#000" stroke="#000" stroke-width="0.12" dominant-baseline="central" transform="translate(233.8 446.4) scale(0.88 1) translate(-233.8 -446.4)">10<tspan font-size="4.23" baseline-shift="2.47">3</tspan></text>
<line x1="233.6" y1="446.4" x2="234.8" y2="446.4" stroke="#444" stroke-width="0.6"/>
<text x="233.8" y="460.8" font-size="7.41" text-anchor="end" fill="#000" stroke="#000" stroke-width="0.12" dominant-baseline="central" transform="translate(233.8 460.8) scale(0.88 1) translate(-233.8 -460.8)">0</text>
<line x1="233.6" y1="460.8" x2="234.8" y2="460.8" stroke="#444" stroke-width="0.6"/>
<text x="233.8" y="471.6" font-size="7.41" text-anchor="end" fill="#000" stroke="#000" stroke-width="0.12" dominant-baseline="central" transform="translate(233.8 471.6) scale(0.88 1) translate(-233.8 -471.6)">-10<tspan font-size="4.23" baseline-shift="2.47">3</tspan></text>
<line x1="233.6" y1="471.6" x2="234.8" y2="471.6" stroke="#444" stroke-width="0.6"/>
<text x="251.3" y="481.5" font-size="7.41" text-anchor="middle" fill="#000" stroke="#000" stroke-width="0.12" dominant-baseline="central" transform="translate(251.3 481.5) scale(0.88 1) translate(-251.3 -481.5)">0</text>
<line x1="251.3" y1="475.9" x2="251.3" y2="477.4" stroke="#444" stroke-width="0.6"/>
<text x="274.4" y="481.5" font-size="7.41" text-anchor="middle" fill="#000" stroke="#000" stroke-width="0.12" dominant-baseline="central" transform="translate(274.4 481.5) scale(0.88 1) translate(-274.4 -481.5)">10<tspan font-size="4.23" baseline-shift="2.47">4</tspan></text>
<line x1="274.4" y1="475.9" x2="274.4" y2="477.4" stroke="#444" stroke-width="0.6"/>
<text x="288.3" y="481.5" font-size="7.41" text-anchor="middle" fill="#000" stroke="#000" stroke-width="0.12" dominant-baseline="central" transform="translate(288.3 481.5) scale(0.88 1) translate(-288.3 -481.5)">10<tspan font-size="4.23" baseline-shift="2.47">5</tspan></text>
<line x1="288.3" y1="475.9" x2="288.3" y2="477.4" stroke="#444" stroke-width="0.6"/>
<line x1="242.8" y1="475.9" x2="242.8" y2="476.9" stroke="#666" stroke-width="0.5"/>
<line x1="246.8" y1="475.9" x2="246.8" y2="476.9" stroke="#666" stroke-width="0.5"/>
<line x1="255.8" y1="475.9" x2="255.8" y2="476.9" stroke="#666" stroke-width="0.5"/>
<line x1="259.8" y1="475.9" x2="259.8" y2="476.9" stroke="#666" stroke-width="0.5"/>
<line x1="267.8" y1="475.9" x2="267.8" y2="476.9" stroke="#666" stroke-width="0.5"/>
<line x1="279.8" y1="475.9" x2="279.8" y2="476.9" stroke="#666" stroke-width="0.5"/>
<line x1="282.8" y1="475.9" x2="282.8" y2="476.9" stroke="#666" stroke-width="0.5"/>
<text x="337" y="412.5" font-size="9.35" text-anchor="middle" fill="#000" stroke="#000" stroke-width="0.12" dominant-baseline="central" transform="translate(337 412.5) scale(0.88 1) translate(-337 -412.5)">G5</text>
<ellipse cx="328.1" cy="434.2" rx="5.44" ry="5.44" fill="url(#fc)" opacity="0.7"/>
<ellipse cx="342.7" cy="461.9" rx="6.08" ry="5.12" fill="url(#fc)" opacity="0.9"/>
<path d="M326.25 437.05h.7M329.18 431.24h.7M330.81 440.54h.7M324.06 433.38h.7M324.55 427.8h.7M330.17 436.5h.7M331.31 435.61h.7M321.46 434.11h.7M325.9 430.32h.7M324.45 436.73h.7M327.12 440.69h.7M329.65 427.9h.7M331.05 438.33h.7M328.2 430.19h.7M333.94 429.86h.7M327.82 427.9h.7M323.95 428.58h.7M331.7 438.1h.7M326.76 429.72h.7M327.9 435.45h.7M323.05 430.37h.7M327.76 436.53h.7M328.35 435.69h.7M323.96 425.95h.7M329.13 431.16h.7M327.69 432.95h.7M329.69 431.64h.7M332.89 434.3h.7M329.85 436.29h.7M331.54 435.54h.7M322.29 432.11h.7M334.28 435.77h.7M329.96 435.75h.7M325.97 431.95h.7M325.95 438.05h.7M329.31 440.12h.7M329.76 440.49h.7M329.62 430.26h.7M333.89 435.32h.7M332.07 434.91h.7M327.01 434.76h.7M324.36 430.22h.7M325.14 432.45h.7M323.58 433.86h.7M329.12 440.96h.7M334.24 434.03h.7M331.05 433.47h.7M329.4 434.09h.7M326.3 434.45h.7M323.16 435.67h.7M327.13 430.58h.7M326.9 436.05h.7M325.83 435.79h.7M330.01 439.41h.7M324.47 433.83h.7M329.81 439.22h.7M328.98 436.72h.7M323.19 432.25h.7M333.66 433.25h.7M335.34 431.76h.7M327.17 428.86h.7M330.23 435.09h.7M334.86 434.75h.7M327.26 429.48h.7M327.82 437.37h.7M330.58 438.32h.7M331 434.04h.7M330.13 434.78h.7M323.63 439.95h.7M329.36 430.67h.7M329.39 435.17h.7M331.45 439.05h.7M317.88 436.06h.7M333.24 431.01h.7M321.85 435.14h.7M329.23 435.38h.7M324.37 432.63h.7M328.76 436.71h.7M335.48 435.19h.7M326.07 426.26h.7M331.72 433.76h.7M327.73 430.87h.7M330.57 428.16h.7M328.46 434.61h.7M329.11 438.6h.7M327.77 434.52h.7M330.99 428.97h.7M327.12 434.43h.7M331.32 431.5h.7M330.81 435.5h.7M323.08 429.21h.7M323.27 434.67h.7M328.8 436.64h.7M330.87 432.34h.7M331.71 436.97h.7M329.69 435.82h.7M323.76 435.42h.7M324.61 430.17h.7M326.92 434.67h.7M327.92 433.08h.7M324.72 434.83h.7M325.6 429.44h.7M328.42 439.11h.7M326.73 430.61h.7M332.78 439.99h.7M327.11 433.49h.7M328.82 444.18h.7M328.55 437.56h.7M329.6 428.04h.7M324.37 430.03h.7M329.57 434.56h.7M334.16 433.29h.7M329.14 434.45h.7M328.57 442.04h.7M329.06 439.18h.7M332.49 432.14h.7M330.42 432.91h.7M328.47 434.74h.7M328.17 432.61h.7M333.37 433.3h.7M330.48 439.89h.7M330.22 437.68h.7M332.81 437.89h.7M333.93 429.36h.7M334.74 434.29h.7M322.17 432.03h.7M323.37 434.13h.7M323.05 430.79h.7M329.1 434.73h.7M325.39 433.41h.7M327.76 434.45h.7M328.08 433.45h.7M331.08 428.75h.7M326.42 434.65h.7M326.74 432.33h.7M326.62 434.91h.7M332.33 433.57h.7M327.19 435.41h.7M327.28 427.63h.7M329.01 432.92h.7M326.16 436.33h.7M328.25 432.28h.7M320.7 428.36h.7M328.15 433.8h.7M329.59 434.96h.7M326.47 429.9h.7M324.38 433.73h.7M324.2 436.77h.7M323.59 428.11h.7M327.44 428.17h.7M333.63 430.83h.7M327.92 433.37h.7M325.31 428.19h.7M321.77 437.14h.7M331.57 441.55h.7M323.13 436.11h.7M328.05 437.07h.7M326.35 436.65h.7M331.15 436.26h.7M333.02 433.61h.7M333.35 431.82h.7M333.77 424.86h.7M328.15 431.48h.7M328.11 437.71h.7M330.54 434.52h.7M333.89 429.18h.7M325.33 439.33h.7M329.22 427.15h.7M329.26 430.17h.7M333.12 438.09h.7M347.05 460.55h.7M342.85 463.85h.7M344.43 460.24h.7M345.29 463.15h.7M346.45 460.27h.7M342.53 460.65h.7M339.52 462.71h.7M344.25 466.43h.7M341.47 463.14h.7M347.03 461.54h.7M342.94 462.33h.7M340.08 458.75h.7M346.93 462.45h.7M342.42 457.94h.7M343.15 465.64h.7M338.34 459.06h.7M346.9 466.46h.7M348.58 460.14h.7M344.97 459.51h.7M344.67 460.74h.7M343.44 466.17h.7M343.98 461.13h.7M342.91 462.75h.7M340.76 462.56h.7M344.97 466.87h.7M334.91 458.11h.7M338.02 464.69h.7M351.92 462.52h.7M343.16 465.52h.7M333.48 461.33h.7M330.93 462.39h.7M340.78 460.36h.7M343.98 460.04h.7M346.9 461.89h.7M344.14 469.97h.7M341.01 464.84h.7M339.58 465.86h.7M346.34 462.35h.7M346.44 467.01h.7M347.9 461.9h.7M342.49 465.42h.7M337.15 459.99h.7M344.53 463.71h.7M349.71 467.48h.7M343.92 463.3h.7M337.73 461.31h.7M343.68 461.18h.7M342.93 463.83h.7M339.12 460.1h.7M336.01 465.53h.7M338.73 456.5h.7M345.6 461.22h.7M346.33 460.73h.7M350.69 464.16h.7M343.27 462.27h.7M341.93 464.46h.7M350.22 460.56h.7M338.61 463.79h.7M346.71 457.18h.7M340.1 458.75h.7M344.81 463.5h.7M339.94 458.34h.7M345.26 455.4h.7M345.12 461.41h.7M349.9 465.04h.7M340.53 461.03h.7M341.66 459.6h.7M343.01 464.95h.7M337.05 461.18h.7M348.3 464.24h.7M339.65 459.36h.7M339.5 456.84h.7M347.01 462.12h.7M340.09 457.38h.7M341.26 460.29h.7M349.14 460.45h.7M343.13 465.28h.7M345.2 461.33h.7M334.54 466.32h.7M344.94 460.53h.7M342.37 458.89h.7M339.34 457.23h.7M344.58 463.53h.7M343.35 464.36h.7M344.7 462.28h.7M339.4 463.76h.7M347.13 463.89h.7M347.36 460.41h.7M339.04 465.83h.7M340.52 462.66h.7M341.99 461.97h.7M341.69 460.21h.7M336.05 467.89h.7M343.46 455.85h.7M339.32 458.36h.7M339.93 453.9h.7M344.84 467.05h.7M341.78 464.24h.7M344.94 457.99h.7M347.24 456.61h.7M340.56 460.77h.7M347.38 462.27h.7M342.24 459.38h.7M343.04 462.03h.7M345.42 466.27h.7M345.45 461.96h.7M342.13 466.92h.7M343.45 461.85h.7M349.39 466.82h.7M344.82 461.56h.7M340.34 465.24h.7M341.01 464.91h.7M339.79 462.23h.7M344.2 462.35h.7M343.57 463.09h.7M338.53 458.43h.7M342.15 467.55h.7M342.24 459h.7M340.25 462.01h.7M347.09 460.13h.7M344.78 462.49h.7M341.38 458.95h.7M342.14 459.64h.7M344.7 456.39h.7M346.89 464.27h.7M344.85 466.58h.7M344.94 456.56h.7M342.9 463.31h.7M340.16 458.37h.7M344.31 463.5h.7M341.12 461.14h.7M340.82 460.13h.7M342.49 465.25h.7M336.73 460.84h.7M348.69 462.89h.7M343.27 464.51h.7M338.98 458.12h.7M336.55 457.35h.7M343.62 464.55h.7M341.16 459.78h.7M344.2 463.81h.7M343.65 455.96h.7M340.68 454h.7M343.6 459.25h.7M340.27 466.59h.7M347.59 463.4h.7M343.72 462.44h.7M340.53 461.74h.7M349.78 459.17h.7M340.25 462.41h.7M346 464.5h.7M339.12 461.49h.7M341.72 458.06h.7M342.99 460.4h.7M346.1 463.25h.7M339.82 462.15h.7M341.38 459.92h.7M340.9 465.21h.7M341.17 456.56h.7M339.84 464.41h.7M350.66 458.62h.7M341.39 460.88h.7M337.5 463.15h.7M342.51 462.77h.7M350.97 461.07h.7M345.63 464.5h.7M340.35 460.06h.7M348.46 464.13h.7M343.23 458.5h.7M345.96 463.54h.7M350.82 466.49h.7M345.67 462.73h.7M342.93 460.19h.7M343.84 462.66h.7M345.11 465.28h.7M343.85 460.21h.7M345.68 466.73h.7M339.62 463.21h.7M344.73 463.57h.7M344.57 461.62h.7M342.32 467.15h.7M349.1 457.54h.7M333.33 463.26h.7M340.21 460.29h.7M336.81 463h.7M342.5 460.22h.7M346.02 469.46h.7M348.15 465.55h.7M341.18 463.95h.7M342.56 465.5h.7M344.85 461.79h.7M344.74 459.67h.7M345.63 466.58h.7M341.37 463.63h.7M336.55 464.81h.7M345.94 458.73h.7M349.14 462.26h.7M336.31 457.64h.7M345.93 461.05h.7M346.78 457.08h.7M342.34 464.94h.7M340.2 464.02h.7M341.38 462.97h.7M343.89 468.84h.7M338.13 464.32h.7M347.55 458.41h.7M343 469.08h.7M346.58 452.68h.7M341.82 456.59h.7M343.82 459.64h.7M340.63 459.3h.7M343.79 460.45h.7M339.36 461.19h.7M344.2 459.24h.7M346.8 456.74h.7M344.21 460.69h.7M348.51 459.9h.7M340.25 457.73h.7M350.03 463.82h.7M338.7 460.86h.7" stroke="#4a52d8" stroke-width="0.6" stroke-opacity="0.75" fill="none"/>
<path d="M324.19 466.56h.7M322.93 465.21h.7M329.15 461.44h.7M320.34 460.89h.7M316.53 459.87h.7M318.46 466.28h.7M322.35 453.14h.7M329.17 463.23h.7M324.37 469.52h.7M330 462.14h.7M323.76 451.26h.7M328.71 465.36h.7M324 456.81h.7M326.42 455.88h.7M326.63 464.68h.7M333.24 462.85h.7M327.46 464.6h.7M332.76 460.75h.7M321.2 459.05h.7M321.06 458.7h.7M326.07 463.13h.7M327.29 462.15h.7M325.03 463.42h.7M330.5 464.64h.7M333.19 460.86h.7M325.49 468h.7M327.48 463.39h.7M325.12 465.39h.7M324.83 458.27h.7M326.33 460.31h.7M330.27 460.54h.7M327.14 461.12h.7M328.1 459.63h.7M331.46 456.77h.7M324.9 459.35h.7M329.45 462.04h.7M328.73 460.71h.7M323.44 457.87h.7M325.13 459.97h.7M327.83 463.18h.7M330.9 461.52h.7M323.31 458.08h.7M326.87 463.2h.7M335.17 462.55h.7M334.33 468.64h.7M321.99 466.26h.7M331.6 466.74h.7M326.56 465.34h.7M324.48 461.65h.7M326.68 468.32h.7M325.65 465.34h.7M326.89 459.35h.7M327.67 464.28h.7M323.47 464.18h.7M323.47 458.74h.7M327.57 461.05h.7M322.28 456.03h.7M326.7 462.78h.7M324.58 462.57h.7M319.88 463.31h.7M328.43 462.9h.7M323.9 462.19h.7M327.17 465.75h.7M327.81 462.81h.7M323.42 465h.7M331.76 460.12h.7M329.41 463.01h.7M326.39 457.27h.7M334.33 455.18h.7M327.93 460.55h.7M346.04 440.99h.6M356.27 443.08h.6M343.15 430.37h.6M343.96 424.61h.6M345.76 422.82h.6M356.6 427.65h.6M339.83 423.82h.6M355.32 426.96h.6M348.87 431.84h.6M356.74 445.1h.6M345.36 437.38h.6M358.87 433.49h.6M358.98 439.81h.6M345.4 443.17h.6M351.44 424.74h.6M351.77 442.1h.6" stroke="#6a72e0" stroke-width="0.55" stroke-opacity="0.6" fill="none"/>
<rect x="307.6" y="420.2" width="55.7" height="55.7" fill="none" stroke="#808080" stroke-width="0.8"/>
<line x1="336.2" y1="420.2" x2="336.2" y2="475.9" stroke="#404040" stroke-width="0.75"/>
<line x1="307.6" y1="448.2" x2="363.3" y2="448.2" stroke="#404040" stroke-width="0.75"/>
<text x="310.2" y="424.7" font-size="8.44" text-anchor="start" fill="#000" stroke="#000" stroke-width="0.12" dominant-baseline="central" transform="translate(310.2 424.7) scale(0.88 1) translate(-310.2 -424.7)">39.3</text>
<text x="306.6" y="425.9" font-size="7.41" text-anchor="end" fill="#000" stroke="#000" stroke-width="0.12" dominant-baseline="central" transform="translate(306.6 425.9) scale(0.88 1) translate(-306.6 -425.9)">10<tspan font-size="4.23" baseline-shift="2.47">5</tspan></text>
<line x1="306.4" y1="425.9" x2="307.6" y2="425.9" stroke="#444" stroke-width="0.6"/>
<text x="306.6" y="435.5" font-size="7.41" text-anchor="end" fill="#000" stroke="#000" stroke-width="0.12" dominant-baseline="central" transform="translate(306.6 435.5) scale(0.88 1) translate(-306.6 -435.5)">10<tspan font-size="4.23" baseline-shift="2.47">4</tspan></text>
<line x1="306.4" y1="435.5" x2="307.6" y2="435.5" stroke="#444" stroke-width="0.6"/>
<text x="306.6" y="446.4" font-size="7.41" text-anchor="end" fill="#000" stroke="#000" stroke-width="0.12" dominant-baseline="central" transform="translate(306.6 446.4) scale(0.88 1) translate(-306.6 -446.4)">10<tspan font-size="4.23" baseline-shift="2.47">3</tspan></text>
<line x1="306.4" y1="446.4" x2="307.6" y2="446.4" stroke="#444" stroke-width="0.6"/>
<text x="306.6" y="460.8" font-size="7.41" text-anchor="end" fill="#000" stroke="#000" stroke-width="0.12" dominant-baseline="central" transform="translate(306.6 460.8) scale(0.88 1) translate(-306.6 -460.8)">0</text>
<line x1="306.4" y1="460.8" x2="307.6" y2="460.8" stroke="#444" stroke-width="0.6"/>
<text x="306.6" y="471.6" font-size="7.41" text-anchor="end" fill="#000" stroke="#000" stroke-width="0.12" dominant-baseline="central" transform="translate(306.6 471.6) scale(0.88 1) translate(-306.6 -471.6)">-10<tspan font-size="4.23" baseline-shift="2.47">3</tspan></text>
<line x1="306.4" y1="471.6" x2="307.6" y2="471.6" stroke="#444" stroke-width="0.6"/>
<text x="324.1" y="481.5" font-size="7.41" text-anchor="middle" fill="#000" stroke="#000" stroke-width="0.12" dominant-baseline="central" transform="translate(324.1 481.5) scale(0.88 1) translate(-324.1 -481.5)">0</text>
<line x1="324.1" y1="475.9" x2="324.1" y2="477.4" stroke="#444" stroke-width="0.6"/>
<text x="347.2" y="481.5" font-size="7.41" text-anchor="middle" fill="#000" stroke="#000" stroke-width="0.12" dominant-baseline="central" transform="translate(347.2 481.5) scale(0.88 1) translate(-347.2 -481.5)">10<tspan font-size="4.23" baseline-shift="2.47">4</tspan></text>
<line x1="347.2" y1="475.9" x2="347.2" y2="477.4" stroke="#444" stroke-width="0.6"/>
<text x="361.1" y="481.5" font-size="7.41" text-anchor="middle" fill="#000" stroke="#000" stroke-width="0.12" dominant-baseline="central" transform="translate(361.1 481.5) scale(0.88 1) translate(-361.1 -481.5)">10<tspan font-size="4.23" baseline-shift="2.47">5</tspan></text>
<line x1="361.1" y1="475.9" x2="361.1" y2="477.4" stroke="#444" stroke-width="0.6"/>
<line x1="315.6" y1="475.9" x2="315.6" y2="476.9" stroke="#666" stroke-width="0.5"/>
<line x1="319.6" y1="475.9" x2="319.6" y2="476.9" stroke="#666" stroke-width="0.5"/>
<line x1="328.6" y1="475.9" x2="328.6" y2="476.9" stroke="#666" stroke-width="0.5"/>
<line x1="332.6" y1="475.9" x2="332.6" y2="476.9" stroke="#666" stroke-width="0.5"/>
<line x1="340.6" y1="475.9" x2="340.6" y2="476.9" stroke="#666" stroke-width="0.5"/>
<line x1="352.6" y1="475.9" x2="352.6" y2="476.9" stroke="#666" stroke-width="0.5"/>
<line x1="355.6" y1="475.9" x2="355.6" y2="476.9" stroke="#666" stroke-width="0.5"/>
<text x="407.2" y="412.5" font-size="9.35" text-anchor="middle" fill="#000" stroke="#000" stroke-width="0.12" dominant-baseline="central" transform="translate(407.2 412.5) scale(0.88 1) translate(-407.2 -412.5)">G6</text>
<ellipse cx="396.8" cy="432.7" rx="4.16" ry="3.52" fill="url(#fc)" opacity="0.8"/>
<ellipse cx="415.8" cy="460.7" rx="5.76" ry="6.08" fill="url(#fc)" opacity="0.6"/>
<path d="M393.83 432.41h.7M392.16 434.97h.7M395.9 431.4h.7M395.2 434.29h.7M400.68 431.83h.7M400.88 436.15h.7M400.19 433.34h.7M393.03 434.14h.7M395.77 433.12h.7M392.04 432.1h.7M397.39 430.7h.7M397.54 436.28h.7M397.38 431.23h.7M402.83 428.09h.7M394.47 433.57h.7M395.3 427.79h.7M397.46 434.48h.7M394.79 435.84h.7M398.06 435.25h.7M392.94 432.69h.7M400.85 437.02h.7M400.14 432.7h.7M397.26 431.36h.7M399.58 431.21h.7M397.11 428.28h.7M392.99 436.51h.7M396.95 433.16h.7M391.24 432.63h.7M402.05 429.49h.7M390.77 432.35h.7M395.45 432.25h.7M393.61 429.79h.7M393.67 434.08h.7M396.68 434.47h.7M394.06 433.97h.7M395.68 432.89h.7M399.17 432.77h.7M395.91 429.12h.7M396.96 434.38h.7M395.19 432.56h.7M392.31 429.83h.7M397.83 435.49h.7M396.01 429.1h.7M395.83 429.33h.7M396.1 436.86h.7M397.56 432.37h.7M399.44 431.88h.7M397.65 433.13h.7M397.94 429.53h.7M398.61 434.6h.7M390.99 426.85h.7M394.52 435.92h.7M396.85 434.16h.7M398.21 434.62h.7M395.17 431.44h.7M397.76 434.01h.7M398.27 433.43h.7M395.56 435.09h.7M398 435h.7M390.31 434.88h.7M390.56 433.16h.7M395.1 432.96h.7M395.58 432.03h.7M397.29 433.45h.7M394.76 427.22h.7M394.8 433.87h.7M394.64 433.63h.7M395.86 430.66h.7M399.79 436.29h.7M396.54 432.59h.7M399.26 429.82h.7M394.56 435.16h.7M399.11 431.63h.7M394.81 433.46h.7M393.19 431.62h.7M396.2 427.35h.7M398.32 434.36h.7M399.54 429.57h.7M393.5 430.93h.7M393.44 437.17h.7M394.29 432.02h.7M397.33 433.69h.7M400.53 430.33h.7M399.07 433.03h.7M393.78 433.03h.7M393.19 436.23h.7M394.92 434.89h.7M400.15 431.35h.7M394.49 432.99h.7M394.1 434.66h.7M397.25 431.03h.7M395.03 434.28h.7M393.06 436.39h.7M394.77 432.27h.7M394.41 436.25h.7M398.93 435.55h.7M398.49 432.9h.7M401.18 434.15h.7M397.93 433.96h.7M398.7 433.31h.7M396.37 429.21h.7M402.13 429.85h.7M391.23 431.14h.7M401.81 435.37h.7M395.24 433.28h.7M396.74 428.35h.7M395.93 433.34h.7M399.84 430.06h.7M390.95 429.25h.7M397.66 432.88h.7M397.19 433.02h.7M395.85 429.7h.7M397.98 433.55h.7M398.3 435.44h.7M393.58 427.56h.7M392.17 437.4h.7M394.43 433.58h.7M396.76 434.3h.7M405.14 431.56h.7M396.36 431.39h.7M417.98 454.72h.7M408.88 462.76h.7M408.63 466.11h.7M414.02 461.03h.7M415.79 458.57h.7M415.29 459.56h.7M420.28 460.35h.7M415.68 458.69h.7M413.52 457.9h.7M415.84 467.68h.7M419.82 461.6h.7M421.81 464.55h.7M416.55 460.07h.7M411.85 461.64h.7M414.66 454.68h.7M411.18 468.06h.7M416.57 462.59h.7M416.52 458.93h.7M417.46 464.82h.7M414.69 462.65h.7M419.49 458.86h.7M416.41 457.89h.7M417.97 459.3h.7M419.93 457.8h.7M421.88 459.52h.7M412.78 457.27h.7M418.19 457.45h.7M422.3 465.57h.7M417.67 455.3h.7M415.71 457.94h.7M409.28 462.32h.7M423.73 458.66h.7M418.71 465.58h.7M412.34 459.41h.7M416.77 462.49h.7M411.68 461.52h.7M415.41 464.32h.7M410.05 458.56h.7M413.99 459.5h.7M418.4 458.31h.7M425.66 458.01h.7M418.82 464.58h.7M419.27 459.92h.7M412.81 459.73h.7M418.2 461.16h.7M417.89 462.88h.7M412.62 457.15h.7M420.99 458.85h.7M410.1 467.77h.7M412.8 457.15h.7M419.28 456.4h.7M412.66 464.68h.7M412.85 470.23h.7M416.15 470.9h.7M416.27 460.91h.7M413.49 459.85h.7M414 460.61h.7M418.58 455.87h.7M412.5 452.74h.7M421.21 460.42h.7M415.75 460.48h.7M419.42 461.92h.7M418.86 460.06h.7M415.36 460.49h.7M409.1 464.84h.7M410.12 456.92h.7M418.22 460.91h.7M418.73 467.18h.7M422.5 465.95h.7M414.99 468.49h.7M412.63 460.37h.7M419.39 459.89h.7M415.36 459.36h.7M420.71 451.32h.7M420.38 464.73h.7M415.54 462.83h.7M412.31 464.92h.7M426.82 457.21h.7M420.83 460.49h.7M414.58 458.85h.7M415.12 455.94h.7M410.91 467.02h.7M415.74 462.8h.7M416.92 462.51h.7M410.31 457.1h.7M418.08 464.49h.7M411.68 458.5h.7M411.95 463.18h.7M417.04 460.82h.7M413.46 462h.7M415.91 457.87h.7M417 458.17h.7M419.23 463.08h.7M413.32 462.93h.7M416.04 458.02h.7M412.51 454.38h.7M411.73 462.02h.7M420.15 458.31h.7M416.37 462.01h.7M418.61 462.38h.7M420.22 463.61h.7M413.06 462.21h.7M407.37 460.02h.7M415.87 462.9h.7M414.71 463.86h.7M420.56 457.51h.7M413.84 461.69h.7M417.57 461.25h.7M418.79 456.21h.7M418.59 465.13h.7M419.8 462.32h.7M414.94 462.22h.7M415.53 454.67h.7M413.62 460.55h.7M413.94 457.16h.7M414.97 459.29h.7M416.05 460.52h.7M416.42 464.47h.7M416.29 462.24h.7M411.4 449.5h.7M414.36 463.27h.7M414.58 458.33h.7M411.34 464.09h.7M413.9 461.63h.7M419.87 462.74h.7M423.88 460.2h.7M419.24 463.34h.7M413.44 460.88h.7M413.77 456.81h.7M416.88 457.76h.7M421.85 457.89h.7M413.84 461.05h.7M413.93 460.9h.7M413.61 455.3h.7M407.11 455.8h.7M421.28 462.39h.7M416.35 458.93h.7M415.28 461.84h.7M410.8 457.67h.7M412.59 465.48h.7M412 465.16h.7M414.12 471.06h.7M415.52 460.82h.7M420.66 464.02h.7M419.18 456.64h.7M419.89 467.08h.7M415.43 458.86h.7M411.87 464.57h.7M416.86 460.73h.7M411.35 466.86h.7M418.95 460.62h.7M421.11 457.09h.7M418.97 456.91h.7M420.88 459.65h.7M420.2 459.12h.7M417.24 465.04h.7M412.55 461.07h.7M412.78 463.94h.7M413.63 459.28h.7M415.07 465.13h.7M412.05 460.6h.7M414.62 458.61h.7M412.97 460.09h.7M416.51 454.82h.7M416.64 456.2h.7M415.85 469.36h.7M412.32 460.45h.7M414.88 464.43h.7M414.09 453.91h.7M410 461.37h.7M416.71 464.76h.7M413.87 463.23h.7M411.97 465.62h.7M415.54 458.12h.7M416.44 467.32h.7M412.75 455.99h.7M412.14 456.31h.7M415.62 462.03h.7M415.21 461.45h.7M420.07 459.6h.7" stroke="#4a52d8" stroke-width="0.6" stroke-opacity="0.75" fill="none"/>
<path d="M397.58 462.19h.7M393.7 465.69h.7M400.47 461.86h.7M396.45 458.86h.7M391.54 462.78h.7M393.68 457.69h.7M399.99 455.85h.7M395.13 463.67h.7M402.74 456.86h.7M400.33 457.02h.7M398.04 462.03h.7M393.16 464.41h.7M402.56 460.13h.7M397.66 454.74h.7M402.52 460.18h.7M392.72 463.26h.7M392.12 456.88h.7M389.98 465.95h.7M403.87 457.11h.7M394.71 457.36h.7M394.99 462.34h.7M401.47 455.47h.7M398.21 451.97h.7M401.68 459.51h.7M394.56 466.64h.7M396.46 465.93h.7M400.24 467.19h.7M394.24 460.15h.7M397.98 459.05h.7M401.67 456.76h.7M400.01 465.9h.7M390.55 455.63h.7M393.91 457.5h.7M398.05 459.14h.7M397.05 457.88h.7M396.54 462.03h.7M399.19 456.46h.7M396.44 456.55h.7M396.23 453.58h.7M399.85 462.85h.7M396.41 456.89h.7M395.34 456.97h.7M391.86 467.09h.7M407.33 454.49h.7M393.07 462.44h.7M423.88 445.4h.6M426.98 427.7h.6M416.18 424.81h.6M426.78 439.89h.6M419.67 431.06h.6M414.63 433.89h.6M424.85 443.69h.6M428.01 443.02h.6M418.55 432.31h.6M415.65 445.58h.6M412.64 425.99h.6M414.89 444.33h.6M428.1 430.16h.6M428.07 443.58h.6M418.27 426.82h.6M426.25 431.19h.6" stroke="#6a72e0" stroke-width="0.55" stroke-opacity="0.6" fill="none"/>
<rect x="377.8" y="420.2" width="55.7" height="55.7" fill="none" stroke="#808080" stroke-width="0.8"/>
<line x1="406.4" y1="420.2" x2="406.4" y2="475.9" stroke="#404040" stroke-width="0.75"/>
<line x1="377.8" y1="448.2" x2="433.5" y2="448.2" stroke="#404040" stroke-width="0.75"/>
<text x="380.4" y="424.7" font-size="8.44" text-anchor="start" fill="#000" stroke="#000" stroke-width="0.12" dominant-baseline="central" transform="translate(380.4 424.7) scale(0.88 1) translate(-380.4 -424.7)">45.1</text>
<text x="376.8" y="425.9" font-size="7.41" text-anchor="end" fill="#000" stroke="#000" stroke-width="0.12" dominant-baseline="central" transform="translate(376.8 425.9) scale(0.88 1) translate(-376.8 -425.9)">10<tspan font-size="4.23" baseline-shift="2.47">5</tspan></text>
<line x1="376.6" y1="425.9" x2="377.8" y2="425.9" stroke="#444" stroke-width="0.6"/>
<text x="376.8" y="435.5" font-size="7.41" text-anchor="end" fill="#000" stroke="#000" stroke-width="0.12" dominant-baseline="central" transform="translate(376.8 435.5) scale(0.88 1) translate(-376.8 -435.5)">10<tspan font-size="4.23" baseline-shift="2.47">4</tspan></text>
<line x1="376.6" y1="435.5" x2="377.8" y2="435.5" stroke="#444" stroke-width="0.6"/>
<text x="376.8" y="446.4" font-size="7.41" text-anchor="end" fill="#000" stroke="#000" stroke-width="0.12" dominant-baseline="central" transform="translate(376.8 446.4) scale(0.88 1) translate(-376.8 -446.4)">10<tspan font-size="4.23" baseline-shift="2.47">3</tspan></text>
<line x1="376.6" y1="446.4" x2="377.8" y2="446.4" stroke="#444" stroke-width="0.6"/>
<text x="376.8" y="460.8" font-size="7.41" text-anchor="end" fill="#000" stroke="#000" stroke-width="0.12" dominant-baseline="central" transform="translate(376.8 460.8) scale(0.88 1) translate(-376.8 -460.8)">0</text>
<line x1="376.6" y1="460.8" x2="377.8" y2="460.8" stroke="#444" stroke-width="0.6"/>
<text x="376.8" y="471.6" font-size="7.41" text-anchor="end" fill="#000" stroke="#000" stroke-width="0.12" dominant-baseline="central" transform="translate(376.8 471.6) scale(0.88 1) translate(-376.8 -471.6)">-10<tspan font-size="4.23" baseline-shift="2.47">3</tspan></text>
<line x1="376.6" y1="471.6" x2="377.8" y2="471.6" stroke="#444" stroke-width="0.6"/>
<text x="394.3" y="481.5" font-size="7.41" text-anchor="middle" fill="#000" stroke="#000" stroke-width="0.12" dominant-baseline="central" transform="translate(394.3 481.5) scale(0.88 1) translate(-394.3 -481.5)">0</text>
<line x1="394.3" y1="475.9" x2="394.3" y2="477.4" stroke="#444" stroke-width="0.6"/>
<text x="417.4" y="481.5" font-size="7.41" text-anchor="middle" fill="#000" stroke="#000" stroke-width="0.12" dominant-baseline="central" transform="translate(417.4 481.5) scale(0.88 1) translate(-417.4 -481.5)">10<tspan font-size="4.23" baseline-shift="2.47">4</tspan></text>
<line x1="417.4" y1="475.9" x2="417.4" y2="477.4" stroke="#444" stroke-width="0.6"/>
<text x="431.3" y="481.5" font-size="7.41" text-anchor="middle" fill="#000" stroke="#000" stroke-width="0.12" dominant-baseline="central" transform="translate(431.3 481.5) scale(0.88 1) translate(-431.3 -481.5)">10<tspan font-size="4.23" baseline-shift="2.47">5</tspan></text>
<line x1="431.3" y1="475.9" x2="431.3" y2="477.4" stroke="#444" stroke-width="0.6"/>
<line x1="385.8" y1="475.9" x2="385.8" y2="476.9" stroke="#666" stroke-width="0.5"/>
<line x1="389.8" y1="475.9" x2="389.8" y2="476.9" stroke="#666" stroke-width="0.5"/>
<line x1="398.8" y1="475.9" x2="398.8" y2="476.9" stroke="#666" stroke-width="0.5"/>
<line x1="402.8" y1="475.9" x2="402.8" y2="476.9" stroke="#666" stroke-width="0.5"/>
<line x1="410.8" y1="475.9" x2="410.8" y2="476.9" stroke="#666" stroke-width="0.5"/>
<line x1="422.8" y1="475.9" x2="422.8" y2="476.9" stroke="#666" stroke-width="0.5"/>
<line x1="425.8" y1="475.9" x2="425.8" y2="476.9" stroke="#666" stroke-width="0.5"/>
<text x="3.5" y="466" font-size="7.52" text-anchor="middle" fill="#000" stroke="#000" stroke-width="0.12" dominant-baseline="central" transform="rotate(-90 3.5 466) translate(3.5 466) scale(0.88 1) translate(-3.5 -466)">CD8-BV421</text>
<path d="M1.9 445.2 L1.9 422" stroke="#111" stroke-width="0.8" fill="none"/>
<path d="M0.2 423.2 L1.9 417.8 L3.6 423.2 Z" stroke="#111" stroke-width="0.4" fill="#111"/>
<text x="41.6" y="494" font-size="8.21" text-anchor="middle" fill="#000" stroke="#000" stroke-width="0.12" dominant-baseline="central" transform="translate(41.6 494) scale(0.88 1) translate(-41.6 -494)">CD4-Apc-cy7</text>
<path d="M64.8 494 L90 494" stroke="#111" stroke-width="0.8" fill="none"/>
<path d="M89 492.2 L93.8 494 L89 495.8 Z" stroke="#111" stroke-width="0.5" fill="#111"/>
<text x="260" y="291" font-size="9.5" text-anchor="middle" font-weight="bold" fill="#000" stroke="#000" stroke-width="0.12" dominant-baseline="central">g</text>
<rect x="287.7" y="376.69" width="7" height="0.51" fill="#fff" stroke="#1a1a1a" stroke-width="0.9"/>
<line x1="291.2" y1="376.18" x2="291.2" y2="377.2" stroke="#1a1a1a" stroke-width="0.8"/>
<line x1="289.9" y1="376.18" x2="292.5" y2="376.18" stroke="#1a1a1a" stroke-width="0.8"/>
<circle cx="291.2" cy="376.25" r="1.35" fill="#1a1a1a"/>
<circle cx="289.6" cy="376.71" r="1.35" fill="#1a1a1a"/>
<circle cx="292.8" cy="377.05" r="1.35" fill="#1a1a1a"/>
<rect x="298.4" y="364.94" width="7" height="12.26" fill="#fff" stroke="#f7701d" stroke-width="0.9"/>
<line x1="301.9" y1="362.38" x2="301.9" y2="367.49" stroke="#f7701d" stroke-width="0.8"/>
<line x1="300.6" y1="362.38" x2="303.2" y2="362.38" stroke="#f7701d" stroke-width="0.8"/>
<circle cx="301.9" cy="362.76" r="1.35" fill="#f7701d"/>
<circle cx="300.3" cy="365.06" r="1.35" fill="#f7701d"/>
<circle cx="303.5" cy="366.72" r="1.35" fill="#f7701d"/>
<rect x="309.5" y="361.1" width="7" height="16.1" fill="#fff" stroke="#a83ae8" stroke-width="0.9"/>
<line x1="313" y1="358.55" x2="313" y2="363.66" stroke="#a83ae8" stroke-width="0.8"/>
<line x1="311.7" y1="358.55" x2="314.3" y2="358.55" stroke="#a83ae8" stroke-width="0.8"/>
<circle cx="313" cy="358.93" r="1.35" fill="#a83ae8"/>
<circle cx="311.4" cy="361.23" r="1.35" fill="#a83ae8"/>
<circle cx="314.6" cy="362.89" r="1.35" fill="#a83ae8"/>
<rect x="321.1" y="347.05" width="7" height="30.15" fill="#fff" stroke="#1fb51f" stroke-width="0.9"/>
<line x1="324.6" y1="342.45" x2="324.6" y2="351.65" stroke="#1fb51f" stroke-width="0.8"/>
<line x1="323.3" y1="342.45" x2="325.9" y2="342.45" stroke="#1fb51f" stroke-width="0.8"/>
<circle cx="324.6" cy="343.14" r="1.35" fill="#1fb51f"/>
<circle cx="323" cy="347.28" r="1.35" fill="#1fb51f"/>
<circle cx="326.2" cy="350.27" r="1.35" fill="#1fb51f"/>
<rect x="332.6" y="344.75" width="7" height="32.45" fill="#fff" stroke="#2448f0" stroke-width="0.9"/>
<line x1="336.1" y1="342.2" x2="336.1" y2="347.31" stroke="#2448f0" stroke-width="0.8"/>
<line x1="334.8" y1="342.2" x2="337.4" y2="342.2" stroke="#2448f0" stroke-width="0.8"/>
<circle cx="336.1" cy="342.58" r="1.35" fill="#2448f0"/>
<circle cx="334.5" cy="344.88" r="1.35" fill="#2448f0"/>
<circle cx="337.7" cy="346.54" r="1.35" fill="#2448f0"/>
<rect x="343.9" y="332.23" width="7" height="44.97" fill="#fff" stroke="#f0283c" stroke-width="0.9"/>
<line x1="347.4" y1="330.7" x2="347.4" y2="333.76" stroke="#f0283c" stroke-width="0.8"/>
<line x1="346.1" y1="330.7" x2="348.7" y2="330.7" stroke="#f0283c" stroke-width="0.8"/>
<circle cx="347.4" cy="330.93" r="1.35" fill="#f0283c"/>
<circle cx="345.8" cy="332.31" r="1.35" fill="#f0283c"/>
<circle cx="349" cy="333.31" r="1.35" fill="#f0283c"/>
<rect x="283.8" y="305.8" width="71.9" height="71.4" fill="none" stroke="#1e1e1e" stroke-width="0.9"/>
<line x1="281.4" y1="377.2" x2="283.8" y2="377.2" stroke="#1e1e1e" stroke-width="0.8"/>
<text x="280.6" y="377.2" font-size="8.32" text-anchor="end" fill="#000" stroke="#000" stroke-width="0.12" dominant-baseline="central" transform="translate(280.6 377.2) scale(0.88 1) translate(-280.6 -377.2)">0</text>
<line x1="281.4" y1="351.65" x2="283.8" y2="351.65" stroke="#1e1e1e" stroke-width="0.8"/>
<text x="280.6" y="351.65" font-size="8.32" text-anchor="end" fill="#000" stroke="#000" stroke-width="0.12" dominant-baseline="central" transform="translate(280.6 351.65) scale(0.88 1) translate(-280.6 -351.65)">50</text>
<line x1="281.4" y1="326.1" x2="283.8" y2="326.1" stroke="#1e1e1e" stroke-width="0.8"/>
<text x="280.6" y="326.1" font-size="8.32" text-anchor="end" fill="#000" stroke="#000" stroke-width="0.12" dominant-baseline="central" transform="translate(280.6 326.1) scale(0.88 1) translate(-280.6 -326.1)">100</text>
<line x1="282.4" y1="364.43" x2="283.8" y2="364.43" stroke="#1e1e1e" stroke-width="0.7"/>
<line x1="282.4" y1="338.88" x2="283.8" y2="338.88" stroke="#1e1e1e" stroke-width="0.7"/>
<line x1="282.4" y1="313.32" x2="283.8" y2="313.32" stroke="#1e1e1e" stroke-width="0.7"/>
<line x1="291.2" y1="377.2" x2="291.2" y2="380" stroke="#1e1e1e" stroke-width="0.7"/>
<text x="291.2" y="386.6" font-size="8.66" text-anchor="middle" fill="#000" stroke="#000" stroke-width="0.12" dominant-baseline="central" transform="translate(291.2 386.6) scale(0.88 1) translate(-291.2 -386.6)">G1</text>
<line x1="301.9" y1="377.2" x2="301.9" y2="380" stroke="#1e1e1e" stroke-width="0.7"/>
<text x="301.9" y="386.6" font-size="8.66" text-anchor="middle" fill="#000" stroke="#000" stroke-width="0.12" dominant-baseline="central" transform="translate(301.9 386.6) scale(0.88 1) translate(-301.9 -386.6)">G2</text>
<line x1="313" y1="377.2" x2="313" y2="380" stroke="#1e1e1e" stroke-width="0.7"/>
<text x="313" y="386.6" font-size="8.66" text-anchor="middle" fill="#000" stroke="#000" stroke-width="0.12" dominant-baseline="central" transform="translate(313 386.6) scale(0.88 1) translate(-313 -386.6)">G3</text>
<line x1="324.6" y1="377.2" x2="324.6" y2="380" stroke="#1e1e1e" stroke-width="0.7"/>
<text x="324.6" y="386.6" font-size="8.66" text-anchor="middle" fill="#000" stroke="#000" stroke-width="0.12" dominant-baseline="central" transform="translate(324.6 386.6) scale(0.88 1) translate(-324.6 -386.6)">G4</text>
<line x1="336.1" y1="377.2" x2="336.1" y2="380" stroke="#1e1e1e" stroke-width="0.7"/>
<text x="336.1" y="386.6" font-size="8.66" text-anchor="middle" fill="#000" stroke="#000" stroke-width="0.12" dominant-baseline="central" transform="translate(336.1 386.6) scale(0.88 1) translate(-336.1 -386.6)">G5</text>
<line x1="347.4" y1="377.2" x2="347.4" y2="380" stroke="#1e1e1e" stroke-width="0.7"/>
<text x="347.4" y="386.6" font-size="8.66" text-anchor="middle" fill="#000" stroke="#000" stroke-width="0.12" dominant-baseline="central" transform="translate(347.4 386.6) scale(0.88 1) translate(-347.4 -386.6)">G6</text>
<line x1="291.2" y1="315.2" x2="347.4" y2="315.2" stroke="#333" stroke-width="0.8"/>
<text x="320.8" y="311.5" font-size="7.81" text-anchor="middle" fill="#000" stroke="#000" stroke-width="0.12" dominant-baseline="central" transform="translate(320.8 311.5) scale(0.88 1) translate(-320.8 -311.5)"><tspan font-style="italic">P</tspan> &lt; 0.0001</text>
<line x1="336.2" y1="326.2" x2="349.2" y2="326.2" stroke="#333" stroke-width="0.8"/>
<text x="334.8" y="321.2" font-size="7.81" text-anchor="middle" fill="#000" stroke="#000" stroke-width="0.12" dominant-baseline="central" transform="translate(334.8 321.2) scale(0.88 1) translate(-334.8 -321.2)"><tspan font-style="italic">P</tspan> = 0.0018</text>
<text x="262.4" y="342.5" font-size="9.23" text-anchor="middle" fill="#000" stroke="#000" stroke-width="0.12" dominant-baseline="central" transform="rotate(-90 262.4 342.5) translate(262.4 342.5) scale(0.88 1) translate(-262.4 -342.5)">Tumor necrosis rate (%)</text>
<text x="577.8" y="290.6" font-size="9.5" text-anchor="middle" font-weight="bold" fill="#000" stroke="#000" stroke-width="0.12" dominant-baseline="central">i</text>
<rect x="610.1" y="325.59" width="7.8" height="53.11" fill="#fff" stroke="#1a1a1a" stroke-width="0.9"/>
<line x1="614" y1="324.68" x2="614" y2="326.5" stroke="#1a1a1a" stroke-width="0.8"/>
<line x1="612.7" y1="324.68" x2="615.3" y2="324.68" stroke="#1a1a1a" stroke-width="0.8"/>
<circle cx="614" cy="324.81" r="1.35" fill="#1a1a1a"/>
<circle cx="612.4" cy="325.63" r="1.35" fill="#1a1a1a"/>
<circle cx="615.6" cy="326.22" r="1.35" fill="#1a1a1a"/>
<rect x="621.2" y="332.87" width="7.8" height="45.83" fill="#fff" stroke="#f7701d" stroke-width="0.9"/>
<line x1="625.1" y1="331.96" x2="625.1" y2="333.78" stroke="#f7701d" stroke-width="0.8"/>
<line x1="623.8" y1="331.96" x2="626.4" y2="331.96" stroke="#f7701d" stroke-width="0.8"/>
<circle cx="625.1" cy="332.1" r="1.35" fill="#f7701d"/>
<circle cx="623.5" cy="332.92" r="1.35" fill="#f7701d"/>
<circle cx="626.7" cy="333.51" r="1.35" fill="#f7701d"/>
<rect x="633.2" y="339.55" width="7.8" height="39.15" fill="#fff" stroke="#f013f0" stroke-width="0.9"/>
<line x1="637.1" y1="338.33" x2="637.1" y2="340.76" stroke="#f013f0" stroke-width="0.8"/>
<line x1="635.8" y1="338.33" x2="638.4" y2="338.33" stroke="#f013f0" stroke-width="0.8"/>
<circle cx="637.1" cy="338.52" r="1.35" fill="#f013f0"/>
<circle cx="635.5" cy="339.61" r="1.35" fill="#f013f0"/>
<circle cx="638.7" cy="340.4" r="1.35" fill="#f013f0"/>
<rect x="644.4" y="353.81" width="7.8" height="24.89" fill="#fff" stroke="#1fb51f" stroke-width="0.9"/>
<line x1="648.3" y1="352.3" x2="648.3" y2="355.33" stroke="#1fb51f" stroke-width="0.8"/>
<line x1="647" y1="352.3" x2="649.6" y2="352.3" stroke="#1fb51f" stroke-width="0.8"/>
<circle cx="648.3" cy="352.52" r="1.35" fill="#1fb51f"/>
<circle cx="646.7" cy="353.89" r="1.35" fill="#1fb51f"/>
<circle cx="649.9" cy="354.88" r="1.35" fill="#1fb51f"/>
<rect x="656.4" y="355.33" width="7.8" height="23.37" fill="#fff" stroke="#1c22ee" stroke-width="0.9"/>
<line x1="660.3" y1="354.12" x2="660.3" y2="356.54" stroke="#1c22ee" stroke-width="0.8"/>
<line x1="659" y1="354.12" x2="661.6" y2="354.12" stroke="#1c22ee" stroke-width="0.8"/>
<circle cx="660.3" cy="354.3" r="1.35" fill="#1c22ee"/>
<circle cx="658.7" cy="355.39" r="1.35" fill="#1c22ee"/>
<circle cx="661.9" cy="356.18" r="1.35" fill="#1c22ee"/>
<rect x="667.9" y="377.79" width="7.8" height="0.91" fill="#fff" stroke="#ef1c1c" stroke-width="0.9"/>
<line x1="671.8" y1="377.18" x2="671.8" y2="378.4" stroke="#ef1c1c" stroke-width="0.8"/>
<line x1="670.5" y1="377.18" x2="673.1" y2="377.18" stroke="#ef1c1c" stroke-width="0.8"/>
<circle cx="671.8" cy="377.27" r="1.35" fill="#ef1c1c"/>
<circle cx="670.2" cy="377.82" r="1.35" fill="#ef1c1c"/>
<circle cx="673.4" cy="378.21" r="1.35" fill="#ef1c1c"/>
<rect x="605.6" y="305.8" width="75.1" height="72.9" fill="none" stroke="#1e1e1e" stroke-width="0.9"/>
<line x1="603.2" y1="378.7" x2="605.6" y2="378.7" stroke="#1e1e1e" stroke-width="0.8"/>
<text x="602.4" y="378.7" font-size="8.32" text-anchor="end" fill="#000" stroke="#000" stroke-width="0.12" dominant-baseline="central" transform="translate(602.4 378.7) scale(0.88 1) translate(-602.4 -378.7)">0</text>
<line x1="603.2" y1="348.35" x2="605.6" y2="348.35" stroke="#1e1e1e" stroke-width="0.8"/>
<text x="602.4" y="348.35" font-size="8.32" text-anchor="end" fill="#000" stroke="#000" stroke-width="0.12" dominant-baseline="central" transform="translate(602.4 348.35) scale(0.88 1) translate(-602.4 -348.35)">50</text>
<line x1="603.2" y1="318" x2="605.6" y2="318" stroke="#1e1e1e" stroke-width="0.8"/>
<text x="602.4" y="318" font-size="8.32" text-anchor="end" fill="#000" stroke="#000" stroke-width="0.12" dominant-baseline="central" transform="translate(602.4 318) scale(0.88 1) translate(-602.4 -318)">100</text>
<line x1="604.2" y1="363.52" x2="605.6" y2="363.52" stroke="#1e1e1e" stroke-width="0.7"/>
<line x1="604.2" y1="333.18" x2="605.6" y2="333.18" stroke="#1e1e1e" stroke-width="0.7"/>
<line x1="614" y1="378.7" x2="614" y2="381.5" stroke="#1e1e1e" stroke-width="0.7"/>
<text x="611.4" y="386.3" font-size="8.66" text-anchor="middle" fill="#000" stroke="#000" stroke-width="0.12" dominant-baseline="central" transform="translate(611.4 386.3) scale(0.88 1) translate(-611.4 -386.3)">G1</text>
<line x1="625.1" y1="378.7" x2="625.1" y2="381.5" stroke="#1e1e1e" stroke-width="0.7"/>
<text x="623.78" y="386.3" font-size="8.66" text-anchor="middle" fill="#000" stroke="#000" stroke-width="0.12" dominant-baseline="central" transform="translate(623.78 386.3) scale(0.88 1) translate(-623.78 -386.3)">G2</text>
<line x1="637.1" y1="378.7" x2="637.1" y2="381.5" stroke="#1e1e1e" stroke-width="0.7"/>
<text x="636.16" y="386.3" font-size="8.66" text-anchor="middle" fill="#000" stroke="#000" stroke-width="0.12" dominant-baseline="central" transform="translate(636.16 386.3) scale(0.88 1) translate(-636.16 -386.3)">G3</text>
<line x1="648.3" y1="378.7" x2="648.3" y2="381.5" stroke="#1e1e1e" stroke-width="0.7"/>
<text x="648.54" y="386.3" font-size="8.66" text-anchor="middle" fill="#000" stroke="#000" stroke-width="0.12" dominant-baseline="central" transform="translate(648.54 386.3) scale(0.88 1) translate(-648.54 -386.3)">G4</text>
<line x1="660.3" y1="378.7" x2="660.3" y2="381.5" stroke="#1e1e1e" stroke-width="0.7"/>
<text x="660.92" y="386.3" font-size="8.66" text-anchor="middle" fill="#000" stroke="#000" stroke-width="0.12" dominant-baseline="central" transform="translate(660.92 386.3) scale(0.88 1) translate(-660.92 -386.3)">G5</text>
<line x1="671.8" y1="378.7" x2="671.8" y2="381.5" stroke="#1e1e1e" stroke-width="0.7"/>
<text x="673.3" y="386.3" font-size="8.66" text-anchor="middle" fill="#000" stroke="#000" stroke-width="0.12" dominant-baseline="central" transform="translate(673.3 386.3) scale(0.88 1) translate(-673.3 -386.3)">G6</text>
<line x1="613.6" y1="315" x2="671.5" y2="315" stroke="#333" stroke-width="0.8"/>
<text x="643.6" y="311" font-size="7.81" text-anchor="middle" fill="#000" stroke="#000" stroke-width="0.12" dominant-baseline="central" transform="translate(643.6 311) scale(0.88 1) translate(-643.6 -311)"><tspan font-style="italic">P</tspan> &lt; 0.0001</text>
<line x1="660.7" y1="326.7" x2="672.4" y2="326.7" stroke="#333" stroke-width="0.8"/>
<text x="660.3" y="322.1" font-size="7.81" text-anchor="middle" fill="#000" stroke="#000" stroke-width="0.12" dominant-baseline="central" transform="translate(660.3 322.1) scale(0.88 1) translate(-660.3 -322.1)"><tspan font-style="italic">P</tspan> &lt; 0.0001</text>
<text x="584.3" y="345.8" font-size="7.98" text-anchor="middle" fill="#000" stroke="#000" stroke-width="0.12" dominant-baseline="central" transform="rotate(-90 584.3 345.8) translate(584.3 345.8) scale(0.88 1) translate(-584.3 -345.8)">Ki67<tspan font-size="4.55" baseline-shift="2.66">+</tspan> cell ratio (%)</text>
<rect x="462.2" y="457.28" width="6.4" height="18.72" fill="#fff" stroke="#1a1a1a" stroke-width="0.9"/>
<line x1="465.4" y1="453.74" x2="465.4" y2="460.83" stroke="#1a1a1a" stroke-width="0.8"/>
<line x1="464.1" y1="453.74" x2="466.7" y2="453.74" stroke="#1a1a1a" stroke-width="0.8"/>
<circle cx="465.4" cy="454.27" r="1.05" fill="#1a1a1a"/>
<circle cx="463.8" cy="457.46" r="1.05" fill="#1a1a1a"/>
<circle cx="467" cy="459.76" r="1.05" fill="#1a1a1a"/>
<rect x="471.2" y="455.86" width="6.4" height="20.14" fill="#fff" stroke="#f7701d" stroke-width="0.9"/>
<line x1="474.4" y1="453.74" x2="474.4" y2="457.99" stroke="#f7701d" stroke-width="0.8"/>
<line x1="473.1" y1="453.74" x2="475.7" y2="453.74" stroke="#f7701d" stroke-width="0.8"/>
<circle cx="474.4" cy="454.06" r="1.05" fill="#f7701d"/>
<circle cx="472.8" cy="455.97" r="1.05" fill="#f7701d"/>
<circle cx="476" cy="457.35" r="1.05" fill="#f7701d"/>
<rect x="480.3" y="451.89" width="6.4" height="24.11" fill="#fff" stroke="#f013f0" stroke-width="0.9"/>
<line x1="483.5" y1="451.04" x2="483.5" y2="452.74" stroke="#f013f0" stroke-width="0.8"/>
<line x1="482.2" y1="451.04" x2="484.8" y2="451.04" stroke="#f013f0" stroke-width="0.8"/>
<circle cx="483.5" cy="451.17" r="1.05" fill="#f013f0"/>
<circle cx="481.9" cy="451.94" r="1.05" fill="#f013f0"/>
<circle cx="485.1" cy="452.49" r="1.05" fill="#f013f0"/>
<rect x="489.1" y="452.04" width="6.4" height="23.96" fill="#fff" stroke="#1fb51f" stroke-width="0.9"/>
<line x1="492.3" y1="449.41" x2="492.3" y2="454.66" stroke="#1fb51f" stroke-width="0.8"/>
<line x1="491" y1="449.41" x2="493.6" y2="449.41" stroke="#1fb51f" stroke-width="0.8"/>
<circle cx="492.3" cy="449.81" r="1.05" fill="#1fb51f"/>
<circle cx="490.7" cy="452.17" r="1.05" fill="#1fb51f"/>
<circle cx="493.9" cy="453.87" r="1.05" fill="#1fb51f"/>
<rect x="498" y="449.7" width="6.4" height="26.3" fill="#fff" stroke="#1c22ee" stroke-width="0.9"/>
<line x1="501.2" y1="447.64" x2="501.2" y2="451.75" stroke="#1c22ee" stroke-width="0.8"/>
<line x1="499.9" y1="447.64" x2="502.5" y2="447.64" stroke="#1c22ee" stroke-width="0.8"/>
<circle cx="501.2" cy="447.95" r="1.05" fill="#1c22ee"/>
<circle cx="499.6" cy="449.8" r="1.05" fill="#1c22ee"/>
<circle cx="502.8" cy="451.14" r="1.05" fill="#1c22ee"/>
<rect x="507.1" y="445.37" width="6.4" height="30.63" fill="#fff" stroke="#ef1c1c" stroke-width="0.9"/>
<line x1="510.3" y1="442.68" x2="510.3" y2="448.07" stroke="#ef1c1c" stroke-width="0.8"/>
<line x1="509" y1="442.68" x2="511.6" y2="442.68" stroke="#ef1c1c" stroke-width="0.8"/>
<circle cx="510.3" cy="443.08" r="1.05" fill="#ef1c1c"/>
<circle cx="508.7" cy="445.51" r="1.05" fill="#ef1c1c"/>
<circle cx="511.9" cy="447.26" r="1.05" fill="#ef1c1c"/>
<rect x="458.2" y="419.3" width="58.8" height="56.7" fill="none" stroke="#1e1e1e" stroke-width="0.9"/>
<line x1="455.8" y1="476" x2="458.2" y2="476" stroke="#1e1e1e" stroke-width="0.8"/>
<text x="455" y="477" font-size="7.52" text-anchor="end" fill="#000" stroke="#000" stroke-width="0.12" dominant-baseline="central" transform="translate(455 477) scale(0.88 1) translate(-455 -477)">0</text>
<line x1="455.8" y1="461.82" x2="458.2" y2="461.82" stroke="#1e1e1e" stroke-width="0.8"/>
<text x="455" y="462.82" font-size="7.52" text-anchor="end" fill="#000" stroke="#000" stroke-width="0.12" dominant-baseline="central" transform="translate(455 462.82) scale(0.88 1) translate(-455 -462.82)">20</text>
<line x1="455.8" y1="447.64" x2="458.2" y2="447.64" stroke="#1e1e1e" stroke-width="0.8"/>
<text x="455" y="448.64" font-size="7.52" text-anchor="end" fill="#000" stroke="#000" stroke-width="0.12" dominant-baseline="central" transform="translate(455 448.64) scale(0.88 1) translate(-455 -448.64)">40</text>
<line x1="455.8" y1="433.46" x2="458.2" y2="433.46" stroke="#1e1e1e" stroke-width="0.8"/>
<text x="455" y="434.46" font-size="7.52" text-anchor="end" fill="#000" stroke="#000" stroke-width="0.12" dominant-baseline="central" transform="translate(455 434.46) scale(0.88 1) translate(-455 -434.46)">60</text>
<line x1="455.8" y1="419.28" x2="458.2" y2="419.28" stroke="#1e1e1e" stroke-width="0.8"/>
<text x="455" y="420.28" font-size="7.52" text-anchor="end" fill="#000" stroke="#000" stroke-width="0.12" dominant-baseline="central" transform="translate(455 420.28) scale(0.88 1) translate(-455 -420.28)">80</text>
<line x1="456.8" y1="468.91" x2="458.2" y2="468.91" stroke="#1e1e1e" stroke-width="0.7"/>
<line x1="456.8" y1="454.73" x2="458.2" y2="454.73" stroke="#1e1e1e" stroke-width="0.7"/>
<line x1="456.8" y1="440.55" x2="458.2" y2="440.55" stroke="#1e1e1e" stroke-width="0.7"/>
<line x1="456.8" y1="426.37" x2="458.2" y2="426.37" stroke="#1e1e1e" stroke-width="0.7"/>
<line x1="465.4" y1="476" x2="465.4" y2="478.8" stroke="#1e1e1e" stroke-width="0.7"/>
<text x="465.4" y="482.4" font-size="7.87" text-anchor="middle" fill="#000" stroke="#000" stroke-width="0.12" dominant-baseline="central" transform="translate(465.4 482.4) scale(0.88 1) translate(-465.4 -482.4)">G1</text>
<line x1="474.4" y1="476" x2="474.4" y2="478.8" stroke="#1e1e1e" stroke-width="0.7"/>
<text x="474.4" y="482.4" font-size="7.87" text-anchor="middle" fill="#000" stroke="#000" stroke-width="0.12" dominant-baseline="central" transform="translate(474.4 482.4) scale(0.88 1) translate(-474.4 -482.4)">G2</text>
<line x1="483.5" y1="476" x2="483.5" y2="478.8" stroke="#1e1e1e" stroke-width="0.7"/>
<text x="483.5" y="482.4" font-size="7.87" text-anchor="middle" fill="#000" stroke="#000" stroke-width="0.12" dominant-baseline="central" transform="translate(483.5 482.4) scale(0.88 1) translate(-483.5 -482.4)">G3</text>
<line x1="492.3" y1="476" x2="492.3" y2="478.8" stroke="#1e1e1e" stroke-width="0.7"/>
<text x="492.3" y="482.4" font-size="7.87" text-anchor="middle" fill="#000" stroke="#000" stroke-width="0.12" dominant-baseline="central" transform="translate(492.3 482.4) scale(0.88 1) translate(-492.3 -482.4)">G4</text>
<line x1="501.2" y1="476" x2="501.2" y2="478.8" stroke="#1e1e1e" stroke-width="0.7"/>
<text x="501.2" y="482.4" font-size="7.87" text-anchor="middle" fill="#000" stroke="#000" stroke-width="0.12" dominant-baseline="central" transform="translate(501.2 482.4) scale(0.88 1) translate(-501.2 -482.4)">G5</text>
<line x1="510.3" y1="476" x2="510.3" y2="478.8" stroke="#1e1e1e" stroke-width="0.7"/>
<text x="510.3" y="482.4" font-size="7.87" text-anchor="middle" fill="#000" stroke="#000" stroke-width="0.12" dominant-baseline="central" transform="translate(510.3 482.4) scale(0.88 1) translate(-510.3 -482.4)">G6</text>
<line x1="465.1" y1="427.5" x2="509.8" y2="427.5" stroke="#333" stroke-width="0.8"/>
<text x="487.8" y="423.3" font-size="7.18" text-anchor="middle" fill="#000" stroke="#000" stroke-width="0.12" dominant-baseline="central" transform="translate(487.8 423.3) scale(0.88 1) translate(-487.8 -423.3)"><tspan font-style="italic">P</tspan> = 0.0015</text>
<line x1="500.2" y1="436.3" x2="510.3" y2="436.3" stroke="#333" stroke-width="0.8"/>
<text x="495.2" y="432" font-size="7.18" text-anchor="middle" fill="#000" stroke="#000" stroke-width="0.12" dominant-baseline="central" transform="translate(495.2 432) scale(0.88 1) translate(-495.2 -432)"><tspan font-style="italic">P</tspan> = 0.0243</text>
<text x="442.9" y="443.7" font-size="7.52" text-anchor="middle" fill="#000" stroke="#000" stroke-width="0.12" dominant-baseline="central" transform="rotate(-90 442.9 443.7) translate(442.9 443.7) scale(0.88 1) translate(-442.9 -443.7)">CD8<tspan font-size="4.29" baseline-shift="2.51">+</tspan> T in T cell (%)</text>
<text x="519.9" y="411.4" font-size="9.5" text-anchor="middle" font-weight="bold" fill="#000" stroke="#000" stroke-width="0.12" dominant-baseline="central">k</text>
<rect x="546.55" y="467.34" width="5.7" height="8.36" fill="#fff" stroke="#1a1a1a" stroke-width="0.9"/>
<line x1="549.4" y1="464.88" x2="549.4" y2="469.8" stroke="#1a1a1a" stroke-width="0.8"/>
<line x1="548.1" y1="464.88" x2="550.7" y2="464.88" stroke="#1a1a1a" stroke-width="0.8"/>
<circle cx="549.4" cy="465.25" r="1.05" fill="#1a1a1a"/>
<circle cx="547.8" cy="467.46" r="1.05" fill="#1a1a1a"/>
<circle cx="551" cy="469.06" r="1.05" fill="#1a1a1a"/>
<rect x="555.15" y="465.53" width="5.7" height="10.17" fill="#fff" stroke="#f7701d" stroke-width="0.9"/>
<line x1="558" y1="461.6" x2="558" y2="469.47" stroke="#f7701d" stroke-width="0.8"/>
<line x1="556.7" y1="461.6" x2="559.3" y2="461.6" stroke="#f7701d" stroke-width="0.8"/>
<circle cx="558" cy="462.19" r="1.05" fill="#f7701d"/>
<circle cx="556.4" cy="465.73" r="1.05" fill="#f7701d"/>
<circle cx="559.6" cy="468.29" r="1.05" fill="#f7701d"/>
<rect x="564.45" y="464.55" width="5.7" height="11.15" fill="#fff" stroke="#f013f0" stroke-width="0.9"/>
<line x1="567.3" y1="460.94" x2="567.3" y2="468.16" stroke="#f013f0" stroke-width="0.8"/>
<line x1="566" y1="460.94" x2="568.6" y2="460.94" stroke="#f013f0" stroke-width="0.8"/>
<circle cx="567.3" cy="461.48" r="1.05" fill="#f013f0"/>
<circle cx="565.7" cy="464.73" r="1.05" fill="#f013f0"/>
<circle cx="568.9" cy="467.07" r="1.05" fill="#f013f0"/>
<rect x="573.75" y="457.66" width="5.7" height="18.04" fill="#fff" stroke="#1fb51f" stroke-width="0.9"/>
<line x1="576.6" y1="454.38" x2="576.6" y2="460.94" stroke="#1fb51f" stroke-width="0.8"/>
<line x1="575.3" y1="454.38" x2="577.9" y2="454.38" stroke="#1fb51f" stroke-width="0.8"/>
<circle cx="576.6" cy="454.87" r="1.05" fill="#1fb51f"/>
<circle cx="575" cy="457.82" r="1.05" fill="#1fb51f"/>
<circle cx="578.2" cy="459.96" r="1.05" fill="#1fb51f"/>
<rect x="582.35" y="455.36" width="5.7" height="20.34" fill="#fff" stroke="#1c22ee" stroke-width="0.9"/>
<line x1="585.2" y1="451.59" x2="585.2" y2="459.14" stroke="#1c22ee" stroke-width="0.8"/>
<line x1="583.9" y1="451.59" x2="586.5" y2="451.59" stroke="#1c22ee" stroke-width="0.8"/>
<circle cx="585.2" cy="452.16" r="1.05" fill="#1c22ee"/>
<circle cx="583.6" cy="455.55" r="1.05" fill="#1c22ee"/>
<circle cx="586.8" cy="458" r="1.05" fill="#1c22ee"/>
<rect x="591.65" y="442.08" width="5.7" height="33.62" fill="#fff" stroke="#ef1c1c" stroke-width="0.9"/>
<line x1="594.5" y1="438.14" x2="594.5" y2="446.02" stroke="#ef1c1c" stroke-width="0.8"/>
<line x1="593.2" y1="438.14" x2="595.8" y2="438.14" stroke="#ef1c1c" stroke-width="0.8"/>
<circle cx="594.5" cy="438.73" r="1.05" fill="#ef1c1c"/>
<circle cx="592.9" cy="442.28" r="1.05" fill="#ef1c1c"/>
<circle cx="596.1" cy="444.84" r="1.05" fill="#ef1c1c"/>
<rect x="542.9" y="418.6" width="57.8" height="57.1" fill="none" stroke="#1e1e1e" stroke-width="0.9"/>
<line x1="540.5" y1="475.7" x2="542.9" y2="475.7" stroke="#1e1e1e" stroke-width="0.8"/>
<text x="539.7" y="476.7" font-size="7.52" text-anchor="end" fill="#000" stroke="#000" stroke-width="0.12" dominant-baseline="central" transform="translate(539.7 476.7) scale(0.88 1) translate(-539.7 -476.7)">0</text>
<line x1="540.5" y1="459.3" x2="542.9" y2="459.3" stroke="#1e1e1e" stroke-width="0.8"/>
<text x="539.7" y="460.3" font-size="7.52" text-anchor="end" fill="#000" stroke="#000" stroke-width="0.12" dominant-baseline="central" transform="translate(539.7 460.3) scale(0.88 1) translate(-539.7 -460.3)">10</text>
<line x1="540.5" y1="442.9" x2="542.9" y2="442.9" stroke="#1e1e1e" stroke-width="0.8"/>
<text x="539.7" y="443.9" font-size="7.52" text-anchor="end" fill="#000" stroke="#000" stroke-width="0.12" dominant-baseline="central" transform="translate(539.7 443.9) scale(0.88 1) translate(-539.7 -443.9)">20</text>
<line x1="540.5" y1="426.5" x2="542.9" y2="426.5" stroke="#1e1e1e" stroke-width="0.8"/>
<text x="539.7" y="427.5" font-size="7.52" text-anchor="end" fill="#000" stroke="#000" stroke-width="0.12" dominant-baseline="central" transform="translate(539.7 427.5) scale(0.88 1) translate(-539.7 -427.5)">30</text>
<line x1="541.5" y1="467.5" x2="542.9" y2="467.5" stroke="#1e1e1e" stroke-width="0.7"/>
<line x1="541.5" y1="451.1" x2="542.9" y2="451.1" stroke="#1e1e1e" stroke-width="0.7"/>
<line x1="541.5" y1="434.7" x2="542.9" y2="434.7" stroke="#1e1e1e" stroke-width="0.7"/>
<line x1="549.4" y1="475.7" x2="549.4" y2="478.5" stroke="#1e1e1e" stroke-width="0.7"/>
<text x="549.4" y="482.4" font-size="7.87" text-anchor="middle" fill="#000" stroke="#000" stroke-width="0.12" dominant-baseline="central" transform="translate(549.4 482.4) scale(0.88 1) translate(-549.4 -482.4)">G1</text>
<line x1="558" y1="475.7" x2="558" y2="478.5" stroke="#1e1e1e" stroke-width="0.7"/>
<text x="558" y="482.4" font-size="7.87" text-anchor="middle" fill="#000" stroke="#000" stroke-width="0.12" dominant-baseline="central" transform="translate(558 482.4) scale(0.88 1) translate(-558 -482.4)">G2</text>
<line x1="567.3" y1="475.7" x2="567.3" y2="478.5" stroke="#1e1e1e" stroke-width="0.7"/>
<text x="567.3" y="482.4" font-size="7.87" text-anchor="middle" fill="#000" stroke="#000" stroke-width="0.12" dominant-baseline="central" transform="translate(567.3 482.4) scale(0.88 1) translate(-567.3 -482.4)">G3</text>
<line x1="576.6" y1="475.7" x2="576.6" y2="478.5" stroke="#1e1e1e" stroke-width="0.7"/>
<text x="576.6" y="482.4" font-size="7.87" text-anchor="middle" fill="#000" stroke="#000" stroke-width="0.12" dominant-baseline="central" transform="translate(576.6 482.4) scale(0.88 1) translate(-576.6 -482.4)">G4</text>
<line x1="585.2" y1="475.7" x2="585.2" y2="478.5" stroke="#1e1e1e" stroke-width="0.7"/>
<text x="585.2" y="482.4" font-size="7.87" text-anchor="middle" fill="#000" stroke="#000" stroke-width="0.12" dominant-baseline="central" transform="translate(585.2 482.4) scale(0.88 1) translate(-585.2 -482.4)">G5</text>
<line x1="594.5" y1="475.7" x2="594.5" y2="478.5" stroke="#1e1e1e" stroke-width="0.7"/>
<text x="594.5" y="482.4" font-size="7.87" text-anchor="middle" fill="#000" stroke="#000" stroke-width="0.12" dominant-baseline="central" transform="translate(594.5 482.4) scale(0.88 1) translate(-594.5 -482.4)">G6</text>
<line x1="549.1" y1="427.2" x2="594.5" y2="427.2" stroke="#333" stroke-width="0.8"/>
<text x="571.6" y="423.6" font-size="7.18" text-anchor="middle" fill="#000" stroke="#000" stroke-width="0.12" dominant-baseline="central" transform="translate(571.6 423.6) scale(0.88 1) translate(-571.6 -423.6)"><tspan font-style="italic">P</tspan> = 0.0004</text>
<line x1="584.8" y1="436.2" x2="594.8" y2="436.2" stroke="#333" stroke-width="0.8"/>
<text x="580.9" y="432" font-size="7.18" text-anchor="middle" fill="#000" stroke="#000" stroke-width="0.12" dominant-baseline="central" transform="translate(580.9 432) scale(0.88 1) translate(-580.9 -432)"><tspan font-style="italic">P</tspan> = 0.0087</text>
<text x="529.3" y="445.1" font-size="7.41" text-anchor="middle" fill="#000" stroke="#000" stroke-width="0.12" dominant-baseline="central" transform="rotate(-90 529.3 445.1) translate(529.3 445.1) scale(0.88 1) translate(-529.3 -445.1)">CD8<tspan font-size="4.23" baseline-shift="2.47">+</tspan>IFN-γ<tspan font-size="4.23" baseline-shift="2.47">+</tspan> of T cell (%)</text>
<text x="601.3" y="411.5" font-size="9.5" text-anchor="middle" font-weight="bold" fill="#000" stroke="#000" stroke-width="0.12" dominant-baseline="central">l</text>
<rect x="626.2" y="467.32" width="6" height="8.88" fill="#fff" stroke="#1a1a1a" stroke-width="0.9"/>
<line x1="629.2" y1="466.84" x2="629.2" y2="467.8" stroke="#1a1a1a" stroke-width="0.8"/>
<line x1="627.9" y1="466.84" x2="630.5" y2="466.84" stroke="#1a1a1a" stroke-width="0.8"/>
<circle cx="629.2" cy="466.91" r="1.05" fill="#1a1a1a"/>
<circle cx="627.6" cy="467.34" r="1.05" fill="#1a1a1a"/>
<circle cx="630.8" cy="467.65" r="1.05" fill="#1a1a1a"/>
<rect x="635.6" y="463.02" width="6" height="13.18" fill="#fff" stroke="#f7701d" stroke-width="0.9"/>
<line x1="638.6" y1="459.49" x2="638.6" y2="466.55" stroke="#f7701d" stroke-width="0.8"/>
<line x1="637.3" y1="459.49" x2="639.9" y2="459.49" stroke="#f7701d" stroke-width="0.8"/>
<circle cx="638.6" cy="460.02" r="1.05" fill="#f7701d"/>
<circle cx="637" cy="463.2" r="1.05" fill="#f7701d"/>
<circle cx="640.2" cy="465.49" r="1.05" fill="#f7701d"/>
<rect x="644.9" y="462.35" width="6" height="13.85" fill="#fff" stroke="#f013f0" stroke-width="0.9"/>
<line x1="647.9" y1="460.2" x2="647.9" y2="464.5" stroke="#f013f0" stroke-width="0.8"/>
<line x1="646.6" y1="460.2" x2="649.2" y2="460.2" stroke="#f013f0" stroke-width="0.8"/>
<circle cx="647.9" cy="460.53" r="1.05" fill="#f013f0"/>
<circle cx="646.3" cy="462.46" r="1.05" fill="#f013f0"/>
<circle cx="649.5" cy="463.86" r="1.05" fill="#f013f0"/>
<rect x="654.2" y="455.19" width="6" height="21.01" fill="#fff" stroke="#1fb51f" stroke-width="0.9"/>
<line x1="657.2" y1="454.81" x2="657.2" y2="455.57" stroke="#1fb51f" stroke-width="0.8"/>
<line x1="655.9" y1="454.81" x2="658.5" y2="454.81" stroke="#1fb51f" stroke-width="0.8"/>
<circle cx="657.2" cy="454.87" r="1.05" fill="#1fb51f"/>
<circle cx="655.6" cy="455.21" r="1.05" fill="#1fb51f"/>
<circle cx="658.8" cy="455.46" r="1.05" fill="#1fb51f"/>
<rect x="663.5" y="455.67" width="6" height="20.53" fill="#fff" stroke="#1c22ee" stroke-width="0.9"/>
<line x1="666.5" y1="454" x2="666.5" y2="457.34" stroke="#1c22ee" stroke-width="0.8"/>
<line x1="665.2" y1="454" x2="667.8" y2="454" stroke="#1c22ee" stroke-width="0.8"/>
<circle cx="666.5" cy="454.25" r="1.05" fill="#1c22ee"/>
<circle cx="664.9" cy="455.75" r="1.05" fill="#1c22ee"/>
<circle cx="668.1" cy="456.84" r="1.05" fill="#1c22ee"/>
<rect x="672.5" y="443.01" width="6" height="33.19" fill="#fff" stroke="#ef1c1c" stroke-width="0.9"/>
<line x1="675.5" y1="439.43" x2="675.5" y2="446.59" stroke="#ef1c1c" stroke-width="0.8"/>
<line x1="674.2" y1="439.43" x2="676.8" y2="439.43" stroke="#ef1c1c" stroke-width="0.8"/>
<circle cx="675.5" cy="439.97" r="1.05" fill="#ef1c1c"/>
<circle cx="673.9" cy="443.19" r="1.05" fill="#ef1c1c"/>
<circle cx="677.1" cy="445.52" r="1.05" fill="#ef1c1c"/>
<rect x="623.5" y="418.9" width="56.6" height="57.3" fill="none" stroke="#1e1e1e" stroke-width="0.9"/>
<line x1="621.1" y1="476.2" x2="623.5" y2="476.2" stroke="#1e1e1e" stroke-width="0.8"/>
<text x="620.3" y="477.2" font-size="7.52" text-anchor="end" fill="#000" stroke="#000" stroke-width="0.12" dominant-baseline="central" transform="translate(620.3 477.2) scale(0.88 1) translate(-620.3 -477.2)">0</text>
<line x1="621.1" y1="447.55" x2="623.5" y2="447.55" stroke="#1e1e1e" stroke-width="0.8"/>
<text x="620.3" y="448.55" font-size="7.52" text-anchor="end" fill="#000" stroke="#000" stroke-width="0.12" dominant-baseline="central" transform="translate(620.3 448.55) scale(0.88 1) translate(-620.3 -448.55)">6</text>
<line x1="621.1" y1="418.9" x2="623.5" y2="418.9" stroke="#1e1e1e" stroke-width="0.8"/>
<text x="620.3" y="419.9" font-size="7.52" text-anchor="end" fill="#000" stroke="#000" stroke-width="0.12" dominant-baseline="central" transform="translate(620.3 419.9) scale(0.88 1) translate(-620.3 -419.9)">12</text>
<line x1="622.1" y1="461.88" x2="623.5" y2="461.88" stroke="#1e1e1e" stroke-width="0.7"/>
<line x1="622.1" y1="433.22" x2="623.5" y2="433.22" stroke="#1e1e1e" stroke-width="0.7"/>
<line x1="629.2" y1="476.2" x2="629.2" y2="479" stroke="#1e1e1e" stroke-width="0.7"/>
<text x="629.2" y="482.4" font-size="7.87" text-anchor="middle" fill="#000" stroke="#000" stroke-width="0.12" dominant-baseline="central" transform="translate(629.2 482.4) scale(0.88 1) translate(-629.2 -482.4)">G1</text>
<line x1="638.6" y1="476.2" x2="638.6" y2="479" stroke="#1e1e1e" stroke-width="0.7"/>
<text x="638.6" y="482.4" font-size="7.87" text-anchor="middle" fill="#000" stroke="#000" stroke-width="0.12" dominant-baseline="central" transform="translate(638.6 482.4) scale(0.88 1) translate(-638.6 -482.4)">G2</text>
<line x1="647.9" y1="476.2" x2="647.9" y2="479" stroke="#1e1e1e" stroke-width="0.7"/>
<text x="647.9" y="482.4" font-size="7.87" text-anchor="middle" fill="#000" stroke="#000" stroke-width="0.12" dominant-baseline="central" transform="translate(647.9 482.4) scale(0.88 1) translate(-647.9 -482.4)">G3</text>
<line x1="657.2" y1="476.2" x2="657.2" y2="479" stroke="#1e1e1e" stroke-width="0.7"/>
<text x="657.2" y="482.4" font-size="7.87" text-anchor="middle" fill="#000" stroke="#000" stroke-width="0.12" dominant-baseline="central" transform="translate(657.2 482.4) scale(0.88 1) translate(-657.2 -482.4)">G4</text>
<line x1="666.5" y1="476.2" x2="666.5" y2="479" stroke="#1e1e1e" stroke-width="0.7"/>
<text x="666.5" y="482.4" font-size="7.87" text-anchor="middle" fill="#000" stroke="#000" stroke-width="0.12" dominant-baseline="central" transform="translate(666.5 482.4) scale(0.88 1) translate(-666.5 -482.4)">G5</text>
<line x1="675.5" y1="476.2" x2="675.5" y2="479" stroke="#1e1e1e" stroke-width="0.7"/>
<text x="675.5" y="482.4" font-size="7.87" text-anchor="middle" fill="#000" stroke="#000" stroke-width="0.12" dominant-baseline="central" transform="translate(675.5 482.4) scale(0.88 1) translate(-675.5 -482.4)">G6</text>
<line x1="629.2" y1="427.5" x2="675.5" y2="427.5" stroke="#333" stroke-width="0.8"/>
<text x="652.2" y="423.6" font-size="7.18" text-anchor="middle" fill="#000" stroke="#000" stroke-width="0.12" dominant-baseline="central" transform="translate(652.2 423.6) scale(0.88 1) translate(-652.2 -423.6)"><tspan font-style="italic">P</tspan> = 0.0002</text>
<line x1="668" y1="436.2" x2="675.8" y2="436.2" stroke="#333" stroke-width="0.8"/>
<text x="662.9" y="432" font-size="7.18" text-anchor="middle" fill="#000" stroke="#000" stroke-width="0.12" dominant-baseline="central" transform="translate(662.9 432) scale(0.88 1) translate(-662.9 -432)"><tspan font-style="italic">P</tspan> = 0.0033</text>
<text x="610.6" y="446.2" font-size="7.3" text-anchor="middle" fill="#000" stroke="#000" stroke-width="0.12" dominant-baseline="central" transform="rotate(-90 610.6 446.2) translate(610.6 446.2) scale(0.88 1) translate(-610.6 -446.2)">CD4<tspan font-size="4.16" baseline-shift="2.43">+</tspan>IFN-γ<tspan font-size="4.16" baseline-shift="2.43">+</tspan> in T cell (%)</text>
<text x="4.7" y="510.9" font-size="9.5" text-anchor="middle" font-weight="bold" fill="#000" stroke="#000" stroke-width="0.12" dominant-baseline="central">m</text>
<rect x="31.65" y="531.94" width="6.7" height="50.36" fill="#fff" stroke="#1a1a1a" stroke-width="0.9"/>
<line x1="35" y1="530.56" x2="35" y2="533.33" stroke="#1a1a1a" stroke-width="0.8"/>
<line x1="33.7" y1="530.56" x2="36.3" y2="530.56" stroke="#1a1a1a" stroke-width="0.8"/>
<circle cx="35" cy="530.76" r="1.35" fill="#1a1a1a"/>
<circle cx="33.4" cy="532.01" r="1.35" fill="#1a1a1a"/>
<circle cx="36.6" cy="532.91" r="1.35" fill="#1a1a1a"/>
<rect x="41.85" y="542.57" width="6.7" height="39.73" fill="#fff" stroke="#f7701d" stroke-width="0.9"/>
<line x1="45.2" y1="536.1" x2="45.2" y2="549.04" stroke="#f7701d" stroke-width="0.8"/>
<line x1="43.9" y1="536.1" x2="46.5" y2="536.1" stroke="#f7701d" stroke-width="0.8"/>
<circle cx="45.2" cy="537.07" r="1.35" fill="#f7701d"/>
<circle cx="43.6" cy="542.89" r="1.35" fill="#f7701d"/>
<circle cx="46.8" cy="547.1" r="1.35" fill="#f7701d"/>
<rect x="52.75" y="542.11" width="6.7" height="40.19" fill="#fff" stroke="#f013f0" stroke-width="0.9"/>
<line x1="56.1" y1="534.25" x2="56.1" y2="549.96" stroke="#f013f0" stroke-width="0.8"/>
<line x1="54.8" y1="534.25" x2="57.4" y2="534.25" stroke="#f013f0" stroke-width="0.8"/>
<circle cx="56.1" cy="535.43" r="1.35" fill="#f013f0"/>
<circle cx="54.5" cy="542.5" r="1.35" fill="#f013f0"/>
<circle cx="57.7" cy="547.6" r="1.35" fill="#f013f0"/>
<rect x="63.75" y="556.89" width="6.7" height="25.41" fill="#fff" stroke="#1fb51f" stroke-width="0.9"/>
<line x1="67.1" y1="552.27" x2="67.1" y2="561.51" stroke="#1fb51f" stroke-width="0.8"/>
<line x1="65.8" y1="552.27" x2="68.4" y2="552.27" stroke="#1fb51f" stroke-width="0.8"/>
<circle cx="67.1" cy="552.96" r="1.35" fill="#1fb51f"/>
<circle cx="65.5" cy="557.12" r="1.35" fill="#1fb51f"/>
<circle cx="68.7" cy="560.12" r="1.35" fill="#1fb51f"/>
<rect x="74.65" y="555.04" width="6.7" height="27.26" fill="#fff" stroke="#1c22ee" stroke-width="0.9"/>
<line x1="78" y1="553.19" x2="78" y2="556.89" stroke="#1c22ee" stroke-width="0.8"/>
<line x1="76.7" y1="553.19" x2="79.3" y2="553.19" stroke="#1c22ee" stroke-width="0.8"/>
<circle cx="78" cy="553.47" r="1.35" fill="#1c22ee"/>
<circle cx="76.4" cy="555.13" r="1.35" fill="#1c22ee"/>
<circle cx="79.6" cy="556.34" r="1.35" fill="#1c22ee"/>
<rect x="85.65" y="567.05" width="6.7" height="15.25" fill="#fff" stroke="#ef1c1c" stroke-width="0.9"/>
<line x1="89" y1="562.9" x2="89" y2="571.21" stroke="#ef1c1c" stroke-width="0.8"/>
<line x1="87.7" y1="562.9" x2="90.3" y2="562.9" stroke="#ef1c1c" stroke-width="0.8"/>
<circle cx="89" cy="563.52" r="1.35" fill="#ef1c1c"/>
<circle cx="87.4" cy="567.26" r="1.35" fill="#ef1c1c"/>
<circle cx="90.6" cy="569.96" r="1.35" fill="#ef1c1c"/>
<rect x="27.2" y="513.1" width="68.8" height="69.2" fill="none" stroke="#1e1e1e" stroke-width="0.9"/>
<line x1="24.8" y1="582.3" x2="27.2" y2="582.3" stroke="#1e1e1e" stroke-width="0.8"/>
<text x="24" y="582.3" font-size="8.32" text-anchor="end" fill="#000" stroke="#000" stroke-width="0.12" dominant-baseline="central" transform="translate(24 582.3) scale(0.88 1) translate(-24 -582.3)">0</text>
<line x1="24.8" y1="559.2" x2="27.2" y2="559.2" stroke="#1e1e1e" stroke-width="0.8"/>
<text x="24" y="559.2" font-size="8.32" text-anchor="end" fill="#000" stroke="#000" stroke-width="0.12" dominant-baseline="central" transform="translate(24 559.2) scale(0.88 1) translate(-24 -559.2)">5</text>
<line x1="24.8" y1="536.1" x2="27.2" y2="536.1" stroke="#1e1e1e" stroke-width="0.8"/>
<text x="24" y="536.1" font-size="8.32" text-anchor="end" fill="#000" stroke="#000" stroke-width="0.12" dominant-baseline="central" transform="translate(24 536.1) scale(0.88 1) translate(-24 -536.1)">10</text>
<line x1="24.8" y1="513" x2="27.2" y2="513" stroke="#1e1e1e" stroke-width="0.8"/>
<text x="24" y="513" font-size="8.32" text-anchor="end" fill="#000" stroke="#000" stroke-width="0.12" dominant-baseline="central" transform="translate(24 513) scale(0.88 1) translate(-24 -513)">15</text>
<line x1="25.8" y1="570.75" x2="27.2" y2="570.75" stroke="#1e1e1e" stroke-width="0.7"/>
<line x1="25.8" y1="547.65" x2="27.2" y2="547.65" stroke="#1e1e1e" stroke-width="0.7"/>
<line x1="25.8" y1="524.55" x2="27.2" y2="524.55" stroke="#1e1e1e" stroke-width="0.7"/>
<line x1="35" y1="582.3" x2="35" y2="585.1" stroke="#1e1e1e" stroke-width="0.7"/>
<text x="35" y="589.2" font-size="9.01" text-anchor="middle" fill="#000" stroke="#000" stroke-width="0.12" dominant-baseline="central" transform="translate(35 589.2) scale(0.88 1) translate(-35 -589.2)">G1</text>
<line x1="45.2" y1="582.3" x2="45.2" y2="585.1" stroke="#1e1e1e" stroke-width="0.7"/>
<text x="45.2" y="589.2" font-size="9.01" text-anchor="middle" fill="#000" stroke="#000" stroke-width="0.12" dominant-baseline="central" transform="translate(45.2 589.2) scale(0.88 1) translate(-45.2 -589.2)">G2</text>
<line x1="56.1" y1="582.3" x2="56.1" y2="585.1" stroke="#1e1e1e" stroke-width="0.7"/>
<text x="56.1" y="589.2" font-size="9.01" text-anchor="middle" fill="#000" stroke="#000" stroke-width="0.12" dominant-baseline="central" transform="translate(56.1 589.2) scale(0.88 1) translate(-56.1 -589.2)">G3</text>
<line x1="67.1" y1="582.3" x2="67.1" y2="585.1" stroke="#1e1e1e" stroke-width="0.7"/>
<text x="67.1" y="589.2" font-size="9.01" text-anchor="middle" fill="#000" stroke="#000" stroke-width="0.12" dominant-baseline="central" transform="translate(67.1 589.2) scale(0.88 1) translate(-67.1 -589.2)">G4</text>
<line x1="78" y1="582.3" x2="78" y2="585.1" stroke="#1e1e1e" stroke-width="0.7"/>
<text x="78" y="589.2" font-size="9.01" text-anchor="middle" fill="#000" stroke="#000" stroke-width="0.12" dominant-baseline="central" transform="translate(78 589.2) scale(0.88 1) translate(-78 -589.2)">G5</text>
<line x1="89" y1="582.3" x2="89" y2="585.1" stroke="#1e1e1e" stroke-width="0.7"/>
<text x="89" y="589.2" font-size="9.01" text-anchor="middle" fill="#000" stroke="#000" stroke-width="0.12" dominant-baseline="central" transform="translate(89 589.2) scale(0.88 1) translate(-89 -589.2)">G6</text>
<line x1="35" y1="523.1" x2="89.7" y2="523.1" stroke="#333" stroke-width="0.8"/>
<text x="64.8" y="518.9" font-size="7.81" text-anchor="middle" fill="#000" stroke="#000" stroke-width="0.12" dominant-baseline="central" transform="translate(64.8 518.9) scale(0.88 1) translate(-64.8 -518.9)"><tspan font-style="italic">P</tspan> = 0.0002</text>
<line x1="80.6" y1="533.3" x2="90.2" y2="533.3" stroke="#333" stroke-width="0.8"/>
<text x="77.1" y="528.9" font-size="7.81" text-anchor="middle" fill="#000" stroke="#000" stroke-width="0.12" dominant-baseline="central" transform="translate(77.1 528.9) scale(0.88 1) translate(-77.1 -528.9)"><tspan font-style="italic">P</tspan> = 0.0166</text>
<text x="11.6" y="546" font-size="8.38" text-anchor="middle" fill="#000" stroke="#000" stroke-width="0.12" dominant-baseline="central" transform="rotate(-90 11.6 546) translate(11.6 546) scale(0.88 1) translate(-11.6 -546)">Treg in T cell (%)</text>
<text x="106.6" y="510.2" font-size="9.5" text-anchor="middle" font-weight="bold" fill="#000" stroke="#000" stroke-width="0.12" dominant-baseline="central">n</text>
<rect x="137.55" y="576" width="6.7" height="7.4" fill="#fff" stroke="#1a1a1a" stroke-width="0.9"/>
<line x1="140.9" y1="574.91" x2="140.9" y2="577.1" stroke="#1a1a1a" stroke-width="0.8"/>
<line x1="139.6" y1="574.91" x2="142.2" y2="574.91" stroke="#1a1a1a" stroke-width="0.8"/>
<circle cx="140.9" cy="575.07" r="1.35" fill="#1a1a1a"/>
<circle cx="139.3" cy="576.06" r="1.35" fill="#1a1a1a"/>
<circle cx="142.5" cy="576.77" r="1.35" fill="#1a1a1a"/>
<rect x="148.75" y="572.44" width="6.7" height="10.96" fill="#fff" stroke="#f7701d" stroke-width="0.9"/>
<line x1="152.1" y1="571.07" x2="152.1" y2="573.81" stroke="#f7701d" stroke-width="0.8"/>
<line x1="150.8" y1="571.07" x2="153.4" y2="571.07" stroke="#f7701d" stroke-width="0.8"/>
<circle cx="152.1" cy="571.28" r="1.35" fill="#f7701d"/>
<circle cx="150.5" cy="572.51" r="1.35" fill="#f7701d"/>
<circle cx="153.7" cy="573.4" r="1.35" fill="#f7701d"/>
<rect x="159.35" y="573.81" width="6.7" height="9.59" fill="#fff" stroke="#f013f0" stroke-width="0.9"/>
<line x1="162.7" y1="571.34" x2="162.7" y2="576.28" stroke="#f013f0" stroke-width="0.8"/>
<line x1="161.4" y1="571.34" x2="164" y2="571.34" stroke="#f013f0" stroke-width="0.8"/>
<circle cx="162.7" cy="571.71" r="1.35" fill="#f013f0"/>
<circle cx="161.1" cy="573.93" r="1.35" fill="#f013f0"/>
<circle cx="164.3" cy="575.54" r="1.35" fill="#f013f0"/>
<rect x="169.85" y="566.96" width="6.7" height="16.44" fill="#fff" stroke="#1fb51f" stroke-width="0.9"/>
<line x1="173.2" y1="562.58" x2="173.2" y2="571.34" stroke="#1fb51f" stroke-width="0.8"/>
<line x1="171.9" y1="562.58" x2="174.5" y2="562.58" stroke="#1fb51f" stroke-width="0.8"/>
<circle cx="173.2" cy="563.23" r="1.35" fill="#1fb51f"/>
<circle cx="171.6" cy="567.18" r="1.35" fill="#1fb51f"/>
<circle cx="174.8" cy="570.03" r="1.35" fill="#1fb51f"/>
<rect x="180.85" y="566.41" width="6.7" height="16.99" fill="#fff" stroke="#1c22ee" stroke-width="0.9"/>
<line x1="184.2" y1="563.67" x2="184.2" y2="569.15" stroke="#1c22ee" stroke-width="0.8"/>
<line x1="182.9" y1="563.67" x2="185.5" y2="563.67" stroke="#1c22ee" stroke-width="0.8"/>
<circle cx="184.2" cy="564.08" r="1.35" fill="#1c22ee"/>
<circle cx="182.6" cy="566.55" r="1.35" fill="#1c22ee"/>
<circle cx="185.8" cy="568.33" r="1.35" fill="#1c22ee"/>
<rect x="191.25" y="551.07" width="6.7" height="32.33" fill="#fff" stroke="#ef1c1c" stroke-width="0.9"/>
<line x1="194.6" y1="548.33" x2="194.6" y2="553.81" stroke="#ef1c1c" stroke-width="0.8"/>
<line x1="193.3" y1="548.33" x2="195.9" y2="548.33" stroke="#ef1c1c" stroke-width="0.8"/>
<circle cx="194.6" cy="548.74" r="1.35" fill="#ef1c1c"/>
<circle cx="193" cy="551.2" r="1.35" fill="#ef1c1c"/>
<circle cx="196.2" cy="552.99" r="1.35" fill="#ef1c1c"/>
<rect x="132.7" y="514.7" width="69.5" height="68.7" fill="none" stroke="#1e1e1e" stroke-width="0.9"/>
<line x1="130.3" y1="583.4" x2="132.7" y2="583.4" stroke="#1e1e1e" stroke-width="0.8"/>
<text x="129.5" y="583.4" font-size="8.32" text-anchor="end" fill="#000" stroke="#000" stroke-width="0.12" dominant-baseline="central" transform="translate(129.5 583.4) scale(0.88 1) translate(-129.5 -583.4)">0</text>
<line x1="130.3" y1="556" x2="132.7" y2="556" stroke="#1e1e1e" stroke-width="0.8"/>
<text x="129.5" y="556" font-size="8.32" text-anchor="end" fill="#000" stroke="#000" stroke-width="0.12" dominant-baseline="central" transform="translate(129.5 556) scale(0.88 1) translate(-129.5 -556)">10</text>
<line x1="130.3" y1="528.6" x2="132.7" y2="528.6" stroke="#1e1e1e" stroke-width="0.8"/>
<text x="129.5" y="528.6" font-size="8.32" text-anchor="end" fill="#000" stroke="#000" stroke-width="0.12" dominant-baseline="central" transform="translate(129.5 528.6) scale(0.88 1) translate(-129.5 -528.6)">20</text>
<line x1="131.3" y1="569.7" x2="132.7" y2="569.7" stroke="#1e1e1e" stroke-width="0.7"/>
<line x1="131.3" y1="542.3" x2="132.7" y2="542.3" stroke="#1e1e1e" stroke-width="0.7"/>
<line x1="140.9" y1="583.4" x2="140.9" y2="586.2" stroke="#1e1e1e" stroke-width="0.7"/>
<text x="140.9" y="589.2" font-size="9.01" text-anchor="middle" fill="#000" stroke="#000" stroke-width="0.12" dominant-baseline="central" transform="translate(140.9 589.2) scale(0.88 1) translate(-140.9 -589.2)">G1</text>
<line x1="152.1" y1="583.4" x2="152.1" y2="586.2" stroke="#1e1e1e" stroke-width="0.7"/>
<text x="152.1" y="589.2" font-size="9.01" text-anchor="middle" fill="#000" stroke="#000" stroke-width="0.12" dominant-baseline="central" transform="translate(152.1 589.2) scale(0.88 1) translate(-152.1 -589.2)">G2</text>
<line x1="162.7" y1="583.4" x2="162.7" y2="586.2" stroke="#1e1e1e" stroke-width="0.7"/>
<text x="162.7" y="589.2" font-size="9.01" text-anchor="middle" fill="#000" stroke="#000" stroke-width="0.12" dominant-baseline="central" transform="translate(162.7 589.2) scale(0.88 1) translate(-162.7 -589.2)">G3</text>
<line x1="173.2" y1="583.4" x2="173.2" y2="586.2" stroke="#1e1e1e" stroke-width="0.7"/>
<text x="173.2" y="589.2" font-size="9.01" text-anchor="middle" fill="#000" stroke="#000" stroke-width="0.12" dominant-baseline="central" transform="translate(173.2 589.2) scale(0.88 1) translate(-173.2 -589.2)">G4</text>
<line x1="184.2" y1="583.4" x2="184.2" y2="586.2" stroke="#1e1e1e" stroke-width="0.7"/>
<text x="184.2" y="589.2" font-size="9.01" text-anchor="middle" fill="#000" stroke="#000" stroke-width="0.12" dominant-baseline="central" transform="translate(184.2 589.2) scale(0.88 1) translate(-184.2 -589.2)">G5</text>
<line x1="194.6" y1="583.4" x2="194.6" y2="586.2" stroke="#1e1e1e" stroke-width="0.7"/>
<text x="194.6" y="589.2" font-size="9.01" text-anchor="middle" fill="#000" stroke="#000" stroke-width="0.12" dominant-baseline="central" transform="translate(194.6 589.2) scale(0.88 1) translate(-194.6 -589.2)">G6</text>
<line x1="140.9" y1="525.1" x2="196" y2="525.1" stroke="#333" stroke-width="0.8"/>
<text x="171.5" y="520.4" font-size="7.81" text-anchor="middle" fill="#000" stroke="#000" stroke-width="0.12" dominant-baseline="central" transform="translate(171.5 520.4) scale(0.88 1) translate(-171.5 -520.4)"><tspan font-style="italic">P</tspan> = 0.0001</text>
<line x1="187.5" y1="534.7" x2="196.5" y2="534.7" stroke="#333" stroke-width="0.8"/>
<text x="183.8" y="530.7" font-size="7.81" text-anchor="middle" fill="#000" stroke="#000" stroke-width="0.12" dominant-baseline="central" transform="translate(183.8 530.7) scale(0.88 1) translate(-183.8 -530.7)"><tspan font-style="italic">P</tspan> = 0.0022</text>
<text x="116.9" y="546.5" font-size="9.01" text-anchor="middle" fill="#000" stroke="#000" stroke-width="0.12" dominant-baseline="central" transform="rotate(-90 116.9 546.5) translate(116.9 546.5) scale(0.88 1) translate(-116.9 -546.5)">CD8<tspan font-size="5.14" baseline-shift="3">+</tspan> T/Treg ratio (%)</text>
<text x="210" y="510.2" font-size="9.5" text-anchor="middle" font-weight="bold" fill="#000" stroke="#000" stroke-width="0.12" dominant-baseline="central">o</text>
<rect x="239.55" y="579.39" width="6.7" height="3.4" fill="#fff" stroke="#1a1a1a" stroke-width="0.9"/>
<line x1="242.9" y1="578.71" x2="242.9" y2="580.08" stroke="#1a1a1a" stroke-width="0.8"/>
<line x1="241.6" y1="578.71" x2="244.2" y2="578.71" stroke="#1a1a1a" stroke-width="0.8"/>
<circle cx="242.9" cy="578.82" r="1.35" fill="#1a1a1a"/>
<circle cx="241.3" cy="579.43" r="1.35" fill="#1a1a1a"/>
<circle cx="244.5" cy="579.87" r="1.35" fill="#1a1a1a"/>
<rect x="250.15" y="577.76" width="6.7" height="5.04" fill="#fff" stroke="#f7701d" stroke-width="0.9"/>
<line x1="253.5" y1="577.35" x2="253.5" y2="578.17" stroke="#f7701d" stroke-width="0.8"/>
<line x1="252.2" y1="577.35" x2="254.8" y2="577.35" stroke="#f7701d" stroke-width="0.8"/>
<circle cx="253.5" cy="577.41" r="1.35" fill="#f7701d"/>
<circle cx="251.9" cy="577.78" r="1.35" fill="#f7701d"/>
<circle cx="255.1" cy="578.05" r="1.35" fill="#f7701d"/>
<rect x="261.05" y="578.44" width="6.7" height="4.36" fill="#fff" stroke="#f013f0" stroke-width="0.9"/>
<line x1="264.4" y1="576.4" x2="264.4" y2="580.48" stroke="#f013f0" stroke-width="0.8"/>
<line x1="263.1" y1="576.4" x2="265.7" y2="576.4" stroke="#f013f0" stroke-width="0.8"/>
<circle cx="264.4" cy="576.71" r="1.35" fill="#f013f0"/>
<circle cx="262.8" cy="578.54" r="1.35" fill="#f013f0"/>
<circle cx="266" cy="579.87" r="1.35" fill="#f013f0"/>
<rect x="271.65" y="570.81" width="6.7" height="11.99" fill="#fff" stroke="#1fb51f" stroke-width="0.9"/>
<line x1="275" y1="566.05" x2="275" y2="575.58" stroke="#1fb51f" stroke-width="0.8"/>
<line x1="273.7" y1="566.05" x2="276.3" y2="566.05" stroke="#1fb51f" stroke-width="0.8"/>
<circle cx="275" cy="566.76" r="1.35" fill="#1fb51f"/>
<circle cx="273.4" cy="571.05" r="1.35" fill="#1fb51f"/>
<circle cx="276.6" cy="574.15" r="1.35" fill="#1fb51f"/>
<rect x="282.45" y="571.22" width="6.7" height="11.58" fill="#fff" stroke="#1c22ee" stroke-width="0.9"/>
<line x1="285.8" y1="567.82" x2="285.8" y2="574.63" stroke="#1c22ee" stroke-width="0.8"/>
<line x1="284.5" y1="567.82" x2="287.1" y2="567.82" stroke="#1c22ee" stroke-width="0.8"/>
<circle cx="285.8" cy="568.33" r="1.35" fill="#1c22ee"/>
<circle cx="284.2" cy="571.39" r="1.35" fill="#1c22ee"/>
<circle cx="287.4" cy="573.61" r="1.35" fill="#1c22ee"/>
<rect x="293.15" y="547.39" width="6.7" height="35.41" fill="#fff" stroke="#ef1c1c" stroke-width="0.9"/>
<line x1="296.5" y1="539.22" x2="296.5" y2="555.56" stroke="#ef1c1c" stroke-width="0.8"/>
<line x1="295.2" y1="539.22" x2="297.8" y2="539.22" stroke="#ef1c1c" stroke-width="0.8"/>
<circle cx="296.5" cy="540.44" r="1.35" fill="#ef1c1c"/>
<circle cx="294.9" cy="547.8" r="1.35" fill="#ef1c1c"/>
<circle cx="298.1" cy="553.11" r="1.35" fill="#ef1c1c"/>
<rect x="236.4" y="513.9" width="66.4" height="68.9" fill="none" stroke="#1e1e1e" stroke-width="0.9"/>
<line x1="234" y1="582.8" x2="236.4" y2="582.8" stroke="#1e1e1e" stroke-width="0.8"/>
<text x="233.2" y="582.8" font-size="8.32" text-anchor="end" fill="#000" stroke="#000" stroke-width="0.12" dominant-baseline="central" transform="translate(233.2 582.8) scale(0.88 1) translate(-233.2 -582.8)">0</text>
<line x1="234" y1="569.18" x2="236.4" y2="569.18" stroke="#1e1e1e" stroke-width="0.8"/>
<text x="233.2" y="569.18" font-size="8.32" text-anchor="end" fill="#000" stroke="#000" stroke-width="0.12" dominant-baseline="central" transform="translate(233.2 569.18) scale(0.88 1) translate(-233.2 -569.18)">1</text>
<line x1="234" y1="555.56" x2="236.4" y2="555.56" stroke="#1e1e1e" stroke-width="0.8"/>
<text x="233.2" y="555.56" font-size="8.32" text-anchor="end" fill="#000" stroke="#000" stroke-width="0.12" dominant-baseline="central" transform="translate(233.2 555.56) scale(0.88 1) translate(-233.2 -555.56)">2</text>
<line x1="234" y1="541.94" x2="236.4" y2="541.94" stroke="#1e1e1e" stroke-width="0.8"/>
<text x="233.2" y="541.94" font-size="8.32" text-anchor="end" fill="#000" stroke="#000" stroke-width="0.12" dominant-baseline="central" transform="translate(233.2 541.94) scale(0.88 1) translate(-233.2 -541.94)">3</text>
<line x1="234" y1="528.32" x2="236.4" y2="528.32" stroke="#1e1e1e" stroke-width="0.8"/>
<text x="233.2" y="528.32" font-size="8.32" text-anchor="end" fill="#000" stroke="#000" stroke-width="0.12" dominant-baseline="central" transform="translate(233.2 528.32) scale(0.88 1) translate(-233.2 -528.32)">4</text>
<line x1="234" y1="514.7" x2="236.4" y2="514.7" stroke="#1e1e1e" stroke-width="0.8"/>
<text x="233.2" y="514.7" font-size="8.32" text-anchor="end" fill="#000" stroke="#000" stroke-width="0.12" dominant-baseline="central" transform="translate(233.2 514.7) scale(0.88 1) translate(-233.2 -514.7)">5</text>
<line x1="235" y1="575.99" x2="236.4" y2="575.99" stroke="#1e1e1e" stroke-width="0.7"/>
<line x1="235" y1="562.37" x2="236.4" y2="562.37" stroke="#1e1e1e" stroke-width="0.7"/>
<line x1="235" y1="548.75" x2="236.4" y2="548.75" stroke="#1e1e1e" stroke-width="0.7"/>
<line x1="235" y1="535.13" x2="236.4" y2="535.13" stroke="#1e1e1e" stroke-width="0.7"/>
<line x1="235" y1="521.51" x2="236.4" y2="521.51" stroke="#1e1e1e" stroke-width="0.7"/>
<line x1="242.9" y1="582.8" x2="242.9" y2="585.6" stroke="#1e1e1e" stroke-width="0.7"/>
<text x="242.9" y="589.2" font-size="9.01" text-anchor="middle" fill="#000" stroke="#000" stroke-width="0.12" dominant-baseline="central" transform="translate(242.9 589.2) scale(0.88 1) translate(-242.9 -589.2)">G1</text>
<line x1="253.5" y1="582.8" x2="253.5" y2="585.6" stroke="#1e1e1e" stroke-width="0.7"/>
<text x="253.5" y="589.2" font-size="9.01" text-anchor="middle" fill="#000" stroke="#000" stroke-width="0.12" dominant-baseline="central" transform="translate(253.5 589.2) scale(0.88 1) translate(-253.5 -589.2)">G2</text>
<line x1="264.4" y1="582.8" x2="264.4" y2="585.6" stroke="#1e1e1e" stroke-width="0.7"/>
<text x="264.4" y="589.2" font-size="9.01" text-anchor="middle" fill="#000" stroke="#000" stroke-width="0.12" dominant-baseline="central" transform="translate(264.4 589.2) scale(0.88 1) translate(-264.4 -589.2)">G3</text>
<line x1="275" y1="582.8" x2="275" y2="585.6" stroke="#1e1e1e" stroke-width="0.7"/>
<text x="275" y="589.2" font-size="9.01" text-anchor="middle" fill="#000" stroke="#000" stroke-width="0.12" dominant-baseline="central" transform="translate(275 589.2) scale(0.88 1) translate(-275 -589.2)">G4</text>
<line x1="285.8" y1="582.8" x2="285.8" y2="585.6" stroke="#1e1e1e" stroke-width="0.7"/>
<text x="285.8" y="589.2" font-size="9.01" text-anchor="middle" fill="#000" stroke="#000" stroke-width="0.12" dominant-baseline="central" transform="translate(285.8 589.2) scale(0.88 1) translate(-285.8 -589.2)">G5</text>
<line x1="296.5" y1="582.8" x2="296.5" y2="585.6" stroke="#1e1e1e" stroke-width="0.7"/>
<text x="296.5" y="589.2" font-size="9.01" text-anchor="middle" fill="#000" stroke="#000" stroke-width="0.12" dominant-baseline="central" transform="translate(296.5 589.2) scale(0.88 1) translate(-296.5 -589.2)">G6</text>
<line x1="242.9" y1="525.1" x2="297.7" y2="525.1" stroke="#333" stroke-width="0.8"/>
<text x="270.5" y="520.4" font-size="7.81" text-anchor="middle" fill="#000" stroke="#000" stroke-width="0.12" dominant-baseline="central" transform="translate(270.5 520.4) scale(0.88 1) translate(-270.5 -520.4)"><tspan font-style="italic">P</tspan> = 0.0016</text>
<line x1="288.3" y1="534.7" x2="297.7" y2="534.7" stroke="#333" stroke-width="0.8"/>
<text x="284.8" y="530.7" font-size="7.81" text-anchor="middle" fill="#000" stroke="#000" stroke-width="0.12" dominant-baseline="central" transform="translate(284.8 530.7) scale(0.88 1) translate(-284.8 -530.7)"><tspan font-style="italic">P</tspan> = 0.0067</text>
<text x="220.4" y="545" font-size="9.06" text-anchor="middle" fill="#000" stroke="#000" stroke-width="0.12" dominant-baseline="central" transform="rotate(-90 220.4 545) translate(220.4 545) scale(0.88 1) translate(-220.4 -545)">Th1/Treg ratio (%)</text>
<text x="312.4" y="511.2" font-size="9.5" text-anchor="middle" font-weight="bold" fill="#000" stroke="#000" stroke-width="0.12" dominant-baseline="central">p</text>
<rect x="346.25" y="566.59" width="6.7" height="16.21" fill="#fff" stroke="#1a1a1a" stroke-width="0.9"/>
<line x1="349.6" y1="564.85" x2="349.6" y2="568.32" stroke="#1a1a1a" stroke-width="0.8"/>
<line x1="348.3" y1="564.85" x2="350.9" y2="564.85" stroke="#1a1a1a" stroke-width="0.8"/>
<circle cx="349.6" cy="565.11" r="1.35" fill="#1a1a1a"/>
<circle cx="348" cy="566.67" r="1.35" fill="#1a1a1a"/>
<circle cx="351.2" cy="567.8" r="1.35" fill="#1a1a1a"/>
<rect x="356.85" y="563.69" width="6.7" height="19.11" fill="#fff" stroke="#f7701d" stroke-width="0.9"/>
<line x1="360.2" y1="562.53" x2="360.2" y2="564.85" stroke="#f7701d" stroke-width="0.8"/>
<line x1="358.9" y1="562.53" x2="361.5" y2="562.53" stroke="#f7701d" stroke-width="0.8"/>
<circle cx="360.2" cy="562.71" r="1.35" fill="#f7701d"/>
<circle cx="358.6" cy="563.75" r="1.35" fill="#f7701d"/>
<circle cx="361.8" cy="564.5" r="1.35" fill="#f7701d"/>
<rect x="367.45" y="562.53" width="6.7" height="20.26" fill="#fff" stroke="#f013f0" stroke-width="0.9"/>
<line x1="370.8" y1="561.96" x2="370.8" y2="563.11" stroke="#f013f0" stroke-width="0.8"/>
<line x1="369.5" y1="561.96" x2="372.1" y2="561.96" stroke="#f013f0" stroke-width="0.8"/>
<circle cx="370.8" cy="562.04" r="1.35" fill="#f013f0"/>
<circle cx="369.2" cy="562.56" r="1.35" fill="#f013f0"/>
<circle cx="372.4" cy="562.94" r="1.35" fill="#f013f0"/>
<rect x="378.95" y="550.38" width="6.7" height="32.42" fill="#fff" stroke="#1fb51f" stroke-width="0.9"/>
<line x1="382.3" y1="548.64" x2="382.3" y2="552.11" stroke="#1fb51f" stroke-width="0.8"/>
<line x1="381" y1="548.64" x2="383.6" y2="548.64" stroke="#1fb51f" stroke-width="0.8"/>
<circle cx="382.3" cy="548.9" r="1.35" fill="#1fb51f"/>
<circle cx="380.7" cy="550.46" r="1.35" fill="#1fb51f"/>
<circle cx="383.9" cy="551.59" r="1.35" fill="#1fb51f"/>
<rect x="389.55" y="549.22" width="6.7" height="33.58" fill="#fff" stroke="#1c22ee" stroke-width="0.9"/>
<line x1="392.9" y1="548.64" x2="392.9" y2="549.8" stroke="#1c22ee" stroke-width="0.8"/>
<line x1="391.6" y1="548.64" x2="394.2" y2="548.64" stroke="#1c22ee" stroke-width="0.8"/>
<circle cx="392.9" cy="548.73" r="1.35" fill="#1c22ee"/>
<circle cx="391.3" cy="549.25" r="1.35" fill="#1c22ee"/>
<circle cx="394.5" cy="549.62" r="1.35" fill="#1c22ee"/>
<rect x="400.35" y="541.69" width="6.7" height="41.11" fill="#fff" stroke="#ef1c1c" stroke-width="0.9"/>
<line x1="403.7" y1="540.76" x2="403.7" y2="542.62" stroke="#ef1c1c" stroke-width="0.8"/>
<line x1="402.4" y1="540.76" x2="405" y2="540.76" stroke="#ef1c1c" stroke-width="0.8"/>
<circle cx="403.7" cy="540.9" r="1.35" fill="#ef1c1c"/>
<circle cx="402.1" cy="541.74" r="1.35" fill="#ef1c1c"/>
<circle cx="405.3" cy="542.34" r="1.35" fill="#ef1c1c"/>
<rect x="342.8" y="513.3" width="68.5" height="69.5" fill="none" stroke="#1e1e1e" stroke-width="0.9"/>
<line x1="340.4" y1="582.8" x2="342.8" y2="582.8" stroke="#1e1e1e" stroke-width="0.8"/>
<text x="339.6" y="582.8" font-size="8.32" text-anchor="end" fill="#000" stroke="#000" stroke-width="0.12" dominant-baseline="central" transform="translate(339.6 582.8) scale(0.88 1) translate(-339.6 -582.8)">0</text>
<line x1="340.4" y1="559.64" x2="342.8" y2="559.64" stroke="#1e1e1e" stroke-width="0.8"/>
<text x="339.6" y="559.64" font-size="8.32" text-anchor="end" fill="#000" stroke="#000" stroke-width="0.12" dominant-baseline="central" transform="translate(339.6 559.64) scale(0.88 1) translate(-339.6 -559.64)">2</text>
<line x1="340.4" y1="536.48" x2="342.8" y2="536.48" stroke="#1e1e1e" stroke-width="0.8"/>
<text x="339.6" y="536.48" font-size="8.32" text-anchor="end" fill="#000" stroke="#000" stroke-width="0.12" dominant-baseline="central" transform="translate(339.6 536.48) scale(0.88 1) translate(-339.6 -536.48)">4</text>
<line x1="340.4" y1="513.32" x2="342.8" y2="513.32" stroke="#1e1e1e" stroke-width="0.8"/>
<text x="339.6" y="513.32" font-size="8.32" text-anchor="end" fill="#000" stroke="#000" stroke-width="0.12" dominant-baseline="central" transform="translate(339.6 513.32) scale(0.88 1) translate(-339.6 -513.32)">6</text>
<line x1="341.4" y1="571.22" x2="342.8" y2="571.22" stroke="#1e1e1e" stroke-width="0.7"/>
<line x1="341.4" y1="548.06" x2="342.8" y2="548.06" stroke="#1e1e1e" stroke-width="0.7"/>
<line x1="341.4" y1="524.9" x2="342.8" y2="524.9" stroke="#1e1e1e" stroke-width="0.7"/>
<line x1="349.6" y1="582.8" x2="349.6" y2="585.6" stroke="#1e1e1e" stroke-width="0.7"/>
<text x="349.6" y="589.2" font-size="9.01" text-anchor="middle" fill="#000" stroke="#000" stroke-width="0.12" dominant-baseline="central" transform="translate(349.6 589.2) scale(0.88 1) translate(-349.6 -589.2)">G1</text>
<line x1="360.2" y1="582.8" x2="360.2" y2="585.6" stroke="#1e1e1e" stroke-width="0.7"/>
<text x="360.2" y="589.2" font-size="9.01" text-anchor="middle" fill="#000" stroke="#000" stroke-width="0.12" dominant-baseline="central" transform="translate(360.2 589.2) scale(0.88 1) translate(-360.2 -589.2)">G2</text>
<line x1="370.8" y1="582.8" x2="370.8" y2="585.6" stroke="#1e1e1e" stroke-width="0.7"/>
<text x="370.8" y="589.2" font-size="9.01" text-anchor="middle" fill="#000" stroke="#000" stroke-width="0.12" dominant-baseline="central" transform="translate(370.8 589.2) scale(0.88 1) translate(-370.8 -589.2)">G3</text>
<line x1="382.3" y1="582.8" x2="382.3" y2="585.6" stroke="#1e1e1e" stroke-width="0.7"/>
<text x="382.3" y="589.2" font-size="9.01" text-anchor="middle" fill="#000" stroke="#000" stroke-width="0.12" dominant-baseline="central" transform="translate(382.3 589.2) scale(0.88 1) translate(-382.3 -589.2)">G4</text>
<line x1="392.9" y1="582.8" x2="392.9" y2="585.6" stroke="#1e1e1e" stroke-width="0.7"/>
<text x="392.9" y="589.2" font-size="9.01" text-anchor="middle" fill="#000" stroke="#000" stroke-width="0.12" dominant-baseline="central" transform="translate(392.9 589.2) scale(0.88 1) translate(-392.9 -589.2)">G5</text>
<line x1="403.7" y1="582.8" x2="403.7" y2="585.6" stroke="#1e1e1e" stroke-width="0.7"/>
<text x="403.7" y="589.2" font-size="9.01" text-anchor="middle" fill="#000" stroke="#000" stroke-width="0.12" dominant-baseline="central" transform="translate(403.7 589.2) scale(0.88 1) translate(-403.7 -589.2)">G6</text>
<line x1="349.6" y1="525.5" x2="404.1" y2="525.5" stroke="#333" stroke-width="0.8"/>
<text x="379.6" y="520.4" font-size="7.81" text-anchor="middle" fill="#000" stroke="#000" stroke-width="0.12" dominant-baseline="central" transform="translate(379.6 520.4) scale(0.88 1) translate(-379.6 -520.4)"><tspan font-style="italic">P</tspan> &lt; 0.0001</text>
<line x1="394.5" y1="535.2" x2="404.1" y2="535.2" stroke="#333" stroke-width="0.8"/>
<text x="392.9" y="530.7" font-size="7.81" text-anchor="middle" fill="#000" stroke="#000" stroke-width="0.12" dominant-baseline="central" transform="translate(392.9 530.7) scale(0.88 1) translate(-392.9 -530.7)"><tspan font-style="italic">P</tspan> = 0.0010</text>
<text x="324.4" y="545" font-size="8.89" text-anchor="middle" fill="#000" stroke="#000" stroke-width="0.12" dominant-baseline="central" transform="rotate(-90 324.4 545) translate(324.4 545) scale(0.88 1) translate(-324.4 -545)">NK in CD45<tspan font-size="5.07" baseline-shift="2.96">+</tspan> cell (%)</text>
<text x="421.8" y="511.2" font-size="9.5" text-anchor="middle" font-weight="bold" fill="#000" stroke="#000" stroke-width="0.12" dominant-baseline="central">q</text>
<rect x="456.65" y="565.63" width="6.9" height="17.17" fill="#fff" stroke="#1a1a1a" stroke-width="0.9"/>
<line x1="460.1" y1="564.92" x2="460.1" y2="566.33" stroke="#1a1a1a" stroke-width="0.8"/>
<line x1="458.8" y1="564.92" x2="461.4" y2="564.92" stroke="#1a1a1a" stroke-width="0.8"/>
<circle cx="460.1" cy="565.03" r="1.35" fill="#1a1a1a"/>
<circle cx="458.5" cy="565.66" r="1.35" fill="#1a1a1a"/>
<circle cx="461.7" cy="566.12" r="1.35" fill="#1a1a1a"/>
<rect x="467.45" y="565.27" width="6.9" height="17.52" fill="#fff" stroke="#f7701d" stroke-width="0.9"/>
<line x1="470.9" y1="564.57" x2="470.9" y2="565.98" stroke="#f7701d" stroke-width="0.8"/>
<line x1="469.6" y1="564.57" x2="472.2" y2="564.57" stroke="#f7701d" stroke-width="0.8"/>
<circle cx="470.9" cy="564.68" r="1.35" fill="#f7701d"/>
<circle cx="469.3" cy="565.31" r="1.35" fill="#f7701d"/>
<circle cx="472.5" cy="565.77" r="1.35" fill="#f7701d"/>
<rect x="478.45" y="562.47" width="6.9" height="20.33" fill="#fff" stroke="#f013f0" stroke-width="0.9"/>
<line x1="481.9" y1="561.07" x2="481.9" y2="563.87" stroke="#f013f0" stroke-width="0.8"/>
<line x1="480.6" y1="561.07" x2="483.2" y2="561.07" stroke="#f013f0" stroke-width="0.8"/>
<circle cx="481.9" cy="561.28" r="1.35" fill="#f013f0"/>
<circle cx="480.3" cy="562.54" r="1.35" fill="#f013f0"/>
<circle cx="483.5" cy="563.45" r="1.35" fill="#f013f0"/>
<rect x="489.35" y="550.9" width="6.9" height="31.9" fill="#fff" stroke="#1fb51f" stroke-width="0.9"/>
<line x1="492.8" y1="549.85" x2="492.8" y2="551.96" stroke="#1fb51f" stroke-width="0.8"/>
<line x1="491.5" y1="549.85" x2="494.1" y2="549.85" stroke="#1fb51f" stroke-width="0.8"/>
<circle cx="492.8" cy="550.01" r="1.35" fill="#1fb51f"/>
<circle cx="491.2" cy="550.96" r="1.35" fill="#1fb51f"/>
<circle cx="494.4" cy="551.64" r="1.35" fill="#1fb51f"/>
<rect x="500.55" y="550.2" width="6.9" height="32.6" fill="#fff" stroke="#1c22ee" stroke-width="0.9"/>
<line x1="504" y1="548.45" x2="504" y2="551.96" stroke="#1c22ee" stroke-width="0.8"/>
<line x1="502.7" y1="548.45" x2="505.3" y2="548.45" stroke="#1c22ee" stroke-width="0.8"/>
<circle cx="504" cy="548.71" r="1.35" fill="#1c22ee"/>
<circle cx="502.4" cy="550.29" r="1.35" fill="#1c22ee"/>
<circle cx="505.6" cy="551.43" r="1.35" fill="#1c22ee"/>
<rect x="511.35" y="538.29" width="6.9" height="44.51" fill="#fff" stroke="#ef1c1c" stroke-width="0.9"/>
<line x1="514.8" y1="533.03" x2="514.8" y2="543.54" stroke="#ef1c1c" stroke-width="0.8"/>
<line x1="513.5" y1="533.03" x2="516.1" y2="533.03" stroke="#ef1c1c" stroke-width="0.8"/>
<circle cx="514.8" cy="533.82" r="1.35" fill="#ef1c1c"/>
<circle cx="513.2" cy="538.55" r="1.35" fill="#ef1c1c"/>
<circle cx="516.4" cy="541.97" r="1.35" fill="#ef1c1c"/>
<rect x="450.9" y="512.7" width="71.5" height="70.1" fill="none" stroke="#1e1e1e" stroke-width="0.9"/>
<line x1="448.5" y1="582.8" x2="450.9" y2="582.8" stroke="#1e1e1e" stroke-width="0.8"/>
<text x="447.7" y="582.8" font-size="8.32" text-anchor="end" fill="#000" stroke="#000" stroke-width="0.12" dominant-baseline="central" transform="translate(447.7 582.8) scale(0.88 1) translate(-447.7 -582.8)">0</text>
<line x1="448.5" y1="565.27" x2="450.9" y2="565.27" stroke="#1e1e1e" stroke-width="0.8"/>
<text x="447.7" y="565.27" font-size="8.32" text-anchor="end" fill="#000" stroke="#000" stroke-width="0.12" dominant-baseline="central" transform="translate(447.7 565.27) scale(0.88 1) translate(-447.7 -565.27)">5</text>
<line x1="448.5" y1="547.75" x2="450.9" y2="547.75" stroke="#1e1e1e" stroke-width="0.8"/>
<text x="447.7" y="547.75" font-size="8.32" text-anchor="end" fill="#000" stroke="#000" stroke-width="0.12" dominant-baseline="central" transform="translate(447.7 547.75) scale(0.88 1) translate(-447.7 -547.75)">10</text>
<line x1="448.5" y1="530.22" x2="450.9" y2="530.22" stroke="#1e1e1e" stroke-width="0.8"/>
<text x="447.7" y="530.22" font-size="8.32" text-anchor="end" fill="#000" stroke="#000" stroke-width="0.12" dominant-baseline="central" transform="translate(447.7 530.22) scale(0.88 1) translate(-447.7 -530.22)">15</text>
<line x1="448.5" y1="512.7" x2="450.9" y2="512.7" stroke="#1e1e1e" stroke-width="0.8"/>
<text x="447.7" y="512.7" font-size="8.32" text-anchor="end" fill="#000" stroke="#000" stroke-width="0.12" dominant-baseline="central" transform="translate(447.7 512.7) scale(0.88 1) translate(-447.7 -512.7)">20</text>
<line x1="449.5" y1="574.04" x2="450.9" y2="574.04" stroke="#1e1e1e" stroke-width="0.7"/>
<line x1="449.5" y1="556.51" x2="450.9" y2="556.51" stroke="#1e1e1e" stroke-width="0.7"/>
<line x1="449.5" y1="538.99" x2="450.9" y2="538.99" stroke="#1e1e1e" stroke-width="0.7"/>
<line x1="449.5" y1="521.46" x2="450.9" y2="521.46" stroke="#1e1e1e" stroke-width="0.7"/>
<line x1="460.1" y1="582.8" x2="460.1" y2="585.6" stroke="#1e1e1e" stroke-width="0.7"/>
<text x="460.1" y="589.2" font-size="9.01" text-anchor="middle" fill="#000" stroke="#000" stroke-width="0.12" dominant-baseline="central" transform="translate(460.1 589.2) scale(0.88 1) translate(-460.1 -589.2)">G1</text>
<line x1="470.9" y1="582.8" x2="470.9" y2="585.6" stroke="#1e1e1e" stroke-width="0.7"/>
<text x="470.9" y="589.2" font-size="9.01" text-anchor="middle" fill="#000" stroke="#000" stroke-width="0.12" dominant-baseline="central" transform="translate(470.9 589.2) scale(0.88 1) translate(-470.9 -589.2)">G2</text>
<line x1="481.9" y1="582.8" x2="481.9" y2="585.6" stroke="#1e1e1e" stroke-width="0.7"/>
<text x="481.9" y="589.2" font-size="9.01" text-anchor="middle" fill="#000" stroke="#000" stroke-width="0.12" dominant-baseline="central" transform="translate(481.9 589.2) scale(0.88 1) translate(-481.9 -589.2)">G3</text>
<line x1="492.8" y1="582.8" x2="492.8" y2="585.6" stroke="#1e1e1e" stroke-width="0.7"/>
<text x="492.8" y="589.2" font-size="9.01" text-anchor="middle" fill="#000" stroke="#000" stroke-width="0.12" dominant-baseline="central" transform="translate(492.8 589.2) scale(0.88 1) translate(-492.8 -589.2)">G4</text>
<line x1="504" y1="582.8" x2="504" y2="585.6" stroke="#1e1e1e" stroke-width="0.7"/>
<text x="504" y="589.2" font-size="9.01" text-anchor="middle" fill="#000" stroke="#000" stroke-width="0.12" dominant-baseline="central" transform="translate(504 589.2) scale(0.88 1) translate(-504 -589.2)">G5</text>
<line x1="514.8" y1="582.8" x2="514.8" y2="585.6" stroke="#1e1e1e" stroke-width="0.7"/>
<text x="514.8" y="589.2" font-size="9.01" text-anchor="middle" fill="#000" stroke="#000" stroke-width="0.12" dominant-baseline="central" transform="translate(514.8 589.2) scale(0.88 1) translate(-514.8 -589.2)">G6</text>
<line x1="458" y1="521" x2="513.8" y2="521" stroke="#333" stroke-width="0.8"/>
<text x="487.7" y="517.4" font-size="7.81" text-anchor="middle" fill="#000" stroke="#000" stroke-width="0.12" dominant-baseline="central" transform="translate(487.7 517.4) scale(0.88 1) translate(-487.7 -517.4)"><tspan font-style="italic">P</tspan> = 0.0007</text>
<line x1="504" y1="530.7" x2="513.2" y2="530.7" stroke="#333" stroke-width="0.8"/>
<text x="503" y="526.2" font-size="7.81" text-anchor="middle" fill="#000" stroke="#000" stroke-width="0.12" dominant-baseline="central" transform="translate(503 526.2) scale(0.88 1) translate(-503 -526.2)"><tspan font-style="italic">P</tspan> = 0.0166</text>
<text x="432.5" y="545.5" font-size="8.83" text-anchor="middle" fill="#000" stroke="#000" stroke-width="0.12" dominant-baseline="central" transform="rotate(-90 432.5 545.5) translate(432.5 545.5) scale(0.88 1) translate(-432.5 -545.5)">IFN-γ<tspan font-size="5.04" baseline-shift="2.94">+</tspan> in NK cell (%)</text>
<text x="542.2" y="510.4" font-size="9.5" text-anchor="middle" font-weight="bold" fill="#000" stroke="#000" stroke-width="0.12" dominant-baseline="central">r</text>
<rect x="573.6" y="578.14" width="5.6" height="3.06" fill="#fff" stroke="#1a1a1a" stroke-width="0.9"/>
<line x1="576.4" y1="577.45" x2="576.4" y2="578.82" stroke="#1a1a1a" stroke-width="0.8"/>
<line x1="575.1" y1="577.45" x2="577.7" y2="577.45" stroke="#1a1a1a" stroke-width="0.8"/>
<circle cx="576.4" cy="577.56" r="1.1" fill="#1a1a1a"/>
<circle cx="574.8" cy="578.17" r="1.1" fill="#1a1a1a"/>
<circle cx="578" cy="578.61" r="1.1" fill="#1a1a1a"/>
<rect x="580" y="574.84" width="5.6" height="6.36" fill="#fff" stroke="#f7701d" stroke-width="0.9"/>
<line x1="582.8" y1="574.39" x2="582.8" y2="575.3" stroke="#f7701d" stroke-width="0.8"/>
<line x1="581.5" y1="574.39" x2="584.1" y2="574.39" stroke="#f7701d" stroke-width="0.8"/>
<circle cx="582.8" cy="574.46" r="1.1" fill="#f7701d"/>
<circle cx="581.2" cy="574.87" r="1.1" fill="#f7701d"/>
<circle cx="584.4" cy="575.16" r="1.1" fill="#f7701d"/>
<rect x="591" y="578.02" width="5.6" height="3.18" fill="#fff" stroke="#1a1a1a" stroke-width="0.9"/>
<line x1="593.8" y1="577.34" x2="593.8" y2="578.7" stroke="#1a1a1a" stroke-width="0.8"/>
<line x1="592.5" y1="577.34" x2="595.1" y2="577.34" stroke="#1a1a1a" stroke-width="0.8"/>
<circle cx="593.8" cy="577.44" r="1.1" fill="#1a1a1a"/>
<circle cx="592.2" cy="578.06" r="1.1" fill="#1a1a1a"/>
<circle cx="595.4" cy="578.5" r="1.1" fill="#1a1a1a"/>
<rect x="597.4" y="574.84" width="5.6" height="6.36" fill="#fff" stroke="#f7701d" stroke-width="0.9"/>
<line x1="600.2" y1="574.39" x2="600.2" y2="575.3" stroke="#f7701d" stroke-width="0.8"/>
<line x1="598.9" y1="574.39" x2="601.5" y2="574.39" stroke="#f7701d" stroke-width="0.8"/>
<circle cx="600.2" cy="574.46" r="1.1" fill="#f7701d"/>
<circle cx="598.6" cy="574.87" r="1.1" fill="#f7701d"/>
<circle cx="601.8" cy="575.16" r="1.1" fill="#f7701d"/>
<rect x="608.8" y="574.62" width="5.6" height="6.58" fill="#fff" stroke="#1a1a1a" stroke-width="0.9"/>
<line x1="611.6" y1="573.25" x2="611.6" y2="575.98" stroke="#1a1a1a" stroke-width="0.8"/>
<line x1="610.3" y1="573.25" x2="612.9" y2="573.25" stroke="#1a1a1a" stroke-width="0.8"/>
<circle cx="611.6" cy="573.46" r="1.1" fill="#1a1a1a"/>
<circle cx="610" cy="574.69" r="1.1" fill="#1a1a1a"/>
<circle cx="613.2" cy="575.57" r="1.1" fill="#1a1a1a"/>
<rect x="615.2" y="571.21" width="5.6" height="9.99" fill="#fff" stroke="#f7701d" stroke-width="0.9"/>
<line x1="618" y1="568.26" x2="618" y2="574.16" stroke="#f7701d" stroke-width="0.8"/>
<line x1="616.7" y1="568.26" x2="619.3" y2="568.26" stroke="#f7701d" stroke-width="0.8"/>
<circle cx="618" cy="568.7" r="1.1" fill="#f7701d"/>
<circle cx="616.4" cy="571.36" r="1.1" fill="#f7701d"/>
<circle cx="619.6" cy="573.28" r="1.1" fill="#f7701d"/>
<rect x="625.6" y="566.22" width="5.6" height="14.98" fill="#fff" stroke="#1a1a1a" stroke-width="0.9"/>
<line x1="628.4" y1="565.54" x2="628.4" y2="566.9" stroke="#1a1a1a" stroke-width="0.8"/>
<line x1="627.1" y1="565.54" x2="629.7" y2="565.54" stroke="#1a1a1a" stroke-width="0.8"/>
<circle cx="628.4" cy="565.64" r="1.1" fill="#1a1a1a"/>
<circle cx="626.8" cy="566.25" r="1.1" fill="#1a1a1a"/>
<circle cx="630" cy="566.69" r="1.1" fill="#1a1a1a"/>
<rect x="632" y="562.13" width="5.6" height="19.07" fill="#fff" stroke="#f7701d" stroke-width="0.9"/>
<line x1="634.8" y1="561.45" x2="634.8" y2="562.81" stroke="#f7701d" stroke-width="0.8"/>
<line x1="633.5" y1="561.45" x2="636.1" y2="561.45" stroke="#f7701d" stroke-width="0.8"/>
<circle cx="634.8" cy="561.55" r="1.1" fill="#f7701d"/>
<circle cx="633.2" cy="562.17" r="1.1" fill="#f7701d"/>
<circle cx="636.4" cy="562.61" r="1.1" fill="#f7701d"/>
<rect x="643" y="573.03" width="5.6" height="8.17" fill="#fff" stroke="#1a1a1a" stroke-width="0.9"/>
<line x1="645.8" y1="570.99" x2="645.8" y2="575.07" stroke="#1a1a1a" stroke-width="0.8"/>
<line x1="644.5" y1="570.99" x2="647.1" y2="570.99" stroke="#1a1a1a" stroke-width="0.8"/>
<circle cx="645.8" cy="571.29" r="1.1" fill="#1a1a1a"/>
<circle cx="644.2" cy="573.13" r="1.1" fill="#1a1a1a"/>
<circle cx="647.4" cy="574.46" r="1.1" fill="#1a1a1a"/>
<rect x="649.4" y="565.31" width="5.6" height="15.89" fill="#fff" stroke="#f7701d" stroke-width="0.9"/>
<line x1="652.2" y1="564.18" x2="652.2" y2="566.45" stroke="#f7701d" stroke-width="0.8"/>
<line x1="650.9" y1="564.18" x2="653.5" y2="564.18" stroke="#f7701d" stroke-width="0.8"/>
<circle cx="652.2" cy="564.35" r="1.1" fill="#f7701d"/>
<circle cx="650.6" cy="565.37" r="1.1" fill="#f7701d"/>
<circle cx="653.8" cy="566.1" r="1.1" fill="#f7701d"/>
<rect x="660.8" y="562.13" width="5.6" height="19.07" fill="#fff" stroke="#1a1a1a" stroke-width="0.9"/>
<line x1="663.6" y1="561" x2="663.6" y2="563.27" stroke="#1a1a1a" stroke-width="0.8"/>
<line x1="662.3" y1="561" x2="664.9" y2="561" stroke="#1a1a1a" stroke-width="0.8"/>
<circle cx="663.6" cy="561.17" r="1.1" fill="#1a1a1a"/>
<circle cx="662" cy="562.19" r="1.1" fill="#1a1a1a"/>
<circle cx="665.2" cy="562.93" r="1.1" fill="#1a1a1a"/>
<rect x="667.2" y="547.83" width="5.6" height="33.37" fill="#fff" stroke="#f7701d" stroke-width="0.9"/>
<line x1="670" y1="538.3" x2="670" y2="557.37" stroke="#f7701d" stroke-width="0.8"/>
<line x1="668.7" y1="538.3" x2="671.3" y2="538.3" stroke="#f7701d" stroke-width="0.8"/>
<circle cx="670" cy="539.73" r="1.1" fill="#f7701d"/>
<circle cx="668.4" cy="548.31" r="1.1" fill="#f7701d"/>
<circle cx="671.6" cy="554.5" r="1.1" fill="#f7701d"/>
<rect x="570.6" y="513.1" width="105.6" height="68.1" fill="none" stroke="#1e1e1e" stroke-width="0.9"/>
<line x1="568.2" y1="581.2" x2="570.6" y2="581.2" stroke="#1e1e1e" stroke-width="0.8"/>
<text x="567.4" y="581.2" font-size="8.32" text-anchor="end" fill="#000" stroke="#000" stroke-width="0.12" dominant-baseline="central" transform="translate(567.4 581.2) scale(0.88 1) translate(-567.4 -581.2)">0</text>
<line x1="568.2" y1="558.5" x2="570.6" y2="558.5" stroke="#1e1e1e" stroke-width="0.8"/>
<text x="567.4" y="558.5" font-size="8.32" text-anchor="end" fill="#000" stroke="#000" stroke-width="0.12" dominant-baseline="central" transform="translate(567.4 558.5) scale(0.88 1) translate(-567.4 -558.5)">10</text>
<line x1="568.2" y1="535.8" x2="570.6" y2="535.8" stroke="#1e1e1e" stroke-width="0.8"/>
<text x="567.4" y="535.8" font-size="8.32" text-anchor="end" fill="#000" stroke="#000" stroke-width="0.12" dominant-baseline="central" transform="translate(567.4 535.8) scale(0.88 1) translate(-567.4 -535.8)">20</text>
<line x1="568.2" y1="513.1" x2="570.6" y2="513.1" stroke="#1e1e1e" stroke-width="0.8"/>
<text x="567.4" y="513.1" font-size="8.32" text-anchor="end" fill="#000" stroke="#000" stroke-width="0.12" dominant-baseline="central" transform="translate(567.4 513.1) scale(0.88 1) translate(-567.4 -513.1)">30</text>
<line x1="569.2" y1="569.85" x2="570.6" y2="569.85" stroke="#1e1e1e" stroke-width="0.7"/>
<line x1="569.2" y1="547.15" x2="570.6" y2="547.15" stroke="#1e1e1e" stroke-width="0.7"/>
<line x1="569.2" y1="524.45" x2="570.6" y2="524.45" stroke="#1e1e1e" stroke-width="0.7"/>
<text x="576.4" y="589.1" font-size="8.66" text-anchor="middle" fill="#000" stroke="#000" stroke-width="0.12" dominant-baseline="central" transform="translate(576.4 589.1) scale(0.88 1) translate(-576.4 -589.1)"></text>
<text x="582.8" y="589.1" font-size="8.66" text-anchor="middle" fill="#000" stroke="#000" stroke-width="0.12" dominant-baseline="central" transform="translate(582.8 589.1) scale(0.88 1) translate(-582.8 -589.1)"></text>
<text x="593.8" y="589.1" font-size="8.66" text-anchor="middle" fill="#000" stroke="#000" stroke-width="0.12" dominant-baseline="central" transform="translate(593.8 589.1) scale(0.88 1) translate(-593.8 -589.1)"></text>
<text x="600.2" y="589.1" font-size="8.66" text-anchor="middle" fill="#000" stroke="#000" stroke-width="0.12" dominant-baseline="central" transform="translate(600.2 589.1) scale(0.88 1) translate(-600.2 -589.1)"></text>
<text x="611.6" y="589.1" font-size="8.66" text-anchor="middle" fill="#000" stroke="#000" stroke-width="0.12" dominant-baseline="central" transform="translate(611.6 589.1) scale(0.88 1) translate(-611.6 -589.1)"></text>
<text x="618" y="589.1" font-size="8.66" text-anchor="middle" fill="#000" stroke="#000" stroke-width="0.12" dominant-baseline="central" transform="translate(618 589.1) scale(0.88 1) translate(-618 -589.1)"></text>
<text x="628.4" y="589.1" font-size="8.66" text-anchor="middle" fill="#000" stroke="#000" stroke-width="0.12" dominant-baseline="central" transform="translate(628.4 589.1) scale(0.88 1) translate(-628.4 -589.1)"></text>
<text x="634.8" y="589.1" font-size="8.66" text-anchor="middle" fill="#000" stroke="#000" stroke-width="0.12" dominant-baseline="central" transform="translate(634.8 589.1) scale(0.88 1) translate(-634.8 -589.1)"></text>
<text x="645.8" y="589.1" font-size="8.66" text-anchor="middle" fill="#000" stroke="#000" stroke-width="0.12" dominant-baseline="central" transform="translate(645.8 589.1) scale(0.88 1) translate(-645.8 -589.1)"></text>
<text x="652.2" y="589.1" font-size="8.66" text-anchor="middle" fill="#000" stroke="#000" stroke-width="0.12" dominant-baseline="central" transform="translate(652.2 589.1) scale(0.88 1) translate(-652.2 -589.1)"></text>
<text x="663.6" y="589.1" font-size="8.66" text-anchor="middle" fill="#000" stroke="#000" stroke-width="0.12" dominant-baseline="central" transform="translate(663.6 589.1) scale(0.88 1) translate(-663.6 -589.1)"></text>
<text x="670" y="589.1" font-size="8.66" text-anchor="middle" fill="#000" stroke="#000" stroke-width="0.12" dominant-baseline="central" transform="translate(670 589.1) scale(0.88 1) translate(-670 -589.1)"></text>
<line x1="583.7" y1="525.2" x2="670.4" y2="525.2" stroke="#333" stroke-width="0.8"/>
<text x="631.2" y="520.4" font-size="7.81" text-anchor="middle" fill="#000" stroke="#000" stroke-width="0.12" dominant-baseline="central" transform="translate(631.2 520.4) scale(0.88 1) translate(-631.2 -520.4)"><tspan font-style="italic">P</tspan> = 0.0005</text>
<line x1="576.4" y1="534.7" x2="663.1" y2="534.7" stroke="#333" stroke-width="0.8"/>
<text x="621.7" y="530.1" font-size="7.81" text-anchor="middle" fill="#000" stroke="#000" stroke-width="0.12" dominant-baseline="central" transform="translate(621.7 530.1) scale(0.88 1) translate(-621.7 -530.1)"><tspan font-style="italic">P</tspan> = 0.0001</text>
<line x1="635.7" y1="543.4" x2="653.1" y2="543.4" stroke="#333" stroke-width="0.8"/>
<text x="644.9" y="538.9" font-size="7.81" text-anchor="middle" fill="#000" stroke="#000" stroke-width="0.12" dominant-baseline="central" transform="translate(644.9 538.9) scale(0.88 1) translate(-644.9 -538.9)"><tspan font-style="italic">P</tspan> = 0.0066</text>
<line x1="627.5" y1="552.6" x2="645.8" y2="552.6" stroke="#333" stroke-width="0.8"/>
<text x="637.6" y="547.8" font-size="7.81" text-anchor="middle" fill="#000" stroke="#000" stroke-width="0.12" dominant-baseline="central" transform="translate(637.6 547.8) scale(0.88 1) translate(-637.6 -547.8)"><tspan font-style="italic">P</tspan> = 0.0040</text>
<line x1="579.6" y1="581.2" x2="579.6" y2="583.6" stroke="#1e1e1e" stroke-width="0.7"/>
<text x="579.6" y="589.1" font-size="9.01" text-anchor="middle" fill="#000" stroke="#000" stroke-width="0.12" dominant-baseline="central" transform="translate(579.6 589.1) scale(0.88 1) translate(-579.6 -589.1)">G1</text>
<line x1="597" y1="581.2" x2="597" y2="583.6" stroke="#1e1e1e" stroke-width="0.7"/>
<text x="597" y="589.1" font-size="9.01" text-anchor="middle" fill="#000" stroke="#000" stroke-width="0.12" dominant-baseline="central" transform="translate(597 589.1) scale(0.88 1) translate(-597 -589.1)">G2</text>
<line x1="614.8" y1="581.2" x2="614.8" y2="583.6" stroke="#1e1e1e" stroke-width="0.7"/>
<text x="614.8" y="589.1" font-size="9.01" text-anchor="middle" fill="#000" stroke="#000" stroke-width="0.12" dominant-baseline="central" transform="translate(614.8 589.1) scale(0.88 1) translate(-614.8 -589.1)">G3</text>
<line x1="631.6" y1="581.2" x2="631.6" y2="583.6" stroke="#1e1e1e" stroke-width="0.7"/>
<text x="631.6" y="589.1" font-size="9.01" text-anchor="middle" fill="#000" stroke="#000" stroke-width="0.12" dominant-baseline="central" transform="translate(631.6 589.1) scale(0.88 1) translate(-631.6 -589.1)">G4</text>
<line x1="649" y1="581.2" x2="649" y2="583.6" stroke="#1e1e1e" stroke-width="0.7"/>
<text x="649" y="589.1" font-size="9.01" text-anchor="middle" fill="#000" stroke="#000" stroke-width="0.12" dominant-baseline="central" transform="translate(649 589.1) scale(0.88 1) translate(-649 -589.1)">G5</text>
<line x1="666.8" y1="581.2" x2="666.8" y2="583.6" stroke="#1e1e1e" stroke-width="0.7"/>
<text x="666.8" y="589.1" font-size="9.01" text-anchor="middle" fill="#000" stroke="#000" stroke-width="0.12" dominant-baseline="central" transform="translate(666.8 589.1) scale(0.88 1) translate(-666.8 -589.1)">G6</text>
<text x="542.8" y="547.8" font-size="7.64" text-anchor="middle" fill="#000" stroke="#000" stroke-width="0.12" dominant-baseline="central" transform="rotate(-90 542.8 547.8) translate(542.8 547.8) scale(0.88 1) translate(-542.8 -547.8)">DC cell in</text>
<text x="552.3" y="545.9" font-size="8.66" text-anchor="middle" fill="#000" stroke="#000" stroke-width="0.12" dominant-baseline="central" transform="rotate(-90 552.3 545.9) translate(552.3 545.9) scale(0.88 1) translate(-552.3 -545.9)">CD11c<tspan font-size="4.94" baseline-shift="2.89">+</tspan>MHC II<tspan font-size="4.94" baseline-shift="2.89">+</tspan> cell (%)</text>
<circle cx="593.8" cy="508.2" r="1.3" fill="#1a1a1a"/>
<text x="597.4" y="508.2" font-size="8.89" text-anchor="start" fill="#000" stroke="#000" stroke-width="0.12" dominant-baseline="central" transform="translate(597.4 508.2) scale(0.88 1) translate(-597.4 -508.2)">cDC1</text>
<circle cx="629.3" cy="508.2" r="1.3" fill="#f7701d"/>
<text x="633.9" y="508.2" font-size="8.89" text-anchor="start" fill="#000" stroke="#000" stroke-width="0.12" dominant-baseline="central" transform="translate(633.9 508.2) scale(0.88 1) translate(-633.9 -508.2)">cDC2</text>
</svg>
</body></html>
